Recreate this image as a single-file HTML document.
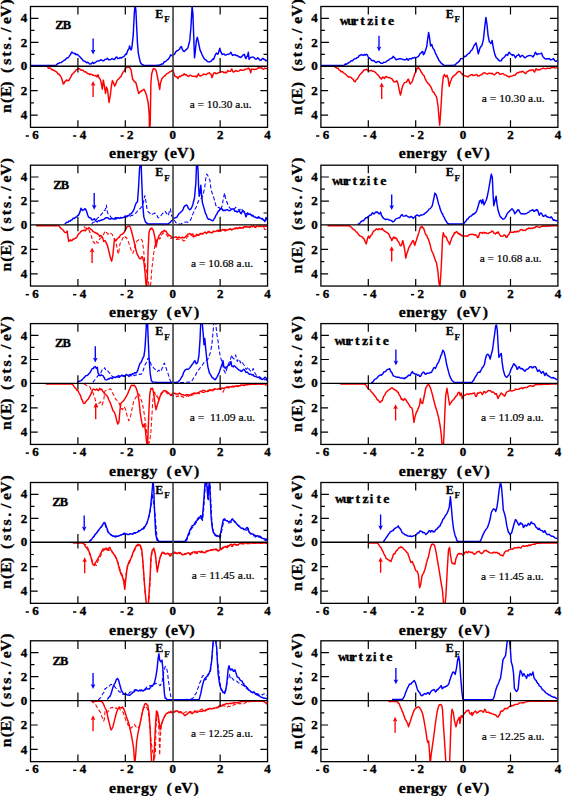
<!DOCTYPE html>
<html><head><meta charset="utf-8"><style>html,body{margin:0;padding:0;background:#fff;}svg{display:block;}</style></head>
<body><svg width="562" height="796" viewBox="0 0 562 796">
<rect width="562" height="796" fill="#fff"/>
<clipPath id="cL0"><rect x="30.5" y="6.5" width="237.05" height="120.85"/></clipPath>
<path d="M30.5,65.4 L56.1,65.4 L57.5,63.7 L58.8,63.3 L60.1,62.6 L61.2,62.5 L62.2,61.7 L63.3,61.0 L64.5,60.1 L65.6,59.5 L66.8,57.9 L68.0,57.9 L69.2,56.4 L70.4,54.7 L71.2,53.1 L72.0,52.0 L72.8,52.9 L73.6,53.1 L74.4,53.7 L75.2,53.4 L75.9,54.7 L76.7,54.4 L77.5,54.4 L78.3,55.5 L79.5,56.3 L80.7,57.9 L81.9,58.9 L83.1,60.7 L84.3,61.0 L85.5,61.8 L86.5,62.7 L87.6,62.3 L88.6,62.9 L89.4,63.9 L90.2,63.9 L91.4,63.7 L92.6,62.3 L93.8,63.4 L95.0,62.6 L96.0,62.0 L97.1,61.1 L98.1,61.0 L99.2,60.9 L100.2,60.2 L101.3,59.8 L102.5,60.8 L103.7,60.7 L104.9,59.4 L106.1,59.3 L107.4,58.2 L108.6,59.7 L109.8,59.8 L110.9,59.3 L112.1,58.6 L113.3,59.2 L114.5,59.5 L115.3,58.2 L116.1,57.1 L116.9,57.0 L117.7,58.6 L118.9,58.6 L120.0,57.5 L121.2,58.1 L122.4,57.1 L123.6,56.8 L124.8,55.5 L125.6,54.1 L126.4,54.4 L127.2,52.1 L128.0,49.9 L128.8,49.1 L129.6,46.0 L130.3,48.4 L131.1,49.9 L131.9,47.6 L133.2,35.7 L134.3,13.5 L135.1,4.8 L135.9,10.3 L136.7,27.8 L137.5,43.6 L138.3,53.1 L139.8,60.2 L140.6,62.8 L141.4,63.9 L142.6,64.8 L143.8,65.2 L149.4,65.4 L155.7,65.4 L159.7,65.0 L160.8,64.5 L162.0,63.9 L163.1,63.9 L164.1,61.7 L165.2,61.8 L166.4,60.7 L167.6,59.5 L168.4,59.2 L169.2,57.9 L169.9,56.6 L170.7,54.7 L171.5,55.5 L172.3,56.0 L173.5,54.9 L174.7,53.9 L175.9,51.6 L177.1,50.7 L177.9,50.6 L178.7,49.6 L179.5,49.4 L180.2,47.6 L181.4,46.5 L182.6,49.9 L183.4,51.1 L184.2,51.5 L185.4,50.2 L186.6,49.1 L187.4,48.7 L188.2,46.7 L189.8,40.4 L191.0,26.2 L192.1,6.4 L192.9,13.5 L193.7,35.7 L194.5,57.8 L195.3,51.5 L196.4,40.4 L197.3,37.2 L198.4,42.0 L200.0,49.9 L201.2,52.4 L202.4,55.4 L203.6,57.8 L204.8,59.4 L206.0,60.0 L207.2,61.3 L208.3,61.9 L209.5,61.8 L210.7,61.5 L211.9,60.2 L212.7,59.1 L213.5,59.4 L214.3,57.6 L215.1,55.4 L215.9,53.8 L216.7,53.1 L217.4,54.2 L218.2,53.9 L219.8,48.3 L220.6,51.5 L221.4,52.7 L222.2,54.6 L223.0,54.1 L223.8,53.9 L225.0,55.0 L226.2,55.0 L227.3,54.3 L228.5,54.3 L229.7,53.9 L230.9,52.3 L231.7,53.9 L232.5,55.4 L233.7,55.0 L234.9,54.6 L236.0,55.5 L237.2,55.4 L238.4,56.5 L239.6,57.0 L240.8,57.5 L242.0,56.2 L243.2,54.9 L244.4,54.3 L245.2,57.3 L245.9,58.6 L246.7,56.7 L247.5,56.2 L248.3,52.3 L249.1,59.4 L249.9,58.1 L250.7,57.5 L251.9,57.1 L253.1,57.0 L254.2,57.8 L255.4,59.1 L256.6,59.1 L257.8,57.8 L259.0,59.1 L260.2,60.2 L261.0,60.4 L261.8,59.1 L263.0,58.4 L264.1,59.4 L264.9,59.4 L265.7,60.7 L266.7,60.5 L267.6,61.3" fill="none" stroke="#0000ff" stroke-width="1.45" stroke-linejoin="round" clip-path="url(#cL0)"/>
<path d="M47.4,67.0 L48.5,68.2 L49.5,67.9 L50.6,68.2 L51.6,69.7 L52.7,69.6 L53.8,70.5 L54.8,70.9 L55.9,71.5 L56.9,72.4 L58.1,74.0 L59.3,74.5 L60.5,76.0 L61.7,78.5 L63.3,84.0 L64.1,83.4 L64.8,81.6 L65.6,81.3 L66.4,80.0 L67.2,80.3 L68.0,80.8 L68.8,80.5 L69.6,79.2 L70.4,77.7 L71.2,76.1 L72.0,74.4 L72.8,73.7 L74.0,72.4 L75.2,71.3 L76.3,69.6 L77.5,69.3 L78.7,68.5 L79.9,69.0 L81.1,70.3 L82.3,70.2 L83.3,70.3 L84.4,71.9 L85.5,71.8 L86.5,72.6 L87.6,73.6 L88.6,73.7 L90.0,74.7 L91.0,74.1 L92.1,74.7 L93.4,75.2 L94.8,75.8 L95.8,75.5 L96.9,76.9 L98.0,74.7 L99.1,78.0 L100.1,79.0 L101.2,82.8 L102.3,89.2 L103.3,80.1 L104.4,86.0 L105.5,93.4 L106.5,87.0 L107.6,90.2 L109.0,102.5 L110.3,95.6 L111.4,86.0 L112.4,80.6 L113.5,82.8 L114.6,86.0 L115.4,85.0 L116.2,82.8 L117.0,80.6 L117.8,79.6 L118.8,78.7 L119.9,77.4 L121.0,76.7 L122.0,74.2 L123.1,72.1 L124.2,71.0 L125.0,69.3 L125.8,68.3 L126.6,66.9 L127.4,67.3 L129.5,67.3 L130.3,68.5 L131.1,69.9 L132.7,79.6 L133.5,80.1 L134.3,81.7 L135.1,82.0 L135.9,82.8 L137.0,87.0 L138.6,93.4 L139.4,93.0 L140.2,91.3 L141.2,91.5 L142.3,90.2 L143.1,89.9 L143.9,89.2 L145.0,91.3 L145.8,93.3 L146.6,95.6 L148.2,103.0 L149.2,114.8 L149.4,130.7 L150.2,124.4 L150.9,83.2 L151.7,73.7 L153.3,68.6 L154.1,69.1 L154.9,69.0 L155.7,69.7 L156.5,72.1 L158.1,80.0 L159.7,89.5 L160.4,83.2 L162.0,78.5 L163.2,77.3 L164.4,76.1 L165.6,75.1 L166.8,73.7 L168.0,73.2 L169.2,72.4 L170.3,71.5 L171.5,71.3 L172.3,70.1 L173.1,70.5 L174.7,76.1 L175.5,76.2 L176.3,76.9 L177.1,76.9 L177.9,78.5 L178.7,77.4 L179.5,76.1 L180.6,76.6 L181.8,75.3 L183.0,75.4 L184.2,73.7 L185.3,74.9 L186.3,74.6 L187.4,76.0 L188.6,76.4 L189.8,75.2 L190.9,75.4 L192.1,76.0 L193.3,76.3 L194.5,76.5 L195.7,76.2 L196.9,77.1 L197.7,75.1 L198.4,73.7 L199.2,75.5 L200.0,76.0 L201.2,75.8 L202.4,75.2 L203.6,74.0 L204.8,74.4 L206.0,74.8 L207.2,73.7 L208.3,73.1 L209.5,72.8 L210.3,74.1 L211.1,74.4 L211.9,77.6 L212.7,76.0 L213.5,73.3 L214.7,72.6 L215.9,73.7 L217.1,73.5 L218.2,72.8 L219.4,72.5 L220.6,72.1 L221.8,71.8 L223.0,71.8 L224.0,72.8 L225.1,72.1 L226.2,72.8 L226.9,72.3 L227.7,70.5 L228.9,71.4 L230.1,71.3 L230.9,70.7 L231.7,68.9 L232.5,70.8 L233.3,72.1 L234.5,71.5 L235.7,70.5 L236.8,71.1 L238.0,71.3 L239.2,70.8 L240.4,69.7 L241.6,70.3 L242.8,70.2 L244.0,70.1 L245.2,69.2 L246.3,69.1 L247.5,68.9 L248.3,68.0 L249.1,68.6 L249.9,70.0 L250.7,72.8 L251.5,68.9 L252.5,69.4 L253.6,69.2 L254.7,69.7 L255.8,69.2 L257.0,68.9 L258.2,67.7 L259.4,68.1 L260.4,67.6 L261.5,67.8 L262.6,68.9 L263.7,69.3 L264.9,68.1 L266.3,68.6 L267.6,68.6" fill="none" stroke="#ff0000" stroke-width="1.45" stroke-linejoin="round" clip-path="url(#cL0)"/>
<line x1="93.10" y1="38.40" x2="93.10" y2="50.70" stroke="#0000ff" stroke-width="1.35"/><path d="M90.80,49.70 L93.10,50.50 L95.40,49.70 L93.10,54.50Z" fill="#0000ff"/>
<line x1="93.10" y1="96.90" x2="93.10" y2="84.70" stroke="#ff0000" stroke-width="1.35"/><path d="M90.80,85.70 L93.10,84.90 L95.40,85.70 L93.10,80.90Z" fill="#ff0000"/>
<line x1="30.5" y1="66.25" x2="267.55" y2="66.25" stroke="#000" stroke-width="1.3"/>
<line x1="173.03" y1="6.5" x2="173.03" y2="127.35" stroke="#404040" stroke-width="1.6"/>
<path d="M77.91,127.35v-7.1M77.91,6.5v8.1M77.91,58.10v14.5M125.32,127.35v-7.1M125.32,6.5v8.1M125.32,58.10v14.5M220.14,127.35v-7.1M220.14,6.5v8.1M220.14,58.10v14.5M30.5,115.10h7.2M267.55,115.10h-7.2M30.5,102.90h3.4M267.55,102.90h-3.4M30.5,90.70h7.2M267.55,90.70h-7.2M30.5,78.50h3.4M267.55,78.50h-3.4M30.5,54.30h4M267.55,54.30h-4M30.5,42.40h8M267.55,42.40h-8M30.5,30.35h4M267.55,30.35h-4M30.5,18.30h8M267.55,18.30h-8" stroke="#000" stroke-width="1.2" fill="none"/>
<rect x="30.5" y="6.5" width="237.05" height="120.85" fill="none" stroke="#000" stroke-width="1.3"/>
<text transform="translate(24.00,22.40) scale(1.08,1.0)" text-anchor="middle" font-family="Liberation Serif" font-weight="bold" font-size="12.0" stroke="#000" stroke-width="0.35">4</text>
<text transform="translate(24.00,46.50) scale(1.08,1.0)" text-anchor="middle" font-family="Liberation Serif" font-weight="bold" font-size="12.0" stroke="#000" stroke-width="0.35">2</text>
<text transform="translate(24.00,70.30) scale(1.08,1.0)" text-anchor="middle" font-family="Liberation Serif" font-weight="bold" font-size="12.0" stroke="#000" stroke-width="0.35">0</text>
<text transform="translate(24.00,94.80) scale(1.08,1.0)" text-anchor="middle" font-family="Liberation Serif" font-weight="bold" font-size="12.0" stroke="#000" stroke-width="0.35">2</text>
<text transform="translate(24.00,119.20) scale(1.08,1.0)" text-anchor="middle" font-family="Liberation Serif" font-weight="bold" font-size="12.0" stroke="#000" stroke-width="0.35">4</text>
<text transform="translate(35.50,139.15) scale(1.08,1.0)" text-anchor="middle" font-family="Liberation Serif" font-weight="bold" font-size="12.0" stroke="#000" stroke-width="0.35">6</text>
<rect x="25.70" y="135.25" width="3.2" height="1.5" fill="#000"/>
<text transform="translate(82.91,139.15) scale(1.08,1.0)" text-anchor="middle" font-family="Liberation Serif" font-weight="bold" font-size="12.0" stroke="#000" stroke-width="0.35">4</text>
<rect x="73.11" y="135.25" width="3.2" height="1.5" fill="#000"/>
<text transform="translate(130.32,139.15) scale(1.08,1.0)" text-anchor="middle" font-family="Liberation Serif" font-weight="bold" font-size="12.0" stroke="#000" stroke-width="0.35">2</text>
<rect x="120.52" y="135.25" width="3.2" height="1.5" fill="#000"/>
<text transform="translate(172.73,139.15) scale(1.08,1.0)" text-anchor="middle" font-family="Liberation Serif" font-weight="bold" font-size="12.0" stroke="#000" stroke-width="0.35">0</text>
<text transform="translate(220.14,139.15) scale(1.08,1.0)" text-anchor="middle" font-family="Liberation Serif" font-weight="bold" font-size="12.0" stroke="#000" stroke-width="0.35">2</text>
<text transform="translate(267.55,139.15) scale(1.08,1.0)" text-anchor="middle" font-family="Liberation Serif" font-weight="bold" font-size="12.0" stroke="#000" stroke-width="0.35">4</text>
<text transform="translate(112.60,157.75) scale(1.13,1.0)" text-anchor="middle" font-family="Liberation Serif" font-weight="bold" font-size="14.0" stroke="#000" stroke-width="0.3">e</text>
<text transform="translate(121.00,157.75) scale(1.13,1.0)" text-anchor="middle" font-family="Liberation Serif" font-weight="bold" font-size="14.0" stroke="#000" stroke-width="0.3">n</text>
<text transform="translate(129.20,157.75) scale(1.13,1.0)" text-anchor="middle" font-family="Liberation Serif" font-weight="bold" font-size="14.0" stroke="#000" stroke-width="0.3">e</text>
<text transform="translate(136.80,157.75) scale(1.13,1.0)" text-anchor="middle" font-family="Liberation Serif" font-weight="bold" font-size="14.0" stroke="#000" stroke-width="0.3">r</text>
<text transform="translate(145.00,157.75) scale(1.13,1.0)" text-anchor="middle" font-family="Liberation Serif" font-weight="bold" font-size="14.0" stroke="#000" stroke-width="0.3">g</text>
<text transform="translate(153.40,157.75) scale(1.13,1.0)" text-anchor="middle" font-family="Liberation Serif" font-weight="bold" font-size="14.0" stroke="#000" stroke-width="0.3">y</text>
<text transform="translate(167.00,157.75) scale(1.13,1.0)" text-anchor="middle" font-family="Liberation Serif" font-weight="bold" font-size="14.0" stroke="#000" stroke-width="0.3">(</text>
<text transform="translate(173.50,157.75) scale(1.13,1.0)" text-anchor="middle" font-family="Liberation Serif" font-weight="bold" font-size="14.0" stroke="#000" stroke-width="0.3">e</text>
<text transform="translate(182.70,157.75) scale(1.13,1.0)" text-anchor="middle" font-family="Liberation Serif" font-weight="bold" font-size="14.0" stroke="#000" stroke-width="0.3">V</text>
<text transform="translate(192.20,157.75) scale(1.13,1.0)" text-anchor="middle" font-family="Liberation Serif" font-weight="bold" font-size="14.0" stroke="#000" stroke-width="0.3">)</text>
<text transform="translate(10.60,108.50) rotate(-90) scale(1.13,1.06)" text-anchor="middle" font-family="Liberation Serif" font-weight="bold" font-size="14.0" stroke="#000" stroke-width="0.3">n</text>
<text transform="translate(10.60,100.40) rotate(-90) scale(1.13,1.06)" text-anchor="middle" font-family="Liberation Serif" font-weight="bold" font-size="14.0" stroke="#000" stroke-width="0.3">(</text>
<text transform="translate(10.60,91.60) rotate(-90) scale(1.13,1.06)" text-anchor="middle" font-family="Liberation Serif" font-weight="bold" font-size="14.0" stroke="#000" stroke-width="0.3">E</text>
<text transform="translate(10.60,84.00) rotate(-90) scale(1.13,1.06)" text-anchor="middle" font-family="Liberation Serif" font-weight="bold" font-size="14.0" stroke="#000" stroke-width="0.3">)</text>
<text transform="translate(10.60,70.30) rotate(-90) scale(1.13,1.06)" text-anchor="middle" font-family="Liberation Serif" font-weight="bold" font-size="14.0" stroke="#000" stroke-width="0.3">(</text>
<text transform="translate(10.60,61.65) rotate(-90) scale(1.13,1.06)" text-anchor="middle" font-family="Liberation Serif" font-weight="bold" font-size="14.0" stroke="#000" stroke-width="0.3">s</text>
<text transform="translate(10.60,54.00) rotate(-90) scale(1.13,1.06)" text-anchor="middle" font-family="Liberation Serif" font-weight="bold" font-size="14.0" stroke="#000" stroke-width="0.3">t</text>
<text transform="translate(10.60,46.30) rotate(-90) scale(1.13,1.06)" text-anchor="middle" font-family="Liberation Serif" font-weight="bold" font-size="14.0" stroke="#000" stroke-width="0.3">s</text>
<text transform="translate(10.60,38.80) rotate(-90) scale(1.13,1.06)" text-anchor="middle" font-family="Liberation Serif" font-weight="bold" font-size="14.0" stroke="#000" stroke-width="0.3">.</text>
<text transform="translate(10.60,29.80) rotate(-90) scale(1.13,1.06)" text-anchor="middle" font-family="Liberation Serif" font-weight="bold" font-size="14.0" stroke="#000" stroke-width="0.3">/</text>
<text transform="translate(10.60,20.40) rotate(-90) scale(1.13,1.06)" text-anchor="middle" font-family="Liberation Serif" font-weight="bold" font-size="14.0" stroke="#000" stroke-width="0.3">e</text>
<text transform="translate(10.60,11.20) rotate(-90) scale(1.13,1.06)" text-anchor="middle" font-family="Liberation Serif" font-weight="bold" font-size="14.0" stroke="#000" stroke-width="0.3">V</text>
<text transform="translate(10.60,1.80) rotate(-90) scale(1.13,1.06)" text-anchor="middle" font-family="Liberation Serif" font-weight="bold" font-size="14.0" stroke="#000" stroke-width="0.3">)</text>
<text transform="translate(159.33,17.70)" text-anchor="middle" font-family="Liberation Serif" font-weight="bold" font-size="12" stroke="#000" stroke-width="0.3">E</text>
<text transform="translate(166.93,22.40)" text-anchor="middle" font-family="Liberation Serif" font-weight="bold" font-size="9" stroke="#000" stroke-width="0.25">F</text>
<text x="189.70" y="107.70" textLength="61.90" lengthAdjust="spacingAndGlyphs" font-family="Liberation Serif" font-size="11" stroke="#000" stroke-width="0.2">a = 10.30 a.u.</text>
<text transform="translate(59.50,28.60)" text-anchor="middle" font-family="Liberation Serif" font-weight="bold" font-size="12.5" stroke="#000" stroke-width="0.35">Z</text>
<text transform="translate(67.00,28.60)" text-anchor="middle" font-family="Liberation Serif" font-weight="bold" font-size="12.5" stroke="#000" stroke-width="0.35">B</text>
<clipPath id="cR0"><rect x="320.9" y="6.5" width="237.00" height="120.85"/></clipPath>
<path d="M320.9,65.4 L344.1,65.4 L345.3,64.0 L346.5,64.2 L347.7,63.4 L348.9,62.6 L350.1,61.8 L351.3,60.7 L352.5,60.7 L353.6,59.5 L354.8,58.7 L356.0,58.6 L357.2,57.7 L358.4,57.1 L359.2,55.4 L360.0,55.5 L361.2,54.5 L362.4,55.0 L363.5,55.3 L364.7,54.4 L365.5,55.1 L366.3,54.4 L367.1,54.5 L367.9,56.3 L369.1,58.0 L370.3,58.6 L371.5,60.3 L372.6,60.7 L373.8,60.5 L375.0,61.8 L376.2,62.5 L377.4,61.8 L378.6,61.4 L379.8,62.3 L380.6,63.0 L381.4,63.4 L382.6,63.3 L383.7,62.3 L384.9,62.4 L386.1,61.8 L387.3,60.8 L388.5,60.2 L389.7,58.9 L390.9,58.6 L392.1,58.0 L393.2,56.3 L394.0,57.4 L394.8,57.9 L395.0,58.6 L396.2,59.8 L397.4,59.1 L398.6,59.2 L399.8,58.6 L400.9,58.7 L402.1,59.1 L403.3,59.5 L404.5,59.8 L405.7,59.8 L406.9,58.6 L407.7,59.8 L408.5,60.2 L409.3,58.6 L410.1,58.6 L411.2,59.0 L412.4,57.9 L413.6,58.0 L414.8,57.5 L416.0,57.6 L417.2,57.1 L418.4,56.4 L419.6,54.7 L420.3,53.2 L421.1,53.1 L421.9,51.6 L422.7,51.5 L423.5,54.7 L424.3,53.5 L425.1,51.5 L426.7,46.8 L427.5,40.4 L428.6,32.5 L429.5,37.3 L430.6,46.0 L431.8,44.4 L433.0,48.4 L434.2,49.8 L435.4,53.1 L436.6,55.5 L437.8,57.9 L439.0,60.4 L440.1,61.8 L441.3,63.3 L442.5,64.2 L443.7,65.1 L444.9,65.4 L452.0,65.4 L455.2,65.0 L456.4,63.4 L457.6,62.6 L458.8,61.7 L459.9,60.2 L460.7,58.6 L461.5,58.6 L462.3,58.6 L463.1,58.6 L463.9,57.2 L464.7,56.3 L465.9,56.2 L467.1,54.7 L468.3,53.7 L469.5,53.1 L470.2,51.9 L471.0,50.7 L472.3,49.4 L473.6,46.7 L474.4,44.8 L475.2,44.4 L476.0,42.8 L477.1,47.5 L478.3,53.9 L479.9,48.3 L480.9,46.4 L481.8,45.9 L483.4,39.6 L484.7,27.7 L485.9,17.4 L487.0,24.6 L488.1,35.6 L489.4,42.0 L490.2,42.5 L491.0,43.6 L492.1,40.4 L493.4,48.3 L494.9,54.6 L496.1,57.4 L497.3,58.6 L498.5,59.9 L499.7,61.0 L500.5,60.9 L501.3,60.7 L502.5,58.4 L503.6,57.8 L504.8,56.7 L506.0,54.6 L506.8,54.9 L507.6,55.4 L508.4,53.2 L509.2,52.3 L510.4,53.9 L511.6,54.6 L512.4,55.4 L513.1,54.6 L514.3,55.5 L515.5,57.8 L516.3,56.4 L517.1,55.4 L517.9,55.2 L518.7,54.3 L519.5,55.9 L520.3,57.0 L521.5,55.7 L522.6,55.4 L523.8,56.9 L525.0,57.8 L526.2,57.0 L527.4,56.2 L528.6,55.7 L529.8,55.4 L530.8,55.6 L531.9,55.9 L532.9,57.0 L534.1,55.4 L535.3,52.3 L536.1,53.2 L536.9,54.6 L538.1,53.8 L539.3,53.9 L540.5,53.6 L541.6,53.1 L542.4,55.6 L543.2,57.0 L544.0,57.7 L544.8,58.6 L546.0,59.2 L547.2,58.6 L548.4,58.7 L549.5,58.6 L550.3,59.8 L551.1,59.7 L552.3,59.4 L553.5,58.6 L554.3,60.1 L555.1,61.0 L556.3,61.3 L557.5,60.2" fill="none" stroke="#0000ff" stroke-width="1.45" stroke-linejoin="round" clip-path="url(#cR0)"/>
<path d="M334.6,67.0 L335.8,67.4 L337.0,68.2 L338.1,68.2 L339.1,69.8 L340.2,70.5 L341.2,71.9 L342.3,71.4 L343.4,72.9 L344.4,73.3 L345.5,74.2 L346.5,75.3 L347.6,76.2 L348.6,77.2 L349.7,76.9 L350.9,77.2 L352.1,78.5 L353.2,79.4 L354.4,81.6 L355.2,81.7 L356.0,80.0 L357.2,79.2 L358.4,77.2 L359.6,75.0 L360.8,73.7 L362.0,72.6 L363.1,71.3 L364.3,69.7 L365.5,69.7 L366.7,69.3 L367.9,70.5 L369.1,70.7 L370.3,70.8 L371.5,70.4 L372.6,71.3 L373.8,71.3 L375.0,72.1 L376.2,73.3 L377.4,74.5 L378.6,75.7 L379.8,77.7 L380.6,77.8 L381.4,79.2 L382.2,77.9 L382.9,76.9 L383.7,77.9 L384.5,78.5 L385.3,76.9 L386.1,76.5 L387.3,77.2 L388.5,77.7 L389.7,77.5 L390.9,78.5 L392.1,78.9 L393.2,80.8 L394.0,81.9 L394.8,81.6 L395.0,81.6 L395.8,81.7 L396.6,80.8 L397.4,81.9 L398.2,84.8 L399.8,92.7 L400.5,95.1 L402.1,88.0 L402.9,85.4 L403.7,84.0 L404.5,82.6 L405.3,82.4 L406.1,82.1 L406.9,81.6 L407.7,79.7 L408.5,79.2 L410.1,84.0 L410.8,83.2 L411.6,82.4 L412.4,81.0 L413.2,78.5 L414.8,73.7 L415.6,72.2 L416.4,69.0 L417.2,68.8 L418.0,67.4 L418.8,68.0 L419.6,69.3 L420.3,69.9 L421.1,72.1 L421.9,72.7 L422.7,74.5 L423.5,75.2 L424.3,76.1 L425.1,78.9 L425.9,80.0 L426.7,82.1 L427.5,82.4 L428.3,84.0 L429.1,84.0 L429.9,85.8 L430.6,86.4 L431.4,88.1 L432.2,90.3 L433.0,92.0 L433.8,91.9 L434.6,94.0 L435.4,95.1 L436.2,96.3 L437.0,99.0 L438.1,107.0 L439.0,118.1 L439.7,125.2 L440.5,114.9 L441.3,102.2 L442.2,86.4 L443.3,76.9 L444.4,74.5 L445.7,76.9 L447.0,75.3 L448.1,78.5 L449.2,86.4 L450.4,81.6 L451.2,80.0 L452.0,77.7 L453.2,76.5 L454.4,75.3 L455.6,74.6 L456.8,72.9 L458.0,71.9 L459.2,71.3 L460.3,71.8 L461.5,73.7 L462.3,73.8 L463.1,75.3 L464.3,75.5 L465.5,76.1 L466.7,76.3 L467.9,76.9 L469.1,75.8 L470.2,75.3 L471.1,74.7 L472.0,74.4 L473.2,75.7 L474.4,75.2 L475.6,74.9 L476.8,74.4 L477.9,76.0 L479.1,76.0 L480.3,75.0 L481.5,74.9 L482.7,73.6 L483.9,72.8 L485.1,72.9 L486.2,73.6 L487.4,74.0 L488.6,73.3 L489.8,73.3 L491.0,73.6 L492.2,73.2 L493.4,74.4 L494.6,74.9 L495.7,73.6 L496.5,72.9 L497.3,72.4 L498.5,72.6 L499.7,74.4 L500.9,74.0 L502.1,73.6 L503.3,73.6 L504.4,74.9 L505.6,75.0 L506.8,76.0 L508.0,76.3 L509.2,77.1 L510.4,76.1 L511.6,76.0 L512.8,75.7 L513.9,75.2 L515.1,75.2 L516.3,73.6 L517.5,72.6 L518.7,72.8 L519.9,71.8 L521.1,72.1 L522.2,71.3 L523.4,71.7 L524.6,72.9 L525.8,73.6 L527.0,71.6 L528.2,71.3 L529.4,70.2 L530.6,70.5 L531.8,69.9 L532.9,69.7 L533.7,71.1 L534.5,72.1 L535.3,70.3 L536.1,68.6 L537.3,70.0 L538.5,69.7 L539.7,69.9 L540.9,69.2 L542.0,68.7 L543.2,68.1 L544.4,68.6 L545.6,68.9 L546.8,68.3 L548.0,68.1 L549.2,68.4 L550.4,68.6 L551.5,67.3 L552.7,67.6 L553.9,67.3 L555.1,68.1 L556.3,67.9 L557.5,67.6" fill="none" stroke="#ff0000" stroke-width="1.45" stroke-linejoin="round" clip-path="url(#cR0)"/>
<line x1="379.00" y1="35.70" x2="379.00" y2="47.60" stroke="#0000ff" stroke-width="1.35"/><path d="M376.70,46.60 L379.00,47.40 L381.30,46.60 L379.00,51.40Z" fill="#0000ff"/>
<line x1="381.70" y1="99.00" x2="381.70" y2="86.30" stroke="#ff0000" stroke-width="1.35"/><path d="M379.40,87.30 L381.70,86.50 L384.00,87.30 L381.70,82.50Z" fill="#ff0000"/>
<line x1="320.9" y1="66.25" x2="557.9" y2="66.25" stroke="#000" stroke-width="1.3"/>
<line x1="463.40" y1="6.5" x2="463.40" y2="127.35" stroke="#000" stroke-width="1.2"/>
<path d="M368.30,127.35v-7.1M368.30,6.5v8.1M368.30,58.10v14.5M415.70,127.35v-7.1M415.70,6.5v8.1M415.70,58.10v14.5M510.50,127.35v-7.1M510.50,6.5v8.1M510.50,58.10v14.5M320.9,115.10h7.2M557.9,115.10h-7.2M320.9,102.90h3.4M557.9,102.90h-3.4M320.9,90.70h7.2M557.9,90.70h-7.2M320.9,78.50h3.4M557.9,78.50h-3.4M320.9,54.30h4M557.9,54.30h-4M320.9,42.40h8M557.9,42.40h-8M320.9,30.35h4M557.9,30.35h-4M320.9,18.30h8M557.9,18.30h-8" stroke="#000" stroke-width="1.2" fill="none"/>
<rect x="320.9" y="6.5" width="237.00" height="120.85" fill="none" stroke="#000" stroke-width="1.3"/>
<text transform="translate(314.40,22.40) scale(1.08,1.0)" text-anchor="middle" font-family="Liberation Serif" font-weight="bold" font-size="12.0" stroke="#000" stroke-width="0.35">4</text>
<text transform="translate(314.40,46.50) scale(1.08,1.0)" text-anchor="middle" font-family="Liberation Serif" font-weight="bold" font-size="12.0" stroke="#000" stroke-width="0.35">2</text>
<text transform="translate(314.40,70.30) scale(1.08,1.0)" text-anchor="middle" font-family="Liberation Serif" font-weight="bold" font-size="12.0" stroke="#000" stroke-width="0.35">0</text>
<text transform="translate(314.40,94.80) scale(1.08,1.0)" text-anchor="middle" font-family="Liberation Serif" font-weight="bold" font-size="12.0" stroke="#000" stroke-width="0.35">2</text>
<text transform="translate(314.40,119.20) scale(1.08,1.0)" text-anchor="middle" font-family="Liberation Serif" font-weight="bold" font-size="12.0" stroke="#000" stroke-width="0.35">4</text>
<text transform="translate(325.90,139.15) scale(1.08,1.0)" text-anchor="middle" font-family="Liberation Serif" font-weight="bold" font-size="12.0" stroke="#000" stroke-width="0.35">6</text>
<rect x="316.10" y="135.25" width="3.2" height="1.5" fill="#000"/>
<text transform="translate(373.30,139.15) scale(1.08,1.0)" text-anchor="middle" font-family="Liberation Serif" font-weight="bold" font-size="12.0" stroke="#000" stroke-width="0.35">4</text>
<rect x="363.50" y="135.25" width="3.2" height="1.5" fill="#000"/>
<text transform="translate(420.70,139.15) scale(1.08,1.0)" text-anchor="middle" font-family="Liberation Serif" font-weight="bold" font-size="12.0" stroke="#000" stroke-width="0.35">2</text>
<rect x="410.90" y="135.25" width="3.2" height="1.5" fill="#000"/>
<text transform="translate(463.10,139.15) scale(1.08,1.0)" text-anchor="middle" font-family="Liberation Serif" font-weight="bold" font-size="12.0" stroke="#000" stroke-width="0.35">0</text>
<text transform="translate(510.50,139.15) scale(1.08,1.0)" text-anchor="middle" font-family="Liberation Serif" font-weight="bold" font-size="12.0" stroke="#000" stroke-width="0.35">2</text>
<text transform="translate(557.90,139.15) scale(1.08,1.0)" text-anchor="middle" font-family="Liberation Serif" font-weight="bold" font-size="12.0" stroke="#000" stroke-width="0.35">4</text>
<text transform="translate(402.20,157.75) scale(1.13,1.0)" text-anchor="middle" font-family="Liberation Serif" font-weight="bold" font-size="14.0" stroke="#000" stroke-width="0.3">e</text>
<text transform="translate(410.60,157.75) scale(1.13,1.0)" text-anchor="middle" font-family="Liberation Serif" font-weight="bold" font-size="14.0" stroke="#000" stroke-width="0.3">n</text>
<text transform="translate(418.80,157.75) scale(1.13,1.0)" text-anchor="middle" font-family="Liberation Serif" font-weight="bold" font-size="14.0" stroke="#000" stroke-width="0.3">e</text>
<text transform="translate(426.40,157.75) scale(1.13,1.0)" text-anchor="middle" font-family="Liberation Serif" font-weight="bold" font-size="14.0" stroke="#000" stroke-width="0.3">r</text>
<text transform="translate(434.60,157.75) scale(1.13,1.0)" text-anchor="middle" font-family="Liberation Serif" font-weight="bold" font-size="14.0" stroke="#000" stroke-width="0.3">g</text>
<text transform="translate(443.00,157.75) scale(1.13,1.0)" text-anchor="middle" font-family="Liberation Serif" font-weight="bold" font-size="14.0" stroke="#000" stroke-width="0.3">y</text>
<text transform="translate(459.30,157.75) scale(1.13,1.0)" text-anchor="middle" font-family="Liberation Serif" font-weight="bold" font-size="14.0" stroke="#000" stroke-width="0.3">(</text>
<text transform="translate(467.90,157.75) scale(1.13,1.0)" text-anchor="middle" font-family="Liberation Serif" font-weight="bold" font-size="14.0" stroke="#000" stroke-width="0.3">e</text>
<text transform="translate(477.20,157.75) scale(1.13,1.0)" text-anchor="middle" font-family="Liberation Serif" font-weight="bold" font-size="14.0" stroke="#000" stroke-width="0.3">V</text>
<text transform="translate(487.10,157.75) scale(1.13,1.0)" text-anchor="middle" font-family="Liberation Serif" font-weight="bold" font-size="14.0" stroke="#000" stroke-width="0.3">)</text>
<text transform="translate(301.70,110.50) rotate(-90) scale(1.13,1.06)" text-anchor="middle" font-family="Liberation Serif" font-weight="bold" font-size="14.0" stroke="#000" stroke-width="0.3">n</text>
<text transform="translate(301.70,101.90) rotate(-90) scale(1.13,1.06)" text-anchor="middle" font-family="Liberation Serif" font-weight="bold" font-size="14.0" stroke="#000" stroke-width="0.3">(</text>
<text transform="translate(301.70,93.30) rotate(-90) scale(1.13,1.06)" text-anchor="middle" font-family="Liberation Serif" font-weight="bold" font-size="14.0" stroke="#000" stroke-width="0.3">E</text>
<text transform="translate(301.70,84.60) rotate(-90) scale(1.13,1.06)" text-anchor="middle" font-family="Liberation Serif" font-weight="bold" font-size="14.0" stroke="#000" stroke-width="0.3">)</text>
<text transform="translate(301.70,68.90) rotate(-90) scale(1.13,1.06)" text-anchor="middle" font-family="Liberation Serif" font-weight="bold" font-size="14.0" stroke="#000" stroke-width="0.3">(</text>
<text transform="translate(301.70,62.20) rotate(-90) scale(1.13,1.06)" text-anchor="middle" font-family="Liberation Serif" font-weight="bold" font-size="14.0" stroke="#000" stroke-width="0.3">s</text>
<text transform="translate(301.70,54.50) rotate(-90) scale(1.13,1.06)" text-anchor="middle" font-family="Liberation Serif" font-weight="bold" font-size="14.0" stroke="#000" stroke-width="0.3">t</text>
<text transform="translate(301.70,46.20) rotate(-90) scale(1.13,1.06)" text-anchor="middle" font-family="Liberation Serif" font-weight="bold" font-size="14.0" stroke="#000" stroke-width="0.3">s</text>
<text transform="translate(301.70,38.90) rotate(-90) scale(1.13,1.06)" text-anchor="middle" font-family="Liberation Serif" font-weight="bold" font-size="14.0" stroke="#000" stroke-width="0.3">.</text>
<text transform="translate(301.70,30.80) rotate(-90) scale(1.13,1.06)" text-anchor="middle" font-family="Liberation Serif" font-weight="bold" font-size="14.0" stroke="#000" stroke-width="0.3">/</text>
<text transform="translate(301.70,20.30) rotate(-90) scale(1.13,1.06)" text-anchor="middle" font-family="Liberation Serif" font-weight="bold" font-size="14.0" stroke="#000" stroke-width="0.3">e</text>
<text transform="translate(301.70,10.80) rotate(-90) scale(1.13,1.06)" text-anchor="middle" font-family="Liberation Serif" font-weight="bold" font-size="14.0" stroke="#000" stroke-width="0.3">V</text>
<text transform="translate(301.70,1.50) rotate(-90) scale(1.13,1.06)" text-anchor="middle" font-family="Liberation Serif" font-weight="bold" font-size="14.0" stroke="#000" stroke-width="0.3">)</text>
<text transform="translate(449.70,17.70)" text-anchor="middle" font-family="Liberation Serif" font-weight="bold" font-size="12" stroke="#000" stroke-width="0.3">E</text>
<text transform="translate(457.30,22.40)" text-anchor="middle" font-family="Liberation Serif" font-weight="bold" font-size="9" stroke="#000" stroke-width="0.25">F</text>
<text x="481.80" y="102.20" textLength="62.90" lengthAdjust="spacingAndGlyphs" font-family="Liberation Serif" font-size="11" stroke="#000" stroke-width="0.2">a = 10.30 a.u.</text>
<text transform="translate(344.20,24.70)" text-anchor="middle" font-family="Liberation Serif" font-weight="bold" font-size="12.5" stroke="#000" stroke-width="0.35">w</text>
<text transform="translate(350.80,24.70)" text-anchor="middle" font-family="Liberation Serif" font-weight="bold" font-size="12.5" stroke="#000" stroke-width="0.35">u</text>
<text transform="translate(355.60,24.70)" text-anchor="middle" font-family="Liberation Serif" font-weight="bold" font-size="12.5" stroke="#000" stroke-width="0.35">r</text>
<text transform="translate(362.50,24.70) scale(1.1,1.0)" text-anchor="middle" font-family="Liberation Serif" font-weight="bold" font-size="12.5" stroke="#000" stroke-width="0.35">t</text>
<text transform="translate(370.30,24.70) scale(1.1,1.0)" text-anchor="middle" font-family="Liberation Serif" font-weight="bold" font-size="12.5" stroke="#000" stroke-width="0.35">z</text>
<text transform="translate(376.30,24.70)" text-anchor="middle" font-family="Liberation Serif" font-weight="bold" font-size="12.5" stroke="#000" stroke-width="0.35">i</text>
<text transform="translate(383.40,24.70) scale(1.1,1.0)" text-anchor="middle" font-family="Liberation Serif" font-weight="bold" font-size="12.5" stroke="#000" stroke-width="0.35">t</text>
<text transform="translate(391.00,24.70) scale(1.1,1.0)" text-anchor="middle" font-family="Liberation Serif" font-weight="bold" font-size="12.5" stroke="#000" stroke-width="0.35">e</text>
<clipPath id="cL1"><rect x="30.5" y="165.2" width="237.05" height="120.85"/></clipPath>
<path d="M91.8,224.0 L92.6,222.8 L93.4,222.4 L94.2,222.1 L95.0,220.8 L96.1,219.9 L97.3,218.4 L98.5,217.3 L99.7,216.9 L100.9,214.8 L102.1,213.7 L102.9,212.2 L103.7,210.5 L105.0,210.5 L106.3,205.0 L107.4,212.1 L108.2,214.0 L109.0,215.3 L110.2,216.0 L111.3,217.7 L112.4,218.8 L113.4,217.9 L114.5,218.4 L115.6,217.4 L116.6,217.6 L117.7,217.7 L118.7,218.3 L119.8,217.6 L120.8,217.2 L121.9,217.8 L123.0,217.8 L124.0,216.9 L125.1,217.6 L126.1,217.0 L127.2,216.9 L128.2,216.1 L129.3,217.2 L130.3,216.1 L131.5,215.6 L132.7,215.3 L133.9,214.0 L135.1,213.7 L135.9,212.9 L136.7,212.1 L137.5,210.8 L138.3,210.5 L139.1,209.9 L139.8,208.9 L141.1,207.4 L142.2,205.8 L143.8,201.0 L144.9,195.5 L145.9,201.0 L147.0,208.9 L147.8,211.4 L148.6,212.1 L149.8,213.2 L150.9,214.5 L152.1,214.6 L153.3,213.7 L154.1,213.6 L154.9,212.9 L155.7,214.3 L156.5,215.3 L157.3,216.0 L158.1,217.7 L158.9,217.8 L159.7,216.9 L160.4,216.5 L161.2,215.3 L162.4,213.7 L163.6,212.9 L164.4,211.7 L165.2,211.3 L166.0,212.7 L166.8,213.7 L167.6,215.4 L168.4,215.3 L169.6,210.5 L170.4,208.9 L171.5,215.3 L172.3,217.0 L173.1,218.4 L173.9,219.1 L174.7,220.8 L175.9,222.8 L177.1,223.2 L178.3,223.7 L179.5,224.0 L180.7,224.2 L181.9,223.3 L183.2,223.0 L184.4,222.3 L185.7,222.0 L186.9,222.1 L188.2,222.4 L189.2,221.6 L190.3,220.3 L191.3,218.4 L192.5,214.9 L193.7,212.1 L194.9,209.2 L196.1,207.3 L197.3,204.5 L198.4,201.0 L199.2,200.3 L200.0,199.4 L200.8,198.9 L201.6,197.8 L202.4,196.7 L203.2,194.7 L204.8,186.7 L206.1,175.7 L206.8,174.1 L207.9,175.7 L209.1,178.8 L210.0,180.4 L211.1,189.9 L212.7,194.7 L214.3,199.4 L215.9,205.7 L216.7,205.5 L217.4,206.5 L218.2,207.6 L219.0,207.3 L219.8,208.3 L220.6,210.5 L221.4,207.5 L222.2,205.7 L223.5,197.8 L224.6,193.1 L225.4,197.8 L226.5,201.0 L227.7,204.2 L228.5,205.9 L229.3,207.3 L230.1,208.3 L230.9,208.9 L231.7,209.1 L232.5,208.1 L233.3,208.3 L234.1,208.9 L234.9,208.3 L235.7,207.3 L236.4,208.6 L237.2,208.9 L238.4,209.6 L239.6,210.5 L240.4,208.4 L241.2,208.1 L242.4,210.2 L243.6,212.1 L244.8,212.1 L245.9,213.7 L247.1,213.2 L248.3,214.4 L249.5,214.8 L250.7,215.2 L251.9,216.1 L253.1,216.0 L254.1,216.3 L255.2,217.9 L256.2,217.6 L257.3,218.2 L258.3,217.8 L259.4,218.4 L260.4,218.7 L261.5,219.3 L262.6,219.2 L263.7,220.1 L264.9,221.6 L266.1,220.1 L267.3,217.6" fill="none" stroke="#0000ff" stroke-width="1.05" stroke-dasharray="4,2.2" stroke-linejoin="round" clip-path="url(#cL1)"/>
<path d="M83.9,226.4 L85.0,228.0 L86.2,227.9 L87.4,229.4 L88.6,229.5 L89.4,231.1 L90.2,232.7 L91.8,237.5 L92.6,240.5 L93.4,242.2 L94.2,242.2 L95.0,243.8 L95.7,242.8 L96.5,241.4 L97.3,242.9 L98.1,243.0 L98.9,241.0 L99.7,239.0 L100.5,238.3 L101.3,237.5 L102.5,235.9 L103.7,234.3 L105.0,231.1 L105.8,231.2 L106.6,232.7 L107.4,233.6 L108.2,234.3 L109.0,233.0 L109.8,232.7 L110.9,233.4 L112.1,234.3 L112.9,236.1 L113.7,237.5 L114.9,240.0 L116.1,243.0 L117.7,251.7 L118.5,254.1 L120.0,243.8 L120.8,242.3 L121.6,240.6 L122.4,239.1 L123.2,237.5 L124.0,237.4 L124.8,235.9 L125.6,237.4 L126.4,237.5 L127.2,239.4 L128.0,240.6 L129.6,245.4 L130.3,247.7 L131.1,250.1 L131.9,250.9 L132.7,253.3 L133.5,251.8 L134.3,248.5 L135.9,243.8 L136.7,241.5 L137.5,240.6 L138.3,240.3 L139.1,239.0 L139.8,239.2 L140.6,239.0 L141.4,239.5 L142.2,240.6 L143.0,245.4 L143.8,251.7 L144.6,261.2 L145.4,266.0 L147.0,273.9 L148.6,283.4 L150.2,289.7 L150.9,281.8 L151.7,270.7 L153.3,256.5 L154.9,245.4 L155.7,243.1 L156.5,240.6 L157.3,239.1 L158.1,237.5 L158.9,237.4 L159.7,239.0 L160.4,238.3 L161.2,235.9 L162.0,234.4 L162.8,233.5 L163.6,233.0 L164.4,232.7 L165.2,233.8 L166.0,234.3 L166.8,235.2 L167.6,235.9 L168.4,237.5 L169.2,237.5 L170.3,238.3 L171.5,238.2 L172.9,238.4 L174.2,239.3 L175.6,239.4 L176.9,239.4 L178.3,239.1 L179.6,239.3 L181.0,239.0 L182.3,239.8 L183.7,241.1 L185.0,240.6 L186.2,238.8 L187.4,236.6 L188.6,236.0 L189.8,235.0 L190.9,234.8 L192.1,235.8 L193.3,237.0 L194.5,237.4 L195.6,235.8 L196.6,235.9 L197.7,235.0 L198.7,234.2 L199.8,235.0 L200.8,234.2 L201.9,234.0 L202.9,234.1 L204.0,233.4 L205.0,232.5 L206.1,233.1 L207.2,232.7 L208.2,232.2 L209.3,231.8 L210.3,231.8 L211.4,232.6 L212.4,232.0 L213.5,231.8 L214.5,231.4 L215.6,231.7 L216.7,231.1 L217.7,231.2 L218.8,231.7 L219.8,230.8 L220.9,230.1 L221.9,229.6 L223.0,229.8 L224.0,229.3 L225.1,229.7 L226.2,229.2 L227.2,228.9 L228.3,230.0 L229.3,229.5 L230.4,228.5 L231.4,229.4 L232.5,228.7 L233.5,228.6 L234.6,227.9 L235.7,228.2 L236.7,227.3 L237.8,228.5 L238.8,227.9 L239.9,227.0 L240.9,228.0 L242.0,227.1 L243.0,227.3 L244.1,226.5 L245.2,226.6 L246.2,227.0 L247.3,227.1 L248.3,227.1 L249.4,227.7 L250.4,227.0 L251.5,226.3 L252.5,225.9 L253.6,227.2 L254.7,227.1 L255.7,227.6 L256.8,226.0 L257.8,226.6 L258.9,227.3 L259.9,226.0 L261.0,226.3 L262.0,227.7 L263.1,227.1 L264.1,227.9 L264.9,229.4 L265.7,229.5 L266.5,229.2 L267.3,227.9" fill="none" stroke="#ff0000" stroke-width="1.05" stroke-dasharray="4,2.2" stroke-linejoin="round" clip-path="url(#cL1)"/>
<path d="M64.8,224.0 L65.9,223.0 L67.0,222.2 L68.0,222.4 L69.1,220.9 L70.1,221.3 L71.2,220.0 L72.2,219.7 L73.3,218.1 L74.4,218.4 L75.5,217.3 L76.7,216.9 L77.5,215.6 L78.3,215.3 L79.1,214.0 L79.9,212.1 L81.0,208.2 L82.3,210.5 L83.1,210.0 L83.9,209.7 L84.7,208.7 L85.5,208.9 L86.5,211.3 L87.8,215.3 L88.6,217.1 L89.4,217.7 L90.2,217.7 L91.0,218.4 L91.8,219.9 L92.6,220.0 L93.4,219.4 L94.2,218.8 L94.9,219.4 L95.7,220.8 L96.5,221.5 L97.3,221.9 L98.1,220.9 L98.9,220.8 L99.7,220.9 L100.5,220.3 L101.3,220.2 L102.1,219.7 L103.3,219.6 L104.5,218.8 L105.0,218.4 L106.2,217.6 L107.4,217.7 L108.6,218.6 L109.8,219.2 L110.9,218.8 L112.1,218.4 L113.3,219.0 L114.5,218.8 L115.7,219.1 L116.9,218.1 L118.1,217.7 L119.3,218.4 L120.4,218.2 L121.6,217.7 L122.8,217.6 L124.0,217.2 L125.2,216.0 L126.4,216.5 L127.6,215.6 L128.8,215.6 L129.9,213.9 L131.1,213.7 L132.3,212.2 L133.5,210.5 L134.3,208.4 L135.1,205.8 L136.4,202.6 L137.5,201.8 L138.6,186.8 L139.5,169.3 L140.2,163.0 L141.1,163.0 L141.8,182.0 L142.7,204.2 L143.8,216.9 L145.4,221.9 L146.6,222.9 L147.8,224.0 L152.5,224.0 L166.8,224.0 L168.0,224.1 L169.2,223.2 L170.3,222.2 L171.5,220.8 L172.3,220.5 L173.1,219.2 L174.3,218.0 L175.5,217.7 L176.7,217.3 L177.9,215.3 L179.1,213.4 L180.2,212.9 L181.4,211.5 L182.6,210.5 L183.8,207.3 L185.0,205.7 L185.8,205.4 L186.6,204.9 L187.4,206.0 L188.2,208.1 L189.0,209.0 L189.8,209.7 L190.5,209.4 L191.3,208.1 L192.1,206.5 L192.9,204.2 L194.5,197.8 L195.8,183.6 L196.6,163.0 L197.3,163.0 L198.0,169.3 L198.6,186.7 L199.2,196.2 L200.0,193.1 L200.8,185.2 L201.6,194.7 L202.4,202.6 L204.0,208.1 L205.6,213.7 L206.4,214.9 L207.2,217.6 L208.3,219.2 L209.5,219.2 L210.7,219.8 L211.9,220.3 L212.7,220.8 L213.5,220.0 L214.3,218.5 L215.1,217.6 L215.9,215.2 L216.7,214.4 L217.4,212.9 L218.2,211.3 L219.0,210.7 L219.8,209.7 L220.6,209.2 L221.4,208.1 L222.2,209.2 L223.0,210.5 L224.2,210.2 L225.4,210.5 L226.6,209.7 L227.7,209.7 L228.9,210.7 L230.1,210.5 L231.3,209.5 L232.5,208.9 L233.7,209.3 L234.9,211.3 L236.0,211.0 L237.2,212.1 L238.4,211.1 L239.6,211.3 L240.4,212.9 L241.2,213.7 L242.0,211.8 L242.8,210.5 L243.6,211.3 L244.4,212.1 L245.9,216.8 L246.7,215.3 L247.5,212.9 L248.3,213.6 L249.1,214.4 L250.3,214.0 L251.5,215.2 L252.7,215.2 L253.8,216.8 L255.0,217.0 L256.2,217.6 L257.4,217.7 L258.6,216.8 L259.8,218.0 L261.0,218.4 L262.2,218.4 L263.4,220.0 L264.1,220.2 L264.9,221.6 L266.0,217.6 L267.3,218.4" fill="none" stroke="#0000ff" stroke-width="1.45" stroke-linejoin="round" clip-path="url(#cL1)"/>
<path d="M36.0,225.7 L57.7,225.7 L58.9,225.8 L60.1,227.2 L61.2,228.7 L62.2,229.3 L63.3,230.3 L64.5,232.2 L65.6,232.7 L66.4,232.4 L67.2,231.1 L68.0,237.5 L68.8,241.4 L69.6,240.9 L70.4,239.8 L71.2,240.7 L72.0,240.6 L73.2,239.0 L74.4,239.0 L75.5,238.2 L76.7,237.5 L77.5,235.7 L78.3,234.3 L79.1,233.5 L79.9,232.7 L80.7,231.7 L81.5,231.1 L82.3,230.7 L83.1,230.3 L83.9,230.5 L84.7,230.3 L85.4,230.8 L86.2,229.5 L87.0,228.6 L87.8,228.7 L88.6,227.7 L89.4,227.9 L90.2,228.7 L91.0,229.5 L91.8,229.7 L92.6,231.1 L93.8,231.8 L95.0,232.7 L95.7,232.7 L96.5,233.5 L97.3,233.2 L98.1,234.3 L98.9,234.8 L99.7,236.7 L100.5,235.5 L101.3,235.9 L102.5,237.5 L103.7,241.4 L105.0,240.6 L106.2,242.7 L107.4,245.4 L109.0,251.7 L110.5,258.1 L111.7,261.2 L112.9,254.9 L114.5,239.0 L115.3,240.1 L116.1,240.6 L117.3,238.7 L118.5,237.5 L119.3,237.4 L120.0,235.9 L121.2,234.4 L122.4,234.3 L123.2,233.2 L124.0,232.7 L124.8,230.9 L125.6,229.5 L126.4,228.3 L127.2,226.4 L129.6,226.1 L130.3,227.4 L131.1,229.5 L132.7,235.9 L134.3,242.2 L135.9,250.1 L136.7,252.5 L137.5,254.9 L138.3,256.0 L139.1,258.1 L139.8,258.5 L140.6,258.8 L141.4,257.6 L142.2,256.5 L143.8,261.2 L144.9,270.7 L145.9,283.4 L146.5,289.7 L147.5,273.9 L148.1,250.1 L149.0,232.7 L150.2,228.7 L150.9,229.2 L151.7,227.9 L152.5,229.2 L153.3,230.3 L154.9,237.5 L156.0,247.0 L157.3,240.6 L158.9,235.9 L160.1,234.4 L161.2,232.7 L162.0,231.7 L162.8,231.9 L163.6,230.9 L164.4,230.3 L165.2,231.4 L166.0,231.1 L166.8,232.7 L167.6,233.5 L168.4,235.2 L169.2,235.1 L169.9,235.7 L170.7,235.9 L171.5,237.4 L172.3,237.5 L173.6,237.3 L174.9,237.3 L176.1,236.9 L177.4,238.1 L178.7,237.0 L179.9,237.6 L181.2,238.1 L182.5,237.2 L183.7,238.0 L185.0,237.4 L185.8,236.3 L186.6,235.8 L187.4,234.8 L188.2,234.2 L189.0,233.8 L189.8,233.4 L190.5,234.4 L191.3,235.0 L192.1,233.9 L192.9,234.2 L193.7,236.3 L194.5,236.6 L195.7,235.5 L196.9,234.2 L198.1,235.2 L199.2,235.0 L200.4,233.4 L201.6,233.4 L202.8,233.7 L204.0,232.7 L205.2,232.1 L206.4,233.4 L207.6,232.2 L208.7,231.4 L209.9,232.3 L211.1,232.7 L212.3,232.7 L213.5,231.1 L214.7,231.5 L215.9,231.4 L217.1,230.5 L218.2,230.3 L219.4,230.5 L220.6,231.1 L221.8,230.2 L223.0,229.5 L224.0,230.2 L225.1,230.9 L226.2,230.3 L227.2,229.8 L228.3,229.4 L229.3,229.2 L230.4,228.8 L231.4,230.1 L232.5,229.5 L233.5,228.7 L234.6,228.9 L235.7,228.7 L236.7,227.9 L237.8,228.7 L238.8,227.9 L239.9,227.9 L240.9,228.2 L242.0,227.6 L243.0,228.2 L244.1,227.0 L245.2,227.1 L246.2,226.4 L247.3,227.2 L248.3,226.8 L249.4,227.5 L250.4,226.5 L251.5,226.3 L252.5,226.8 L253.6,225.7 L254.7,226.6 L255.7,226.8 L256.8,226.0 L257.8,226.0 L261.0,226.3 L264.1,226.0 L267.3,226.3" fill="none" stroke="#ff0000" stroke-width="1.45" stroke-linejoin="round" clip-path="url(#cL1)"/>
<line x1="94.20" y1="193.10" x2="94.20" y2="205.90" stroke="#0000ff" stroke-width="1.35"/><path d="M91.90,204.90 L94.20,205.70 L96.50,204.90 L94.20,209.70Z" fill="#0000ff"/>
<line x1="92.10" y1="263.10" x2="92.10" y2="251.20" stroke="#ff0000" stroke-width="1.35"/><path d="M89.80,252.20 L92.10,251.40 L94.40,252.20 L92.10,247.40Z" fill="#ff0000"/>
<line x1="30.5" y1="224.95" x2="267.55" y2="224.95" stroke="#000" stroke-width="1.3"/>
<line x1="173.03" y1="165.2" x2="173.03" y2="286.04999999999995" stroke="#404040" stroke-width="1.6"/>
<path d="M77.91,286.04999999999995v-7.1M77.91,165.2v8.1M77.91,216.80v14.5M125.32,286.04999999999995v-7.1M125.32,165.2v8.1M125.32,216.80v14.5M220.14,286.04999999999995v-7.1M220.14,165.2v8.1M220.14,216.80v14.5M30.5,273.80h7.2M267.55,273.80h-7.2M30.5,261.60h3.4M267.55,261.60h-3.4M30.5,249.40h7.2M267.55,249.40h-7.2M30.5,237.20h3.4M267.55,237.20h-3.4M30.5,213.00h4M267.55,213.00h-4M30.5,201.10h8M267.55,201.10h-8M30.5,189.05h4M267.55,189.05h-4M30.5,177.00h8M267.55,177.00h-8" stroke="#000" stroke-width="1.2" fill="none"/>
<rect x="30.5" y="165.2" width="237.05" height="120.85" fill="none" stroke="#000" stroke-width="1.3"/>
<text transform="translate(24.00,181.10) scale(1.08,1.0)" text-anchor="middle" font-family="Liberation Serif" font-weight="bold" font-size="12.0" stroke="#000" stroke-width="0.35">4</text>
<text transform="translate(24.00,205.20) scale(1.08,1.0)" text-anchor="middle" font-family="Liberation Serif" font-weight="bold" font-size="12.0" stroke="#000" stroke-width="0.35">2</text>
<text transform="translate(24.00,229.00) scale(1.08,1.0)" text-anchor="middle" font-family="Liberation Serif" font-weight="bold" font-size="12.0" stroke="#000" stroke-width="0.35">0</text>
<text transform="translate(24.00,253.50) scale(1.08,1.0)" text-anchor="middle" font-family="Liberation Serif" font-weight="bold" font-size="12.0" stroke="#000" stroke-width="0.35">2</text>
<text transform="translate(24.00,277.90) scale(1.08,1.0)" text-anchor="middle" font-family="Liberation Serif" font-weight="bold" font-size="12.0" stroke="#000" stroke-width="0.35">4</text>
<text transform="translate(35.50,297.85) scale(1.08,1.0)" text-anchor="middle" font-family="Liberation Serif" font-weight="bold" font-size="12.0" stroke="#000" stroke-width="0.35">6</text>
<rect x="25.70" y="293.95" width="3.2" height="1.5" fill="#000"/>
<text transform="translate(82.91,297.85) scale(1.08,1.0)" text-anchor="middle" font-family="Liberation Serif" font-weight="bold" font-size="12.0" stroke="#000" stroke-width="0.35">4</text>
<rect x="73.11" y="293.95" width="3.2" height="1.5" fill="#000"/>
<text transform="translate(130.32,297.85) scale(1.08,1.0)" text-anchor="middle" font-family="Liberation Serif" font-weight="bold" font-size="12.0" stroke="#000" stroke-width="0.35">2</text>
<rect x="120.52" y="293.95" width="3.2" height="1.5" fill="#000"/>
<text transform="translate(172.73,297.85) scale(1.08,1.0)" text-anchor="middle" font-family="Liberation Serif" font-weight="bold" font-size="12.0" stroke="#000" stroke-width="0.35">0</text>
<text transform="translate(220.14,297.85) scale(1.08,1.0)" text-anchor="middle" font-family="Liberation Serif" font-weight="bold" font-size="12.0" stroke="#000" stroke-width="0.35">2</text>
<text transform="translate(267.55,297.85) scale(1.08,1.0)" text-anchor="middle" font-family="Liberation Serif" font-weight="bold" font-size="12.0" stroke="#000" stroke-width="0.35">4</text>
<text transform="translate(112.60,316.95) scale(1.13,1.0)" text-anchor="middle" font-family="Liberation Serif" font-weight="bold" font-size="14.0" stroke="#000" stroke-width="0.3">e</text>
<text transform="translate(121.00,316.95) scale(1.13,1.0)" text-anchor="middle" font-family="Liberation Serif" font-weight="bold" font-size="14.0" stroke="#000" stroke-width="0.3">n</text>
<text transform="translate(129.20,316.95) scale(1.13,1.0)" text-anchor="middle" font-family="Liberation Serif" font-weight="bold" font-size="14.0" stroke="#000" stroke-width="0.3">e</text>
<text transform="translate(136.80,316.95) scale(1.13,1.0)" text-anchor="middle" font-family="Liberation Serif" font-weight="bold" font-size="14.0" stroke="#000" stroke-width="0.3">r</text>
<text transform="translate(145.00,316.95) scale(1.13,1.0)" text-anchor="middle" font-family="Liberation Serif" font-weight="bold" font-size="14.0" stroke="#000" stroke-width="0.3">g</text>
<text transform="translate(153.40,316.95) scale(1.13,1.0)" text-anchor="middle" font-family="Liberation Serif" font-weight="bold" font-size="14.0" stroke="#000" stroke-width="0.3">y</text>
<text transform="translate(169.10,316.95) scale(1.13,1.0)" text-anchor="middle" font-family="Liberation Serif" font-weight="bold" font-size="14.0" stroke="#000" stroke-width="0.3">(</text>
<text transform="translate(177.60,316.95) scale(1.13,1.0)" text-anchor="middle" font-family="Liberation Serif" font-weight="bold" font-size="14.0" stroke="#000" stroke-width="0.3">e</text>
<text transform="translate(186.70,316.95) scale(1.13,1.0)" text-anchor="middle" font-family="Liberation Serif" font-weight="bold" font-size="14.0" stroke="#000" stroke-width="0.3">V</text>
<text transform="translate(196.70,316.95) scale(1.13,1.0)" text-anchor="middle" font-family="Liberation Serif" font-weight="bold" font-size="14.0" stroke="#000" stroke-width="0.3">)</text>
<text transform="translate(10.60,267.20) rotate(-90) scale(1.13,1.06)" text-anchor="middle" font-family="Liberation Serif" font-weight="bold" font-size="14.0" stroke="#000" stroke-width="0.3">n</text>
<text transform="translate(10.60,259.10) rotate(-90) scale(1.13,1.06)" text-anchor="middle" font-family="Liberation Serif" font-weight="bold" font-size="14.0" stroke="#000" stroke-width="0.3">(</text>
<text transform="translate(10.60,250.30) rotate(-90) scale(1.13,1.06)" text-anchor="middle" font-family="Liberation Serif" font-weight="bold" font-size="14.0" stroke="#000" stroke-width="0.3">E</text>
<text transform="translate(10.60,242.70) rotate(-90) scale(1.13,1.06)" text-anchor="middle" font-family="Liberation Serif" font-weight="bold" font-size="14.0" stroke="#000" stroke-width="0.3">)</text>
<text transform="translate(10.60,229.00) rotate(-90) scale(1.13,1.06)" text-anchor="middle" font-family="Liberation Serif" font-weight="bold" font-size="14.0" stroke="#000" stroke-width="0.3">(</text>
<text transform="translate(10.60,220.35) rotate(-90) scale(1.13,1.06)" text-anchor="middle" font-family="Liberation Serif" font-weight="bold" font-size="14.0" stroke="#000" stroke-width="0.3">s</text>
<text transform="translate(10.60,212.70) rotate(-90) scale(1.13,1.06)" text-anchor="middle" font-family="Liberation Serif" font-weight="bold" font-size="14.0" stroke="#000" stroke-width="0.3">t</text>
<text transform="translate(10.60,205.00) rotate(-90) scale(1.13,1.06)" text-anchor="middle" font-family="Liberation Serif" font-weight="bold" font-size="14.0" stroke="#000" stroke-width="0.3">s</text>
<text transform="translate(10.60,197.50) rotate(-90) scale(1.13,1.06)" text-anchor="middle" font-family="Liberation Serif" font-weight="bold" font-size="14.0" stroke="#000" stroke-width="0.3">.</text>
<text transform="translate(10.60,188.50) rotate(-90) scale(1.13,1.06)" text-anchor="middle" font-family="Liberation Serif" font-weight="bold" font-size="14.0" stroke="#000" stroke-width="0.3">/</text>
<text transform="translate(10.60,179.10) rotate(-90) scale(1.13,1.06)" text-anchor="middle" font-family="Liberation Serif" font-weight="bold" font-size="14.0" stroke="#000" stroke-width="0.3">e</text>
<text transform="translate(10.60,169.90) rotate(-90) scale(1.13,1.06)" text-anchor="middle" font-family="Liberation Serif" font-weight="bold" font-size="14.0" stroke="#000" stroke-width="0.3">V</text>
<text transform="translate(10.60,160.50) rotate(-90) scale(1.13,1.06)" text-anchor="middle" font-family="Liberation Serif" font-weight="bold" font-size="14.0" stroke="#000" stroke-width="0.3">)</text>
<text transform="translate(159.33,176.40)" text-anchor="middle" font-family="Liberation Serif" font-weight="bold" font-size="12" stroke="#000" stroke-width="0.3">E</text>
<text transform="translate(166.93,181.10)" text-anchor="middle" font-family="Liberation Serif" font-weight="bold" font-size="9" stroke="#000" stroke-width="0.25">F</text>
<text x="191.10" y="266.70" textLength="61.90" lengthAdjust="spacingAndGlyphs" font-family="Liberation Serif" font-size="11" stroke="#000" stroke-width="0.2">a = 10.68 a.u.</text>
<text transform="translate(57.30,188.90)" text-anchor="middle" font-family="Liberation Serif" font-weight="bold" font-size="12.5" stroke="#000" stroke-width="0.35">Z</text>
<text transform="translate(64.80,188.90)" text-anchor="middle" font-family="Liberation Serif" font-weight="bold" font-size="12.5" stroke="#000" stroke-width="0.35">B</text>
<clipPath id="cR1"><rect x="320.9" y="165.2" width="237.00" height="120.85"/></clipPath>
<path d="M357.6,224.0 L358.8,224.2 L360.0,222.9 L361.2,221.5 L362.4,220.8 L363.5,220.8 L364.7,219.2 L365.9,217.7 L367.1,217.7 L367.9,216.6 L368.7,216.5 L369.5,215.3 L370.3,215.3 L371.1,215.1 L371.9,213.4 L372.7,212.8 L373.4,213.7 L374.2,213.9 L375.0,212.9 L375.8,211.9 L376.6,212.4 L377.4,212.0 L378.2,212.9 L379.0,213.8 L379.8,213.7 L380.6,212.1 L381.4,215.3 L382.2,216.4 L382.9,217.7 L383.7,218.3 L384.5,218.8 L385.7,219.6 L386.9,219.2 L388.1,219.4 L389.3,220.0 L390.5,220.4 L391.7,220.8 L392.9,222.0 L394.0,221.3 L395.0,220.0 L396.2,218.6 L397.4,218.4 L398.6,217.8 L399.8,217.7 L400.9,215.5 L402.1,214.5 L402.9,216.0 L403.7,216.1 L404.9,216.1 L406.1,215.3 L407.3,216.3 L408.5,216.9 L409.7,217.5 L410.8,216.5 L412.0,217.0 L413.2,218.4 L414.0,217.5 L414.8,216.9 L416.0,215.6 L417.2,215.0 L418.4,215.7 L419.6,216.1 L420.7,214.9 L421.9,215.0 L423.1,214.6 L424.3,214.0 L425.5,212.8 L426.7,212.1 L427.5,211.0 L428.3,210.5 L429.1,209.1 L429.9,208.9 L431.0,207.6 L432.2,205.8 L433.8,198.6 L434.9,193.1 L436.2,194.7 L437.5,199.4 L438.6,204.2 L439.4,205.9 L440.1,208.9 L440.9,210.8 L441.7,212.9 L442.5,213.8 L443.3,216.1 L444.1,217.1 L444.9,219.2 L445.7,220.4 L446.5,221.9 L447.7,223.5 L448.9,224.0 L452.0,224.0 L461.5,224.0 L463.9,224.0 L464.7,222.2 L465.5,221.6 L466.3,220.7 L467.1,219.2 L467.9,219.1 L468.7,217.7 L469.9,216.4 L471.0,216.1 L472.0,215.2 L472.8,214.1 L473.6,214.4 L474.4,213.6 L475.2,212.9 L476.0,212.2 L476.8,210.5 L478.3,205.7 L479.6,201.0 L480.7,200.2 L481.8,203.4 L482.8,199.4 L483.9,204.9 L484.7,203.5 L485.4,201.8 L486.2,200.2 L487.0,197.8 L488.6,189.9 L490.2,180.4 L491.3,174.1 L492.3,177.2 L493.1,194.7 L493.8,205.7 L494.9,201.0 L496.1,196.2 L497.0,204.2 L498.1,210.5 L499.7,215.2 L500.5,216.9 L501.3,217.6 L502.1,218.4 L502.9,219.2 L504.1,218.9 L505.2,217.6 L506.0,216.5 L506.8,214.4 L507.6,213.1 L508.4,212.1 L509.2,211.7 L510.0,210.5 L510.8,210.0 L511.6,208.9 L512.4,208.9 L513.1,210.2 L513.9,211.1 L514.7,213.7 L515.5,212.7 L516.3,212.1 L517.5,210.2 L518.7,209.7 L519.5,211.8 L520.3,212.9 L521.1,213.9 L521.9,213.7 L523.0,213.6 L524.2,214.0 L525.4,213.8 L526.6,213.3 L527.8,212.7 L529.0,212.1 L530.2,210.6 L531.4,210.5 L532.1,210.1 L532.9,209.7 L533.7,211.3 L534.5,211.3 L535.3,210.2 L536.1,210.5 L536.9,209.5 L537.7,210.2 L539.3,215.2 L540.1,213.7 L540.9,212.9 L541.6,213.5 L542.4,215.2 L543.2,216.4 L544.0,216.0 L544.8,215.6 L545.6,214.9 L546.4,216.6 L547.2,216.8 L548.4,217.2 L549.5,217.6 L550.3,217.8 L551.1,216.8 L551.9,217.6 L552.7,219.2 L553.5,220.3 L554.3,220.0 L555.1,220.2 L555.9,220.8 L556.7,220.8 L557.5,220.3" fill="none" stroke="#0000ff" stroke-width="1.45" stroke-linejoin="round" clip-path="url(#cR1)"/>
<path d="M327.5,225.7 L348.9,225.7 L350.1,226.6 L351.3,227.2 L352.5,228.5 L353.6,229.5 L354.8,230.1 L356.0,231.9 L357.2,232.3 L358.4,234.3 L359.6,235.9 L360.8,236.2 L362.0,236.8 L363.1,238.2 L363.9,238.7 L364.7,240.6 L365.5,242.6 L366.3,243.8 L367.4,239.0 L368.4,235.9 L369.5,238.2 L370.3,236.6 L371.1,235.1 L371.9,234.7 L372.6,232.7 L373.8,231.0 L375.0,230.3 L376.2,229.0 L377.4,229.2 L378.2,229.7 L379.0,228.7 L379.8,228.9 L380.6,229.5 L381.4,229.4 L382.2,228.3 L383.0,229.8 L383.7,230.3 L384.5,231.2 L385.3,231.4 L386.1,232.1 L386.9,232.4 L387.7,233.2 L388.5,233.5 L389.3,235.1 L390.1,237.5 L390.9,238.3 L391.7,240.6 L392.5,239.6 L393.2,237.5 L394.0,237.1 L394.8,238.2 L395.0,237.5 L395.8,238.6 L396.6,238.2 L397.4,240.6 L398.2,241.4 L399.0,242.6 L399.8,244.6 L400.5,245.8 L401.3,245.4 L402.9,240.6 L404.5,248.5 L405.8,258.1 L406.9,253.3 L407.7,251.4 L408.5,248.5 L409.3,246.9 L410.1,245.4 L410.8,244.3 L411.6,243.0 L412.4,240.9 L413.2,240.6 L414.8,245.4 L415.6,242.2 L416.4,240.2 L417.2,237.5 L418.8,232.7 L420.4,227.2 L421.1,227.5 L421.9,226.4 L422.7,227.8 L423.5,227.9 L424.3,230.3 L425.1,232.7 L425.9,234.8 L426.7,235.1 L427.5,237.8 L428.3,239.0 L429.9,243.8 L431.4,250.1 L432.2,251.8 L433.0,253.3 L434.6,258.1 L435.6,260.9 L436.5,262.8 L437.8,270.7 L439.0,283.4 L440.0,285.8 L440.9,273.9 L441.7,258.1 L442.5,239.0 L443.3,232.7 L444.1,235.5 L444.9,236.7 L445.7,236.5 L446.5,237.5 L447.3,240.2 L448.1,241.4 L448.9,242.4 L449.6,244.6 L450.4,241.9 L451.2,239.8 L452.0,237.6 L452.8,235.9 L453.6,235.0 L454.4,232.7 L455.2,233.0 L456.0,231.9 L456.8,231.6 L457.6,232.7 L458.4,233.8 L459.2,233.5 L460.0,234.8 L460.7,234.3 L461.5,235.7 L462.3,235.6 L463.1,236.1 L463.9,236.2 L465.1,235.9 L466.3,235.9 L467.5,236.2 L468.7,235.1 L469.9,234.4 L471.0,234.6 L472.0,234.2 L473.2,234.5 L474.4,235.0 L475.6,234.8 L476.8,235.8 L477.5,237.4 L478.3,237.4 L479.9,232.6 L481.1,232.5 L482.3,233.4 L483.5,232.3 L484.7,233.0 L485.9,232.6 L487.0,233.4 L488.2,233.6 L489.4,232.6 L490.6,232.4 L491.8,231.1 L493.0,231.5 L494.2,233.4 L495.3,233.9 L496.5,232.6 L497.3,233.1 L498.1,231.8 L499.3,234.1 L500.5,235.8 L501.7,236.4 L502.9,236.1 L504.1,235.0 L505.2,235.5 L506.0,237.2 L506.8,237.4 L507.6,235.6 L508.4,235.0 L509.2,234.0 L510.0,231.8 L511.2,232.2 L512.4,232.3 L513.5,232.4 L514.7,231.4 L515.9,232.1 L517.1,231.1 L518.3,231.8 L519.5,230.7 L520.7,229.6 L521.9,229.5 L523.0,230.6 L524.2,230.3 L525.4,230.4 L526.6,229.2 L527.8,228.8 L529.0,227.9 L530.2,228.7 L531.4,228.2 L532.5,228.5 L533.7,227.6 L534.9,227.7 L536.1,226.3 L537.3,226.5 L538.5,227.1 L539.7,227.5 L540.9,226.6 L542.0,226.2 L543.2,226.0 L545.6,226.3 L548.0,225.7 L550.4,226.0 L552.7,225.7 L555.1,225.7 L557.5,225.7" fill="none" stroke="#ff0000" stroke-width="1.45" stroke-linejoin="round" clip-path="url(#cR1)"/>
<line x1="391.70" y1="194.40" x2="391.70" y2="206.30" stroke="#0000ff" stroke-width="1.35"/><path d="M389.40,205.30 L391.70,206.10 L394.00,205.30 L391.70,210.10Z" fill="#0000ff"/>
<line x1="391.70" y1="261.50" x2="391.70" y2="250.00" stroke="#ff0000" stroke-width="1.35"/><path d="M389.40,251.00 L391.70,250.20 L394.00,251.00 L391.70,246.20Z" fill="#ff0000"/>
<line x1="320.9" y1="224.95" x2="557.9" y2="224.95" stroke="#000" stroke-width="1.3"/>
<line x1="463.40" y1="165.2" x2="463.40" y2="286.04999999999995" stroke="#000" stroke-width="1.2"/>
<path d="M368.30,286.04999999999995v-7.1M368.30,165.2v8.1M368.30,216.80v14.5M415.70,286.04999999999995v-7.1M415.70,165.2v8.1M415.70,216.80v14.5M510.50,286.04999999999995v-7.1M510.50,165.2v8.1M510.50,216.80v14.5M320.9,273.80h7.2M557.9,273.80h-7.2M320.9,261.60h3.4M557.9,261.60h-3.4M320.9,249.40h7.2M557.9,249.40h-7.2M320.9,237.20h3.4M557.9,237.20h-3.4M320.9,213.00h4M557.9,213.00h-4M320.9,201.10h8M557.9,201.10h-8M320.9,189.05h4M557.9,189.05h-4M320.9,177.00h8M557.9,177.00h-8" stroke="#000" stroke-width="1.2" fill="none"/>
<rect x="320.9" y="165.2" width="237.00" height="120.85" fill="none" stroke="#000" stroke-width="1.3"/>
<text transform="translate(314.40,181.10) scale(1.08,1.0)" text-anchor="middle" font-family="Liberation Serif" font-weight="bold" font-size="12.0" stroke="#000" stroke-width="0.35">4</text>
<text transform="translate(314.40,205.20) scale(1.08,1.0)" text-anchor="middle" font-family="Liberation Serif" font-weight="bold" font-size="12.0" stroke="#000" stroke-width="0.35">2</text>
<text transform="translate(314.40,229.00) scale(1.08,1.0)" text-anchor="middle" font-family="Liberation Serif" font-weight="bold" font-size="12.0" stroke="#000" stroke-width="0.35">0</text>
<text transform="translate(314.40,253.50) scale(1.08,1.0)" text-anchor="middle" font-family="Liberation Serif" font-weight="bold" font-size="12.0" stroke="#000" stroke-width="0.35">2</text>
<text transform="translate(314.40,277.90) scale(1.08,1.0)" text-anchor="middle" font-family="Liberation Serif" font-weight="bold" font-size="12.0" stroke="#000" stroke-width="0.35">4</text>
<text transform="translate(325.90,297.85) scale(1.08,1.0)" text-anchor="middle" font-family="Liberation Serif" font-weight="bold" font-size="12.0" stroke="#000" stroke-width="0.35">6</text>
<rect x="316.10" y="293.95" width="3.2" height="1.5" fill="#000"/>
<text transform="translate(373.30,297.85) scale(1.08,1.0)" text-anchor="middle" font-family="Liberation Serif" font-weight="bold" font-size="12.0" stroke="#000" stroke-width="0.35">4</text>
<rect x="363.50" y="293.95" width="3.2" height="1.5" fill="#000"/>
<text transform="translate(420.70,297.85) scale(1.08,1.0)" text-anchor="middle" font-family="Liberation Serif" font-weight="bold" font-size="12.0" stroke="#000" stroke-width="0.35">2</text>
<rect x="410.90" y="293.95" width="3.2" height="1.5" fill="#000"/>
<text transform="translate(463.10,297.85) scale(1.08,1.0)" text-anchor="middle" font-family="Liberation Serif" font-weight="bold" font-size="12.0" stroke="#000" stroke-width="0.35">0</text>
<text transform="translate(510.50,297.85) scale(1.08,1.0)" text-anchor="middle" font-family="Liberation Serif" font-weight="bold" font-size="12.0" stroke="#000" stroke-width="0.35">2</text>
<text transform="translate(557.90,297.85) scale(1.08,1.0)" text-anchor="middle" font-family="Liberation Serif" font-weight="bold" font-size="12.0" stroke="#000" stroke-width="0.35">4</text>
<text transform="translate(402.20,316.95) scale(1.13,1.0)" text-anchor="middle" font-family="Liberation Serif" font-weight="bold" font-size="14.0" stroke="#000" stroke-width="0.3">e</text>
<text transform="translate(410.60,316.95) scale(1.13,1.0)" text-anchor="middle" font-family="Liberation Serif" font-weight="bold" font-size="14.0" stroke="#000" stroke-width="0.3">n</text>
<text transform="translate(418.80,316.95) scale(1.13,1.0)" text-anchor="middle" font-family="Liberation Serif" font-weight="bold" font-size="14.0" stroke="#000" stroke-width="0.3">e</text>
<text transform="translate(426.40,316.95) scale(1.13,1.0)" text-anchor="middle" font-family="Liberation Serif" font-weight="bold" font-size="14.0" stroke="#000" stroke-width="0.3">r</text>
<text transform="translate(434.60,316.95) scale(1.13,1.0)" text-anchor="middle" font-family="Liberation Serif" font-weight="bold" font-size="14.0" stroke="#000" stroke-width="0.3">g</text>
<text transform="translate(443.00,316.95) scale(1.13,1.0)" text-anchor="middle" font-family="Liberation Serif" font-weight="bold" font-size="14.0" stroke="#000" stroke-width="0.3">y</text>
<text transform="translate(459.40,316.95) scale(1.13,1.0)" text-anchor="middle" font-family="Liberation Serif" font-weight="bold" font-size="14.0" stroke="#000" stroke-width="0.3">(</text>
<text transform="translate(466.20,316.95) scale(1.13,1.0)" text-anchor="middle" font-family="Liberation Serif" font-weight="bold" font-size="14.0" stroke="#000" stroke-width="0.3">e</text>
<text transform="translate(475.30,316.95) scale(1.13,1.0)" text-anchor="middle" font-family="Liberation Serif" font-weight="bold" font-size="14.0" stroke="#000" stroke-width="0.3">V</text>
<text transform="translate(485.30,316.95) scale(1.13,1.0)" text-anchor="middle" font-family="Liberation Serif" font-weight="bold" font-size="14.0" stroke="#000" stroke-width="0.3">)</text>
<text transform="translate(301.70,269.20) rotate(-90) scale(1.13,1.06)" text-anchor="middle" font-family="Liberation Serif" font-weight="bold" font-size="14.0" stroke="#000" stroke-width="0.3">n</text>
<text transform="translate(301.70,260.60) rotate(-90) scale(1.13,1.06)" text-anchor="middle" font-family="Liberation Serif" font-weight="bold" font-size="14.0" stroke="#000" stroke-width="0.3">(</text>
<text transform="translate(301.70,252.00) rotate(-90) scale(1.13,1.06)" text-anchor="middle" font-family="Liberation Serif" font-weight="bold" font-size="14.0" stroke="#000" stroke-width="0.3">E</text>
<text transform="translate(301.70,243.30) rotate(-90) scale(1.13,1.06)" text-anchor="middle" font-family="Liberation Serif" font-weight="bold" font-size="14.0" stroke="#000" stroke-width="0.3">)</text>
<text transform="translate(301.70,227.60) rotate(-90) scale(1.13,1.06)" text-anchor="middle" font-family="Liberation Serif" font-weight="bold" font-size="14.0" stroke="#000" stroke-width="0.3">(</text>
<text transform="translate(301.70,220.90) rotate(-90) scale(1.13,1.06)" text-anchor="middle" font-family="Liberation Serif" font-weight="bold" font-size="14.0" stroke="#000" stroke-width="0.3">s</text>
<text transform="translate(301.70,213.20) rotate(-90) scale(1.13,1.06)" text-anchor="middle" font-family="Liberation Serif" font-weight="bold" font-size="14.0" stroke="#000" stroke-width="0.3">t</text>
<text transform="translate(301.70,204.90) rotate(-90) scale(1.13,1.06)" text-anchor="middle" font-family="Liberation Serif" font-weight="bold" font-size="14.0" stroke="#000" stroke-width="0.3">s</text>
<text transform="translate(301.70,197.60) rotate(-90) scale(1.13,1.06)" text-anchor="middle" font-family="Liberation Serif" font-weight="bold" font-size="14.0" stroke="#000" stroke-width="0.3">.</text>
<text transform="translate(301.70,189.50) rotate(-90) scale(1.13,1.06)" text-anchor="middle" font-family="Liberation Serif" font-weight="bold" font-size="14.0" stroke="#000" stroke-width="0.3">/</text>
<text transform="translate(301.70,179.00) rotate(-90) scale(1.13,1.06)" text-anchor="middle" font-family="Liberation Serif" font-weight="bold" font-size="14.0" stroke="#000" stroke-width="0.3">e</text>
<text transform="translate(301.70,169.50) rotate(-90) scale(1.13,1.06)" text-anchor="middle" font-family="Liberation Serif" font-weight="bold" font-size="14.0" stroke="#000" stroke-width="0.3">V</text>
<text transform="translate(301.70,160.20) rotate(-90) scale(1.13,1.06)" text-anchor="middle" font-family="Liberation Serif" font-weight="bold" font-size="14.0" stroke="#000" stroke-width="0.3">)</text>
<text transform="translate(449.70,176.40)" text-anchor="middle" font-family="Liberation Serif" font-weight="bold" font-size="12" stroke="#000" stroke-width="0.3">E</text>
<text transform="translate(457.30,181.10)" text-anchor="middle" font-family="Liberation Serif" font-weight="bold" font-size="9" stroke="#000" stroke-width="0.25">F</text>
<text x="479.70" y="262.40" textLength="61.90" lengthAdjust="spacingAndGlyphs" font-family="Liberation Serif" font-size="11" stroke="#000" stroke-width="0.2">a = 10.68 a.u.</text>
<text transform="translate(336.40,184.70)" text-anchor="middle" font-family="Liberation Serif" font-weight="bold" font-size="12.5" stroke="#000" stroke-width="0.35">w</text>
<text transform="translate(343.00,184.70)" text-anchor="middle" font-family="Liberation Serif" font-weight="bold" font-size="12.5" stroke="#000" stroke-width="0.35">u</text>
<text transform="translate(347.80,184.70)" text-anchor="middle" font-family="Liberation Serif" font-weight="bold" font-size="12.5" stroke="#000" stroke-width="0.35">r</text>
<text transform="translate(354.70,184.70) scale(1.1,1.0)" text-anchor="middle" font-family="Liberation Serif" font-weight="bold" font-size="12.5" stroke="#000" stroke-width="0.35">t</text>
<text transform="translate(362.50,184.70) scale(1.1,1.0)" text-anchor="middle" font-family="Liberation Serif" font-weight="bold" font-size="12.5" stroke="#000" stroke-width="0.35">z</text>
<text transform="translate(368.50,184.70)" text-anchor="middle" font-family="Liberation Serif" font-weight="bold" font-size="12.5" stroke="#000" stroke-width="0.35">i</text>
<text transform="translate(375.60,184.70) scale(1.1,1.0)" text-anchor="middle" font-family="Liberation Serif" font-weight="bold" font-size="12.5" stroke="#000" stroke-width="0.35">t</text>
<text transform="translate(383.20,184.70) scale(1.1,1.0)" text-anchor="middle" font-family="Liberation Serif" font-weight="bold" font-size="12.5" stroke="#000" stroke-width="0.35">e</text>
<clipPath id="cL2"><rect x="30.5" y="323.6" width="237.05" height="120.85"/></clipPath>
<path d="M92.6,382.0 L93.4,381.9 L94.2,380.4 L95.3,379.6 L96.5,378.0 L97.3,376.6 L98.1,375.6 L98.9,375.4 L99.7,374.9 L100.5,373.5 L101.3,371.7 L102.1,370.0 L102.9,369.3 L103.7,369.4 L104.5,367.7 L105.0,368.5 L105.8,369.8 L106.6,369.3 L107.4,370.0 L108.2,371.7 L109.0,372.4 L109.8,373.3 L110.5,373.8 L111.3,375.6 L112.4,376.4 L113.4,377.3 L114.5,377.2 L115.6,376.6 L116.6,376.5 L117.7,377.2 L118.7,377.1 L119.8,377.5 L120.8,376.8 L121.9,375.9 L123.0,376.3 L124.0,376.4 L125.1,376.0 L126.1,376.0 L127.2,376.1 L128.2,376.7 L129.3,376.4 L130.3,375.6 L131.4,376.0 L132.5,375.4 L133.5,375.2 L134.6,375.8 L135.6,374.9 L136.7,374.9 L137.7,374.0 L138.8,374.5 L139.8,374.1 L141.0,374.5 L142.2,373.3 L143.8,368.5 L144.6,366.1 L145.4,363.8 L146.2,363.0 L147.0,360.6 L148.1,358.2 L149.4,359.0 L150.9,363.8 L151.7,366.1 L152.5,366.9 L153.3,367.5 L154.1,368.5 L154.9,369.1 L155.7,370.1 L156.5,371.1 L157.3,371.7 L158.1,370.8 L158.9,370.1 L159.7,371.0 L160.4,371.7 L161.2,370.6 L162.0,368.5 L162.8,367.2 L163.6,364.6 L164.4,363.0 L165.2,366.1 L166.0,367.7 L166.8,370.1 L167.6,371.8 L168.4,374.9 L169.9,379.6 L170.7,381.3 L171.5,382.0 L173.1,382.4 L185.0,382.4 L191.3,381.9 L192.5,379.8 L193.7,378.0 L194.9,376.6 L196.1,374.0 L197.3,371.3 L198.4,370.1 L199.6,368.6 L200.8,366.9 L202.0,365.6 L203.2,363.7 L204.4,361.9 L205.6,361.4 L206.8,360.0 L207.9,359.0 L209.1,356.0 L210.3,352.7 L211.9,344.7 L213.2,330.5 L214.0,321.0 L214.8,320.3 L215.6,321.0 L216.7,333.7 L217.9,340.0 L219.0,349.5 L220.6,357.4 L222.2,362.9 L223.8,370.1 L224.6,371.3 L225.4,373.2 L226.2,371.2 L226.9,368.5 L228.5,363.7 L229.3,361.9 L230.1,360.6 L231.7,355.0 L232.5,357.4 L233.3,358.5 L234.1,359.0 L234.9,357.5 L235.7,355.0 L237.2,361.4 L238.0,359.9 L238.8,359.0 L239.6,360.1 L240.4,362.9 L241.2,361.9 L242.0,361.4 L242.8,363.2 L243.6,364.5 L244.4,365.5 L245.2,367.7 L245.9,368.8 L246.7,369.3 L247.5,367.7 L248.3,366.9 L249.1,369.3 L249.9,370.1 L250.7,371.6 L251.5,371.6 L252.3,370.7 L253.1,368.5 L253.9,370.4 L254.7,372.4 L255.4,373.8 L256.2,374.8 L257.4,375.8 L258.6,376.4 L259.8,376.8 L261.0,378.0 L262.2,378.6 L263.4,378.8 L264.5,380.0 L265.7,379.6 L266.5,380.1 L267.3,379.9" fill="none" stroke="#0000ff" stroke-width="1.05" stroke-dasharray="4,2.2" stroke-linejoin="round" clip-path="url(#cL2)"/>
<path d="M83.9,384.1 L85.0,384.4 L86.2,385.2 L87.4,386.1 L88.6,385.9 L89.4,386.3 L90.2,387.5 L91.0,389.7 L91.8,390.7 L92.6,391.8 L93.4,393.9 L95.0,398.6 L95.7,401.8 L96.5,404.4 L97.3,406.5 L98.1,404.7 L98.9,403.4 L99.7,402.7 L100.5,401.8 L101.3,403.9 L102.1,405.0 L103.7,400.2 L105.0,390.7 L106.2,390.5 L107.4,389.9 L108.6,389.4 L109.8,389.1 L110.5,388.7 L111.3,389.9 L112.1,391.9 L112.9,393.9 L113.7,394.6 L114.5,397.0 L115.7,399.2 L116.9,400.2 L118.1,402.6 L119.3,403.4 L120.8,408.1 L121.6,408.9 L122.4,409.7 L123.2,408.1 L124.0,406.5 L124.8,407.6 L125.6,409.7 L127.2,416.1 L128.8,420.8 L129.6,419.5 L130.3,417.6 L131.9,409.7 L133.5,401.8 L134.3,401.1 L135.1,398.6 L135.9,397.6 L136.7,395.5 L137.5,394.6 L138.3,393.9 L139.1,394.4 L139.8,395.5 L140.6,398.7 L141.4,400.2 L143.0,406.5 L144.6,416.1 L145.9,425.6 L147.0,435.1 L148.1,443.0 L148.9,442.9 L149.7,441.4 L150.9,431.9 L151.9,416.1 L152.5,405.0 L153.3,395.5 L154.4,390.7 L155.7,397.0 L157.0,395.5 L158.1,400.2 L158.9,397.5 L159.7,396.2 L160.4,394.3 L161.2,393.1 L162.0,392.6 L162.8,392.3 L163.6,392.4 L164.4,391.5 L165.6,391.7 L166.8,393.1 L168.0,394.0 L169.2,394.7 L170.3,395.2 L171.5,395.5 L172.9,394.9 L174.2,395.7 L175.6,395.6 L176.9,396.8 L178.3,395.8 L179.6,397.1 L181.0,396.1 L182.3,396.5 L183.7,397.5 L185.0,397.0 L186.2,396.6 L187.4,395.4 L188.6,396.4 L189.8,396.7 L190.9,396.2 L192.1,395.1 L193.3,394.9 L194.5,394.1 L195.7,393.7 L196.9,393.0 L198.1,392.7 L199.2,393.8 L200.4,393.4 L201.6,391.9 L202.8,392.4 L204.0,392.6 L205.2,391.7 L206.4,391.0 L207.6,390.5 L208.7,391.4 L209.9,390.4 L211.1,390.6 L212.3,391.3 L213.5,390.3 L214.7,389.4 L215.9,389.4 L217.1,389.1 L218.2,388.8 L219.4,388.5 L220.6,389.1 L221.8,391.3 L223.0,392.2 L223.8,390.4 L224.6,388.8 L225.8,387.8 L226.9,387.5 L228.1,386.5 L229.3,387.2 L230.4,387.9 L231.4,387.2 L232.5,386.7 L233.5,387.1 L234.6,386.7 L235.7,386.2 L236.7,385.4 L237.8,386.8 L238.8,385.9 L239.9,384.8 L240.9,385.1 L242.0,385.1 L243.0,385.6 L244.1,385.7 L245.2,385.1 L246.2,384.1 L247.3,384.6 L248.3,384.6 L251.5,384.3 L254.7,384.6 L257.8,384.3 L261.0,384.1 L264.1,384.3 L265.2,385.4 L266.3,384.8 L267.3,385.1" fill="none" stroke="#ff0000" stroke-width="1.05" stroke-dasharray="4,2.2" stroke-linejoin="round" clip-path="url(#cL2)"/>
<path d="M77.5,382.4 L78.7,381.2 L79.9,381.2 L81.1,380.6 L82.3,379.6 L83.5,378.1 L84.7,377.2 L85.8,375.6 L87.0,375.6 L88.2,374.6 L89.4,373.3 L90.2,372.2 L91.0,370.9 L91.8,369.0 L92.6,368.5 L93.4,368.6 L94.2,366.9 L95.3,366.6 L96.5,368.5 L97.3,367.3 L98.1,373.3 L98.9,374.3 L99.7,375.6 L100.5,375.6 L101.3,374.9 L102.1,375.4 L102.9,375.6 L103.7,376.8 L104.5,378.0 L105.0,379.6 L106.1,379.9 L107.1,379.7 L108.2,378.8 L109.2,379.1 L110.3,378.0 L111.3,378.0 L112.4,378.6 L113.4,377.2 L114.5,377.2 L115.6,377.5 L116.6,376.4 L117.7,376.4 L118.7,375.6 L119.8,376.3 L120.8,376.1 L121.9,375.1 L123.0,375.4 L124.0,375.6 L125.1,376.2 L126.1,374.4 L127.2,375.2 L128.2,375.2 L129.3,375.0 L130.3,374.5 L131.4,375.1 L132.5,373.6 L133.5,374.1 L134.6,372.6 L135.6,373.0 L136.7,372.5 L137.5,370.9 L138.3,368.5 L139.8,363.8 L141.0,362.6 L142.2,359.8 L143.0,357.7 L143.8,356.6 L144.9,349.5 L145.9,333.7 L146.5,321.0 L147.5,321.0 L148.1,336.8 L149.0,357.4 L150.2,373.3 L151.3,380.4 L152.5,382.0 L157.3,382.4 L175.5,382.4 L177.9,382.0 L179.1,380.9 L180.2,379.6 L181.4,377.5 L182.6,375.6 L183.8,372.1 L185.0,370.1 L186.2,369.3 L187.4,369.3 L188.6,369.1 L189.8,367.7 L190.9,366.3 L192.1,364.5 L192.9,363.8 L193.7,362.1 L194.8,360.6 L196.1,363.7 L196.9,363.4 L197.7,362.1 L198.9,355.8 L200.0,340.0 L200.8,321.0 L202.1,321.0 L203.2,333.7 L204.0,344.7 L204.8,338.4 L205.6,347.9 L206.8,359.0 L207.9,366.9 L209.5,373.2 L210.7,374.9 L211.9,377.2 L213.1,378.1 L214.3,379.2 L215.1,379.7 L215.9,378.8 L216.7,377.4 L217.4,376.4 L218.2,374.5 L219.0,373.2 L219.8,370.6 L220.6,368.5 L221.4,365.9 L222.2,363.7 L223.0,360.6 L223.8,366.9 L224.6,367.2 L225.4,368.5 L226.2,366.9 L226.9,366.9 L227.7,366.0 L228.5,365.3 L229.3,365.2 L230.1,363.7 L230.9,361.4 L231.7,366.1 L232.5,366.1 L233.3,366.9 L234.1,365.8 L234.9,366.1 L235.7,367.1 L236.4,367.7 L237.6,368.7 L238.8,370.1 L240.0,370.3 L241.2,371.6 L242.4,370.6 L243.6,369.3 L244.8,370.3 L245.9,372.4 L247.1,372.1 L248.3,373.2 L249.5,374.4 L250.7,374.0 L251.9,375.0 L253.1,374.8 L254.2,376.2 L255.4,376.4 L256.6,377.0 L257.8,377.2 L259.0,377.7 L260.2,378.8 L261.4,379.0 L262.6,379.6 L263.7,378.5 L264.9,377.2 L266.1,378.1 L267.3,380.4" fill="none" stroke="#0000ff" stroke-width="1.45" stroke-linejoin="round" clip-path="url(#cL2)"/>
<path d="M45.8,384.1 L71.2,384.1 L72.4,384.1 L73.6,385.9 L74.8,387.6 L75.9,388.3 L76.7,390.3 L77.5,390.7 L78.3,391.2 L79.1,393.1 L79.9,394.4 L80.7,396.2 L81.5,399.1 L82.3,400.2 L83.1,402.5 L83.9,403.4 L84.7,403.3 L85.5,401.8 L86.2,401.4 L87.0,400.2 L87.8,399.4 L88.6,398.6 L89.4,396.8 L90.2,395.5 L91.0,393.9 L91.8,391.5 L92.6,389.6 L93.4,389.1 L94.2,389.4 L95.0,389.9 L95.7,390.0 L96.5,389.1 L97.3,389.3 L98.1,390.7 L98.9,390.2 L99.7,388.3 L100.5,389.6 L101.3,389.1 L102.1,390.0 L102.9,391.5 L103.7,392.1 L104.5,393.9 L105.0,393.9 L106.2,395.1 L107.4,396.2 L108.6,399.2 L109.8,401.8 L110.9,404.5 L112.1,408.1 L112.9,410.6 L113.7,411.3 L114.5,412.7 L115.3,414.5 L116.4,419.2 L117.7,424.0 L118.9,422.4 L120.0,409.7 L120.8,403.4 L121.6,402.5 L122.4,401.8 L123.2,401.0 L124.0,400.2 L124.8,398.8 L125.6,397.8 L126.4,396.1 L127.2,394.7 L128.0,393.2 L128.8,390.7 L129.6,389.5 L130.3,387.5 L131.1,385.6 L131.9,385.2 L133.1,385.7 L134.3,385.2 L135.1,386.3 L135.9,387.5 L136.7,389.8 L137.5,392.3 L139.1,401.8 L140.2,412.9 L141.8,422.4 L143.0,427.1 L144.3,424.0 L145.4,430.3 L146.5,441.4 L147.5,447.7 L148.1,431.9 L149.0,409.7 L149.8,393.9 L150.9,388.3 L151.7,388.9 L152.5,388.3 L153.8,393.9 L154.9,403.4 L156.0,409.7 L157.3,405.0 L158.9,400.2 L159.7,397.8 L160.4,395.5 L161.6,394.0 L162.8,391.5 L164.0,390.6 L165.2,390.7 L166.4,391.3 L167.6,392.3 L168.4,392.6 L169.2,393.9 L169.9,394.2 L170.7,395.5 L171.5,394.5 L172.3,393.9 L173.5,393.2 L174.7,393.1 L175.9,394.2 L177.1,393.9 L178.3,393.9 L179.5,393.1 L180.6,393.8 L181.8,394.7 L182.9,394.7 L183.9,395.2 L185.0,395.4 L186.2,394.7 L187.4,394.6 L188.6,394.8 L189.8,395.4 L190.9,394.5 L192.1,393.8 L193.3,393.4 L194.5,393.0 L195.7,393.5 L196.9,393.5 L198.1,392.6 L199.2,392.2 L200.4,391.2 L201.6,391.4 L202.8,390.2 L204.0,390.6 L205.2,391.0 L206.4,391.4 L207.6,391.5 L208.7,390.3 L209.9,389.6 L211.1,390.6 L212.3,389.7 L213.5,389.4 L214.7,388.6 L215.9,389.1 L217.1,389.4 L218.2,388.8 L219.4,388.9 L220.6,389.1 L221.8,388.0 L223.0,388.3 L224.2,388.3 L225.4,387.5 L226.6,387.2 L227.7,387.2 L228.9,387.8 L230.1,386.7 L231.3,386.6 L232.5,386.2 L233.5,386.2 L234.6,386.5 L235.7,385.9 L236.7,386.2 L237.8,386.3 L238.8,385.6 L239.9,385.9 L240.9,384.9 L242.0,385.1 L243.0,385.4 L244.1,384.9 L245.2,384.9 L246.2,384.6 L247.3,384.8 L248.3,384.6 L251.5,384.3 L254.7,384.3 L257.8,384.1 L261.0,384.1 L264.1,384.1 L267.3,384.1" fill="none" stroke="#ff0000" stroke-width="1.45" stroke-linejoin="round" clip-path="url(#cL2)"/>
<line x1="95.30" y1="346.30" x2="95.30" y2="358.80" stroke="#0000ff" stroke-width="1.35"/><path d="M93.00,357.80 L95.30,358.60 L97.60,357.80 L95.30,362.60Z" fill="#0000ff"/>
<line x1="95.70" y1="419.20" x2="95.70" y2="406.80" stroke="#ff0000" stroke-width="1.35"/><path d="M93.40,407.80 L95.70,407.00 L98.00,407.80 L95.70,403.00Z" fill="#ff0000"/>
<line x1="30.5" y1="383.35" x2="267.55" y2="383.35" stroke="#000" stroke-width="1.3"/>
<line x1="173.03" y1="323.6" x2="173.03" y2="444.45000000000005" stroke="#404040" stroke-width="1.6"/>
<path d="M77.91,444.45000000000005v-7.1M77.91,323.6v8.1M77.91,375.20v14.5M125.32,444.45000000000005v-7.1M125.32,323.6v8.1M125.32,375.20v14.5M220.14,444.45000000000005v-7.1M220.14,323.6v8.1M220.14,375.20v14.5M30.5,432.20h7.2M267.55,432.20h-7.2M30.5,420.00h3.4M267.55,420.00h-3.4M30.5,407.80h7.2M267.55,407.80h-7.2M30.5,395.60h3.4M267.55,395.60h-3.4M30.5,371.40h4M267.55,371.40h-4M30.5,359.50h8M267.55,359.50h-8M30.5,347.45h4M267.55,347.45h-4M30.5,335.40h8M267.55,335.40h-8" stroke="#000" stroke-width="1.2" fill="none"/>
<rect x="30.5" y="323.6" width="237.05" height="120.85" fill="none" stroke="#000" stroke-width="1.3"/>
<text transform="translate(24.00,339.50) scale(1.08,1.0)" text-anchor="middle" font-family="Liberation Serif" font-weight="bold" font-size="12.0" stroke="#000" stroke-width="0.35">4</text>
<text transform="translate(24.00,363.60) scale(1.08,1.0)" text-anchor="middle" font-family="Liberation Serif" font-weight="bold" font-size="12.0" stroke="#000" stroke-width="0.35">2</text>
<text transform="translate(24.00,387.40) scale(1.08,1.0)" text-anchor="middle" font-family="Liberation Serif" font-weight="bold" font-size="12.0" stroke="#000" stroke-width="0.35">0</text>
<text transform="translate(24.00,411.90) scale(1.08,1.0)" text-anchor="middle" font-family="Liberation Serif" font-weight="bold" font-size="12.0" stroke="#000" stroke-width="0.35">2</text>
<text transform="translate(24.00,436.30) scale(1.08,1.0)" text-anchor="middle" font-family="Liberation Serif" font-weight="bold" font-size="12.0" stroke="#000" stroke-width="0.35">4</text>
<text transform="translate(35.50,456.25) scale(1.08,1.0)" text-anchor="middle" font-family="Liberation Serif" font-weight="bold" font-size="12.0" stroke="#000" stroke-width="0.35">6</text>
<rect x="25.70" y="452.35" width="3.2" height="1.5" fill="#000"/>
<text transform="translate(82.91,456.25) scale(1.08,1.0)" text-anchor="middle" font-family="Liberation Serif" font-weight="bold" font-size="12.0" stroke="#000" stroke-width="0.35">4</text>
<rect x="73.11" y="452.35" width="3.2" height="1.5" fill="#000"/>
<text transform="translate(130.32,456.25) scale(1.08,1.0)" text-anchor="middle" font-family="Liberation Serif" font-weight="bold" font-size="12.0" stroke="#000" stroke-width="0.35">2</text>
<rect x="120.52" y="452.35" width="3.2" height="1.5" fill="#000"/>
<text transform="translate(172.73,456.25) scale(1.08,1.0)" text-anchor="middle" font-family="Liberation Serif" font-weight="bold" font-size="12.0" stroke="#000" stroke-width="0.35">0</text>
<text transform="translate(220.14,456.25) scale(1.08,1.0)" text-anchor="middle" font-family="Liberation Serif" font-weight="bold" font-size="12.0" stroke="#000" stroke-width="0.35">2</text>
<text transform="translate(267.55,456.25) scale(1.08,1.0)" text-anchor="middle" font-family="Liberation Serif" font-weight="bold" font-size="12.0" stroke="#000" stroke-width="0.35">4</text>
<text transform="translate(112.60,476.45) scale(1.13,1.0)" text-anchor="middle" font-family="Liberation Serif" font-weight="bold" font-size="14.0" stroke="#000" stroke-width="0.3">e</text>
<text transform="translate(121.00,476.45) scale(1.13,1.0)" text-anchor="middle" font-family="Liberation Serif" font-weight="bold" font-size="14.0" stroke="#000" stroke-width="0.3">n</text>
<text transform="translate(129.20,476.45) scale(1.13,1.0)" text-anchor="middle" font-family="Liberation Serif" font-weight="bold" font-size="14.0" stroke="#000" stroke-width="0.3">e</text>
<text transform="translate(136.80,476.45) scale(1.13,1.0)" text-anchor="middle" font-family="Liberation Serif" font-weight="bold" font-size="14.0" stroke="#000" stroke-width="0.3">r</text>
<text transform="translate(145.00,476.45) scale(1.13,1.0)" text-anchor="middle" font-family="Liberation Serif" font-weight="bold" font-size="14.0" stroke="#000" stroke-width="0.3">g</text>
<text transform="translate(153.40,476.45) scale(1.13,1.0)" text-anchor="middle" font-family="Liberation Serif" font-weight="bold" font-size="14.0" stroke="#000" stroke-width="0.3">y</text>
<text transform="translate(169.10,476.45) scale(1.13,1.0)" text-anchor="middle" font-family="Liberation Serif" font-weight="bold" font-size="14.0" stroke="#000" stroke-width="0.3">(</text>
<text transform="translate(177.80,476.45) scale(1.13,1.0)" text-anchor="middle" font-family="Liberation Serif" font-weight="bold" font-size="14.0" stroke="#000" stroke-width="0.3">e</text>
<text transform="translate(186.90,476.45) scale(1.13,1.0)" text-anchor="middle" font-family="Liberation Serif" font-weight="bold" font-size="14.0" stroke="#000" stroke-width="0.3">V</text>
<text transform="translate(196.70,476.45) scale(1.13,1.0)" text-anchor="middle" font-family="Liberation Serif" font-weight="bold" font-size="14.0" stroke="#000" stroke-width="0.3">)</text>
<text transform="translate(10.60,425.60) rotate(-90) scale(1.13,1.06)" text-anchor="middle" font-family="Liberation Serif" font-weight="bold" font-size="14.0" stroke="#000" stroke-width="0.3">n</text>
<text transform="translate(10.60,417.50) rotate(-90) scale(1.13,1.06)" text-anchor="middle" font-family="Liberation Serif" font-weight="bold" font-size="14.0" stroke="#000" stroke-width="0.3">(</text>
<text transform="translate(10.60,408.70) rotate(-90) scale(1.13,1.06)" text-anchor="middle" font-family="Liberation Serif" font-weight="bold" font-size="14.0" stroke="#000" stroke-width="0.3">E</text>
<text transform="translate(10.60,401.10) rotate(-90) scale(1.13,1.06)" text-anchor="middle" font-family="Liberation Serif" font-weight="bold" font-size="14.0" stroke="#000" stroke-width="0.3">)</text>
<text transform="translate(10.60,387.40) rotate(-90) scale(1.13,1.06)" text-anchor="middle" font-family="Liberation Serif" font-weight="bold" font-size="14.0" stroke="#000" stroke-width="0.3">(</text>
<text transform="translate(10.60,378.75) rotate(-90) scale(1.13,1.06)" text-anchor="middle" font-family="Liberation Serif" font-weight="bold" font-size="14.0" stroke="#000" stroke-width="0.3">s</text>
<text transform="translate(10.60,371.10) rotate(-90) scale(1.13,1.06)" text-anchor="middle" font-family="Liberation Serif" font-weight="bold" font-size="14.0" stroke="#000" stroke-width="0.3">t</text>
<text transform="translate(10.60,363.40) rotate(-90) scale(1.13,1.06)" text-anchor="middle" font-family="Liberation Serif" font-weight="bold" font-size="14.0" stroke="#000" stroke-width="0.3">s</text>
<text transform="translate(10.60,355.90) rotate(-90) scale(1.13,1.06)" text-anchor="middle" font-family="Liberation Serif" font-weight="bold" font-size="14.0" stroke="#000" stroke-width="0.3">.</text>
<text transform="translate(10.60,346.90) rotate(-90) scale(1.13,1.06)" text-anchor="middle" font-family="Liberation Serif" font-weight="bold" font-size="14.0" stroke="#000" stroke-width="0.3">/</text>
<text transform="translate(10.60,337.50) rotate(-90) scale(1.13,1.06)" text-anchor="middle" font-family="Liberation Serif" font-weight="bold" font-size="14.0" stroke="#000" stroke-width="0.3">e</text>
<text transform="translate(10.60,328.30) rotate(-90) scale(1.13,1.06)" text-anchor="middle" font-family="Liberation Serif" font-weight="bold" font-size="14.0" stroke="#000" stroke-width="0.3">V</text>
<text transform="translate(10.60,318.90) rotate(-90) scale(1.13,1.06)" text-anchor="middle" font-family="Liberation Serif" font-weight="bold" font-size="14.0" stroke="#000" stroke-width="0.3">)</text>
<text transform="translate(159.33,334.80)" text-anchor="middle" font-family="Liberation Serif" font-weight="bold" font-size="12" stroke="#000" stroke-width="0.3">E</text>
<text transform="translate(166.93,339.50)" text-anchor="middle" font-family="Liberation Serif" font-weight="bold" font-size="9" stroke="#000" stroke-width="0.25">F</text>
<text x="189.70" y="421.40" textLength="65.50" lengthAdjust="spacingAndGlyphs" font-family="Liberation Serif" font-size="11" stroke="#000" stroke-width="0.2">a =&#160; 11.09 a.u.</text>
<text transform="translate(59.10,346.70)" text-anchor="middle" font-family="Liberation Serif" font-weight="bold" font-size="12.5" stroke="#000" stroke-width="0.35">Z</text>
<text transform="translate(66.60,346.70)" text-anchor="middle" font-family="Liberation Serif" font-weight="bold" font-size="12.5" stroke="#000" stroke-width="0.35">B</text>
<clipPath id="cR2"><rect x="320.9" y="323.6" width="237.00" height="120.85"/></clipPath>
<path d="M371.1,382.4 L372.3,382.6 L373.4,381.2 L374.6,379.3 L375.8,378.8 L377.0,378.1 L378.2,376.4 L379.4,375.5 L380.6,374.9 L381.4,375.2 L382.2,374.1 L383.0,373.8 L383.7,372.0 L384.9,371.9 L386.1,370.9 L387.3,369.4 L388.5,369.3 L389.6,368.5 L390.9,371.7 L391.7,372.3 L392.5,374.1 L393.2,375.8 L394.0,376.1 L395.0,376.4 L396.2,377.1 L397.4,377.2 L398.6,377.2 L399.8,377.7 L400.9,378.0 L402.1,378.0 L403.3,378.1 L404.5,378.8 L405.3,377.4 L406.1,377.7 L406.9,377.0 L407.7,376.1 L408.9,375.1 L410.1,375.6 L411.2,373.3 L412.4,371.7 L413.2,373.1 L414.0,373.3 L415.2,374.2 L416.4,374.1 L417.6,375.2 L418.8,374.9 L419.6,376.5 L420.4,376.4 L421.1,375.5 L421.9,373.3 L422.7,372.8 L423.5,372.0 L424.3,372.7 L425.1,374.1 L425.9,374.3 L426.7,373.3 L427.9,373.3 L429.1,373.3 L430.2,372.4 L431.4,372.5 L432.6,370.1 L433.8,367.7 L434.6,367.6 L435.4,368.5 L436.2,366.8 L437.0,364.6 L437.8,363.4 L438.6,362.2 L439.4,359.7 L440.1,358.2 L440.9,355.4 L441.7,354.3 L442.8,350.3 L444.1,351.9 L445.4,357.4 L446.5,363.8 L448.1,370.1 L449.6,375.6 L450.8,378.1 L452.0,380.4 L453.2,381.6 L454.4,382.4 L461.5,382.4 L472.0,382.4 L472.8,381.0 L473.6,380.4 L474.4,378.5 L475.2,377.2 L476.0,376.0 L476.8,374.8 L477.5,373.0 L478.3,372.4 L479.1,372.1 L479.9,372.4 L480.7,370.6 L481.5,369.3 L482.3,367.6 L483.1,366.9 L484.4,364.5 L485.4,359.0 L486.6,355.0 L487.8,354.2 L489.1,355.8 L490.2,359.0 L491.3,354.2 L492.6,349.5 L493.8,340.0 L494.9,332.1 L495.7,325.8 L496.5,325.0 L497.3,330.5 L498.1,344.7 L498.9,357.4 L500.2,355.0 L501.3,353.4 L502.1,362.1 L503.3,370.1 L504.9,375.6 L505.7,376.4 L506.5,377.2 L507.3,376.9 L508.1,375.6 L508.9,375.0 L509.7,373.2 L510.8,370.1 L511.6,368.0 L512.4,366.9 L513.2,364.8 L513.9,363.7 L514.7,365.0 L515.5,365.3 L516.3,366.7 L517.1,369.3 L517.9,368.7 L518.7,366.9 L519.5,366.8 L520.3,368.5 L521.1,368.7 L521.9,368.5 L522.7,368.8 L523.4,370.1 L524.2,370.2 L525.0,371.3 L525.8,370.0 L526.6,369.3 L527.8,369.1 L529.0,367.7 L530.2,366.6 L531.4,366.6 L532.1,367.9 L532.9,367.7 L533.7,366.8 L534.5,366.9 L535.3,366.7 L536.1,367.7 L536.9,369.5 L537.7,371.6 L538.5,370.5 L539.3,370.1 L540.5,372.0 L541.6,373.2 L542.4,372.0 L543.2,371.6 L544.0,373.4 L544.8,375.6 L545.6,373.7 L546.4,373.2 L547.2,375.3 L548.0,375.6 L549.2,376.4 L550.4,377.2 L551.1,377.6 L551.9,378.0 L553.1,377.4 L554.3,378.3 L555.4,378.6 L556.4,379.5 L557.5,379.6" fill="none" stroke="#0000ff" stroke-width="1.45" stroke-linejoin="round" clip-path="url(#cR2)"/>
<path d="M340.2,384.1 L363.9,384.1 L365.1,384.3 L366.3,385.9 L367.5,387.7 L368.7,389.1 L369.9,389.5 L371.1,391.5 L372.3,392.7 L373.4,393.9 L374.6,395.9 L375.8,397.0 L377.0,399.5 L378.2,400.2 L379.1,401.4 L380.1,402.6 L381.4,401.0 L382.2,400.7 L382.9,398.6 L383.7,396.2 L384.5,395.5 L385.3,393.9 L386.1,392.3 L387.3,391.2 L388.5,389.9 L389.7,389.6 L390.9,388.3 L392.1,387.7 L393.2,388.8 L394.0,389.6 L394.8,389.4 L395.0,389.9 L395.8,390.6 L396.6,390.7 L397.4,392.1 L398.2,392.3 L399.0,394.5 L399.8,395.5 L400.5,396.9 L401.3,399.4 L402.1,398.9 L402.9,400.2 L403.7,400.3 L404.5,398.6 L405.3,399.1 L406.1,400.2 L406.9,401.7 L407.7,402.6 L408.5,403.9 L409.3,405.0 L410.0,406.7 L410.8,407.3 L411.6,407.7 L412.4,409.7 L413.2,416.1 L414.0,422.4 L414.8,417.6 L416.4,412.1 L417.2,411.2 L418.0,408.9 L418.8,407.1 L419.6,405.0 L420.4,398.6 L421.1,401.8 L421.9,403.2 L422.7,403.4 L424.3,395.5 L425.9,387.5 L426.7,386.5 L427.5,385.2 L428.3,384.7 L429.1,385.2 L429.9,386.6 L430.6,388.3 L432.2,393.9 L433.8,400.2 L435.4,406.5 L437.0,411.3 L438.6,417.6 L440.1,425.6 L441.3,435.1 L442.2,447.7 L443.3,447.7 L444.1,431.9 L444.9,411.3 L445.7,395.5 L447.0,388.3 L448.1,395.5 L449.6,405.0 L450.4,403.2 L451.2,402.6 L452.0,401.0 L452.8,400.2 L453.6,399.5 L454.4,398.6 L455.2,397.2 L456.0,396.2 L456.8,395.7 L457.6,393.9 L458.4,392.4 L459.2,392.3 L460.3,395.5 L461.2,393.1 L462.3,398.6 L463.1,396.3 L463.9,395.5 L465.1,395.2 L466.3,394.2 L467.3,393.8 L468.4,394.5 L469.5,393.9 L470.7,393.6 L472.0,393.8 L473.2,393.2 L474.4,393.0 L475.2,395.1 L476.0,396.6 L476.8,395.3 L477.5,393.0 L478.7,393.2 L479.9,392.2 L481.1,392.7 L482.3,394.6 L483.1,393.3 L483.9,391.4 L484.7,391.6 L485.4,393.0 L486.2,392.4 L487.0,391.9 L488.2,390.5 L489.4,390.6 L490.6,390.8 L491.8,392.2 L493.0,391.9 L494.2,393.0 L495.3,394.2 L496.5,393.8 L497.3,396.6 L498.1,398.6 L498.9,396.5 L499.7,395.4 L500.5,394.0 L501.3,393.0 L502.1,393.8 L502.9,394.6 L503.7,395.2 L504.4,396.2 L505.2,395.3 L506.0,393.0 L507.2,391.6 L508.4,391.4 L509.6,390.3 L510.8,390.6 L512.0,391.1 L513.1,390.6 L514.3,390.4 L515.5,389.1 L516.7,389.3 L517.9,389.4 L519.1,389.0 L520.3,388.3 L521.5,387.8 L522.6,388.7 L523.8,387.6 L525.0,387.5 L526.2,387.6 L527.4,387.2 L528.6,386.3 L529.8,385.9 L531.0,385.5 L532.1,386.2 L533.3,386.2 L534.5,385.1 L535.7,384.7 L536.9,384.6 L539.3,384.3 L541.6,384.6 L544.8,384.1 L548.0,384.3 L551.1,384.1 L554.3,384.1 L557.5,384.1" fill="none" stroke="#ff0000" stroke-width="1.45" stroke-linejoin="round" clip-path="url(#cR2)"/>
<line x1="395.90" y1="349.50" x2="395.90" y2="361.60" stroke="#0000ff" stroke-width="1.35"/><path d="M393.60,360.60 L395.90,361.40 L398.20,360.60 L395.90,365.40Z" fill="#0000ff"/>
<line x1="395.60" y1="420.50" x2="395.60" y2="408.00" stroke="#ff0000" stroke-width="1.35"/><path d="M393.30,409.00 L395.60,408.20 L397.90,409.00 L395.60,404.20Z" fill="#ff0000"/>
<line x1="320.9" y1="383.35" x2="557.9" y2="383.35" stroke="#000" stroke-width="1.3"/>
<line x1="463.40" y1="323.6" x2="463.40" y2="444.45000000000005" stroke="#000" stroke-width="1.2"/>
<path d="M368.30,444.45000000000005v-7.1M368.30,323.6v8.1M368.30,375.20v14.5M415.70,444.45000000000005v-7.1M415.70,323.6v8.1M415.70,375.20v14.5M510.50,444.45000000000005v-7.1M510.50,323.6v8.1M510.50,375.20v14.5M320.9,432.20h7.2M557.9,432.20h-7.2M320.9,420.00h3.4M557.9,420.00h-3.4M320.9,407.80h7.2M557.9,407.80h-7.2M320.9,395.60h3.4M557.9,395.60h-3.4M320.9,371.40h4M557.9,371.40h-4M320.9,359.50h8M557.9,359.50h-8M320.9,347.45h4M557.9,347.45h-4M320.9,335.40h8M557.9,335.40h-8" stroke="#000" stroke-width="1.2" fill="none"/>
<rect x="320.9" y="323.6" width="237.00" height="120.85" fill="none" stroke="#000" stroke-width="1.3"/>
<text transform="translate(314.40,339.50) scale(1.08,1.0)" text-anchor="middle" font-family="Liberation Serif" font-weight="bold" font-size="12.0" stroke="#000" stroke-width="0.35">4</text>
<text transform="translate(314.40,363.60) scale(1.08,1.0)" text-anchor="middle" font-family="Liberation Serif" font-weight="bold" font-size="12.0" stroke="#000" stroke-width="0.35">2</text>
<text transform="translate(314.40,387.40) scale(1.08,1.0)" text-anchor="middle" font-family="Liberation Serif" font-weight="bold" font-size="12.0" stroke="#000" stroke-width="0.35">0</text>
<text transform="translate(314.40,411.90) scale(1.08,1.0)" text-anchor="middle" font-family="Liberation Serif" font-weight="bold" font-size="12.0" stroke="#000" stroke-width="0.35">2</text>
<text transform="translate(314.40,436.30) scale(1.08,1.0)" text-anchor="middle" font-family="Liberation Serif" font-weight="bold" font-size="12.0" stroke="#000" stroke-width="0.35">4</text>
<text transform="translate(325.90,456.25) scale(1.08,1.0)" text-anchor="middle" font-family="Liberation Serif" font-weight="bold" font-size="12.0" stroke="#000" stroke-width="0.35">6</text>
<rect x="316.10" y="452.35" width="3.2" height="1.5" fill="#000"/>
<text transform="translate(373.30,456.25) scale(1.08,1.0)" text-anchor="middle" font-family="Liberation Serif" font-weight="bold" font-size="12.0" stroke="#000" stroke-width="0.35">4</text>
<rect x="363.50" y="452.35" width="3.2" height="1.5" fill="#000"/>
<text transform="translate(420.70,456.25) scale(1.08,1.0)" text-anchor="middle" font-family="Liberation Serif" font-weight="bold" font-size="12.0" stroke="#000" stroke-width="0.35">2</text>
<rect x="410.90" y="452.35" width="3.2" height="1.5" fill="#000"/>
<text transform="translate(463.10,456.25) scale(1.08,1.0)" text-anchor="middle" font-family="Liberation Serif" font-weight="bold" font-size="12.0" stroke="#000" stroke-width="0.35">0</text>
<text transform="translate(510.50,456.25) scale(1.08,1.0)" text-anchor="middle" font-family="Liberation Serif" font-weight="bold" font-size="12.0" stroke="#000" stroke-width="0.35">2</text>
<text transform="translate(557.90,456.25) scale(1.08,1.0)" text-anchor="middle" font-family="Liberation Serif" font-weight="bold" font-size="12.0" stroke="#000" stroke-width="0.35">4</text>
<text transform="translate(402.20,476.05) scale(1.13,1.0)" text-anchor="middle" font-family="Liberation Serif" font-weight="bold" font-size="14.0" stroke="#000" stroke-width="0.3">e</text>
<text transform="translate(410.60,476.05) scale(1.13,1.0)" text-anchor="middle" font-family="Liberation Serif" font-weight="bold" font-size="14.0" stroke="#000" stroke-width="0.3">n</text>
<text transform="translate(418.80,476.05) scale(1.13,1.0)" text-anchor="middle" font-family="Liberation Serif" font-weight="bold" font-size="14.0" stroke="#000" stroke-width="0.3">e</text>
<text transform="translate(426.40,476.05) scale(1.13,1.0)" text-anchor="middle" font-family="Liberation Serif" font-weight="bold" font-size="14.0" stroke="#000" stroke-width="0.3">r</text>
<text transform="translate(434.60,476.05) scale(1.13,1.0)" text-anchor="middle" font-family="Liberation Serif" font-weight="bold" font-size="14.0" stroke="#000" stroke-width="0.3">g</text>
<text transform="translate(443.00,476.05) scale(1.13,1.0)" text-anchor="middle" font-family="Liberation Serif" font-weight="bold" font-size="14.0" stroke="#000" stroke-width="0.3">y</text>
<text transform="translate(459.30,476.05) scale(1.13,1.0)" text-anchor="middle" font-family="Liberation Serif" font-weight="bold" font-size="14.0" stroke="#000" stroke-width="0.3">(</text>
<text transform="translate(468.00,476.05) scale(1.13,1.0)" text-anchor="middle" font-family="Liberation Serif" font-weight="bold" font-size="14.0" stroke="#000" stroke-width="0.3">e</text>
<text transform="translate(477.40,476.05) scale(1.13,1.0)" text-anchor="middle" font-family="Liberation Serif" font-weight="bold" font-size="14.0" stroke="#000" stroke-width="0.3">V</text>
<text transform="translate(487.20,476.05) scale(1.13,1.0)" text-anchor="middle" font-family="Liberation Serif" font-weight="bold" font-size="14.0" stroke="#000" stroke-width="0.3">)</text>
<text transform="translate(301.70,427.60) rotate(-90) scale(1.13,1.06)" text-anchor="middle" font-family="Liberation Serif" font-weight="bold" font-size="14.0" stroke="#000" stroke-width="0.3">n</text>
<text transform="translate(301.70,419.00) rotate(-90) scale(1.13,1.06)" text-anchor="middle" font-family="Liberation Serif" font-weight="bold" font-size="14.0" stroke="#000" stroke-width="0.3">(</text>
<text transform="translate(301.70,410.40) rotate(-90) scale(1.13,1.06)" text-anchor="middle" font-family="Liberation Serif" font-weight="bold" font-size="14.0" stroke="#000" stroke-width="0.3">E</text>
<text transform="translate(301.70,401.70) rotate(-90) scale(1.13,1.06)" text-anchor="middle" font-family="Liberation Serif" font-weight="bold" font-size="14.0" stroke="#000" stroke-width="0.3">)</text>
<text transform="translate(301.70,386.00) rotate(-90) scale(1.13,1.06)" text-anchor="middle" font-family="Liberation Serif" font-weight="bold" font-size="14.0" stroke="#000" stroke-width="0.3">(</text>
<text transform="translate(301.70,379.30) rotate(-90) scale(1.13,1.06)" text-anchor="middle" font-family="Liberation Serif" font-weight="bold" font-size="14.0" stroke="#000" stroke-width="0.3">s</text>
<text transform="translate(301.70,371.60) rotate(-90) scale(1.13,1.06)" text-anchor="middle" font-family="Liberation Serif" font-weight="bold" font-size="14.0" stroke="#000" stroke-width="0.3">t</text>
<text transform="translate(301.70,363.30) rotate(-90) scale(1.13,1.06)" text-anchor="middle" font-family="Liberation Serif" font-weight="bold" font-size="14.0" stroke="#000" stroke-width="0.3">s</text>
<text transform="translate(301.70,356.00) rotate(-90) scale(1.13,1.06)" text-anchor="middle" font-family="Liberation Serif" font-weight="bold" font-size="14.0" stroke="#000" stroke-width="0.3">.</text>
<text transform="translate(301.70,347.90) rotate(-90) scale(1.13,1.06)" text-anchor="middle" font-family="Liberation Serif" font-weight="bold" font-size="14.0" stroke="#000" stroke-width="0.3">/</text>
<text transform="translate(301.70,337.40) rotate(-90) scale(1.13,1.06)" text-anchor="middle" font-family="Liberation Serif" font-weight="bold" font-size="14.0" stroke="#000" stroke-width="0.3">e</text>
<text transform="translate(301.70,327.90) rotate(-90) scale(1.13,1.06)" text-anchor="middle" font-family="Liberation Serif" font-weight="bold" font-size="14.0" stroke="#000" stroke-width="0.3">V</text>
<text transform="translate(301.70,318.60) rotate(-90) scale(1.13,1.06)" text-anchor="middle" font-family="Liberation Serif" font-weight="bold" font-size="14.0" stroke="#000" stroke-width="0.3">)</text>
<text transform="translate(449.70,334.80)" text-anchor="middle" font-family="Liberation Serif" font-weight="bold" font-size="12" stroke="#000" stroke-width="0.3">E</text>
<text transform="translate(457.30,339.50)" text-anchor="middle" font-family="Liberation Serif" font-weight="bold" font-size="9" stroke="#000" stroke-width="0.25">F</text>
<text x="481.10" y="421.40" textLength="62.60" lengthAdjust="spacingAndGlyphs" font-family="Liberation Serif" font-size="11" stroke="#000" stroke-width="0.2">a = 11.09 a.u.</text>
<text transform="translate(338.90,344.80)" text-anchor="middle" font-family="Liberation Serif" font-weight="bold" font-size="12.5" stroke="#000" stroke-width="0.35">w</text>
<text transform="translate(345.50,344.80)" text-anchor="middle" font-family="Liberation Serif" font-weight="bold" font-size="12.5" stroke="#000" stroke-width="0.35">u</text>
<text transform="translate(350.30,344.80)" text-anchor="middle" font-family="Liberation Serif" font-weight="bold" font-size="12.5" stroke="#000" stroke-width="0.35">r</text>
<text transform="translate(357.20,344.80) scale(1.1,1.0)" text-anchor="middle" font-family="Liberation Serif" font-weight="bold" font-size="12.5" stroke="#000" stroke-width="0.35">t</text>
<text transform="translate(365.00,344.80) scale(1.1,1.0)" text-anchor="middle" font-family="Liberation Serif" font-weight="bold" font-size="12.5" stroke="#000" stroke-width="0.35">z</text>
<text transform="translate(371.00,344.80)" text-anchor="middle" font-family="Liberation Serif" font-weight="bold" font-size="12.5" stroke="#000" stroke-width="0.35">i</text>
<text transform="translate(378.10,344.80) scale(1.1,1.0)" text-anchor="middle" font-family="Liberation Serif" font-weight="bold" font-size="12.5" stroke="#000" stroke-width="0.35">t</text>
<text transform="translate(385.70,344.80) scale(1.1,1.0)" text-anchor="middle" font-family="Liberation Serif" font-weight="bold" font-size="12.5" stroke="#000" stroke-width="0.35">e</text>
<clipPath id="cL3"><rect x="30.5" y="482.5" width="237.05" height="120.85"/></clipPath>
<path d="M88.6,541.4 L89.8,541.2 L91.0,540.2 L92.2,539.5 L93.4,537.0 L94.6,535.3 L95.7,533.9 L96.9,532.8 L98.1,530.7 L99.3,529.4 L100.5,527.5 L101.7,526.5 L102.9,525.1 L103.7,524.9 L104.5,523.6 L105.0,524.4 L106.2,528.0 L107.4,530.7 L108.6,533.0 L109.8,533.9 L110.9,534.3 L112.1,535.5 L113.3,536.7 L114.5,536.2 L115.6,535.5 L116.6,536.2 L117.7,536.2 L118.7,535.9 L119.8,535.3 L120.8,535.5 L121.9,534.5 L123.0,534.3 L124.0,534.6 L125.1,534.3 L126.1,534.4 L127.2,534.2 L128.2,534.5 L129.3,534.1 L130.3,533.5 L131.4,534.2 L132.5,533.4 L133.5,533.1 L134.6,533.1 L135.6,533.2 L136.7,532.0 L137.7,532.1 L138.8,530.3 L139.8,530.7 L140.9,530.2 L142.0,529.4 L143.0,529.1 L144.2,528.4 L145.4,525.9 L146.2,524.8 L147.0,522.8 L148.6,518.0 L150.2,511.7 L151.3,503.8 L152.5,494.3 L153.5,503.8 L154.4,508.5 L155.4,518.0 L156.5,532.3 L157.6,539.4 L158.6,540.6 L159.7,541.4 L185.5,541.4 L186.3,541.1 L187.1,539.5 L187.8,537.0 L188.6,535.6 L189.4,534.1 L190.2,531.6 L191.0,529.4 L191.8,528.4 L192.6,527.5 L193.4,526.9 L194.2,526.0 L195.0,524.5 L195.8,523.1 L196.6,522.1 L197.3,521.6 L198.1,519.7 L198.9,518.6 L199.7,518.1 L200.5,518.2 L201.3,516.6 L202.6,520.5 L203.7,509.4 L204.8,493.6 L205.7,480.9 L206.8,480.9 L207.6,490.4 L208.4,499.9 L209.2,488.9 L210.0,480.9 L210.8,499.9 L211.6,517.4 L212.7,528.4 L214.0,534.0 L214.8,535.3 L215.6,535.6 L216.3,536.3 L217.1,536.4 L217.9,537.1 L218.7,537.1 L219.5,538.0 L220.3,537.9 L221.6,531.6 L222.7,526.1 L223.8,520.5 L225.1,519.7 L225.8,520.3 L226.6,521.3 L227.8,522.5 L229.0,522.9 L230.2,522.7 L231.4,522.1 L232.2,521.6 L233.0,519.7 L233.8,520.8 L234.5,522.1 L235.3,522.1 L236.1,523.7 L237.3,524.4 L238.5,526.1 L239.7,527.3 L240.9,528.4 L242.1,528.2 L243.2,529.2 L244.4,530.5 L245.6,530.8 L246.8,530.4 L248.0,528.4 L248.8,530.3 L249.6,533.2 L250.8,534.2 L252.0,534.8 L253.1,535.8 L254.3,535.6 L255.5,537.1 L256.7,537.1 L257.9,537.6 L259.1,537.1 L260.3,537.6 L261.4,537.9 L262.6,538.4 L263.8,539.5 L265.0,540.4 L266.2,540.3 L267.0,540.1 L267.8,541.1" fill="none" stroke="#0000ff" stroke-width="1.05" stroke-dasharray="4,2.2" stroke-linejoin="round" clip-path="url(#cL3)"/>
<path d="M82.3,543.0 L83.5,543.6 L84.7,544.2 L85.8,544.6 L87.0,546.5 L87.8,547.7 L88.6,550.5 L89.4,551.6 L90.2,554.5 L91.8,559.2 L92.6,562.1 L93.4,563.2 L94.2,563.5 L95.0,564.0 L95.7,565.2 L96.5,565.5 L97.3,563.1 L98.1,560.8 L98.9,559.0 L99.7,557.6 L100.5,556.3 L101.3,554.5 L102.1,552.5 L102.9,551.3 L103.7,550.4 L104.5,549.7 L105.0,548.1 L106.1,549.5 L107.1,550.0 L108.2,550.5 L109.2,550.3 L110.3,550.8 L111.3,549.7 L112.5,552.2 L113.7,553.7 L114.9,555.5 L116.1,558.4 L117.3,560.3 L118.5,564.0 L120.8,571.9 L122.0,574.2 L123.2,578.2 L124.8,583.0 L126.4,571.9 L128.0,565.5 L129.2,563.4 L130.3,560.8 L131.5,557.6 L132.7,554.5 L133.9,551.3 L135.1,549.7 L136.3,547.3 L137.5,545.0 L138.7,545.9 L139.8,545.3 L141.8,551.3 L143.0,565.5 L144.6,587.7 L145.9,600.4 L147.5,606.7 L149.0,600.4 L150.2,581.4 L150.9,562.4 L151.9,552.9 L152.6,551.2 L153.3,549.7 L154.1,551.0 L154.9,552.1 L156.0,560.8 L157.3,568.7 L158.9,562.4 L160.4,556.8 L161.2,555.3 L162.0,552.9 L163.1,553.6 L164.1,553.0 L165.2,553.7 L166.3,554.2 L167.3,554.7 L168.4,554.5 L169.4,553.9 L170.5,553.9 L171.5,553.7 L172.6,552.8 L173.6,553.7 L174.7,552.9 L175.8,553.2 L176.8,553.2 L177.9,554.1 L178.9,553.5 L180.0,553.2 L181.0,553.7 L182.2,554.5 L183.3,553.1 L184.5,553.4 L185.6,554.4 L186.8,553.8 L188.0,553.9 L189.2,554.6 L190.4,554.9 L191.6,553.6 L192.8,553.6 L193.9,554.1 L195.1,552.8 L196.3,553.4 L197.5,553.6 L198.7,552.5 L199.9,552.3 L201.1,552.6 L202.2,552.0 L203.4,552.8 L204.6,553.6 L205.8,552.1 L207.0,551.7 L208.2,551.1 L209.4,551.2 L210.6,550.1 L211.8,550.4 L212.9,549.6 L214.1,550.1 L215.3,550.6 L216.5,549.6 L217.7,551.1 L218.9,551.2 L219.7,550.8 L220.5,550.4 L221.2,549.7 L222.0,549.2 L222.8,548.3 L223.6,548.1 L224.8,546.9 L226.0,547.3 L227.2,547.8 L228.4,546.5 L229.6,545.3 L230.7,545.7 L231.9,546.7 L233.1,546.0 L234.3,544.6 L235.5,544.9 L236.7,544.8 L237.9,545.4 L239.1,544.0 L240.2,544.4 L241.4,543.6 L242.6,544.1 L243.7,544.2 L244.7,543.4 L245.8,543.8 L248.9,543.8 L252.1,543.5 L255.3,543.3 L258.4,543.3 L261.6,543.3 L264.8,543.3 L267.9,543.3" fill="none" stroke="#ff0000" stroke-width="1.05" stroke-dasharray="4,2.2" stroke-linejoin="round" clip-path="url(#cL3)"/>
<path d="M89.4,541.0 L90.6,540.2 L91.8,538.9 L93.0,537.5 L94.2,536.2 L95.3,534.2 L96.5,533.1 L97.7,531.4 L98.9,529.9 L100.1,528.2 L101.3,526.7 L102.1,525.6 L102.9,524.4 L103.7,522.9 L104.5,522.5 L105.0,522.8 L106.6,527.5 L107.4,529.6 L108.2,532.3 L109.4,533.3 L110.5,534.6 L111.7,535.5 L112.9,535.8 L114.1,536.2 L115.3,537.0 L116.5,536.4 L117.7,536.2 L118.9,535.7 L120.0,535.5 L121.2,534.7 L122.4,534.6 L123.6,533.4 L124.8,533.1 L125.6,534.4 L126.4,533.9 L127.6,534.6 L128.8,534.6 L129.9,533.7 L131.1,533.9 L132.3,534.3 L133.5,533.5 L134.7,533.0 L135.9,532.6 L137.1,532.4 L138.3,531.5 L139.5,530.9 L140.6,530.4 L141.8,528.9 L143.0,529.1 L143.8,527.3 L144.6,526.7 L145.4,525.9 L146.2,524.4 L147.0,523.0 L147.8,520.4 L149.4,514.1 L150.6,506.9 L151.7,495.8 L152.5,486.3 L153.0,480.0 L153.8,489.5 L154.4,506.9 L155.1,522.8 L155.7,533.9 L157.0,540.2 L157.9,540.7 L158.9,541.4 L168.4,541.4 L185.0,541.4 L185.8,539.9 L186.6,538.6 L187.4,537.0 L188.2,534.6 L189.0,532.7 L189.8,530.6 L190.5,529.1 L191.3,527.5 L192.1,525.8 L192.9,525.9 L193.7,524.9 L194.5,523.5 L195.3,522.3 L196.1,521.1 L196.9,520.8 L197.7,518.8 L198.5,517.8 L199.2,517.2 L200.0,517.0 L200.8,515.6 L202.1,519.6 L203.2,508.5 L204.3,492.7 L205.3,480.0 L206.4,480.0 L207.2,489.5 L207.9,499.0 L208.7,487.9 L209.5,480.0 L210.3,499.0 L211.1,516.4 L212.2,527.5 L213.5,533.0 L214.3,533.3 L215.1,534.6 L215.9,535.4 L216.7,535.4 L217.4,535.7 L218.2,536.2 L219.0,536.3 L219.8,537.0 L221.1,530.6 L222.2,525.1 L223.3,519.6 L224.6,518.8 L225.4,520.1 L226.2,520.4 L227.3,520.7 L228.5,522.0 L229.7,521.4 L230.9,521.1 L231.7,519.5 L232.5,518.8 L233.3,520.3 L234.1,521.1 L234.9,521.5 L235.7,522.7 L236.8,523.9 L238.0,525.1 L239.2,526.0 L240.4,527.5 L241.6,528.4 L242.8,528.3 L244.0,529.2 L245.2,529.9 L246.3,528.0 L247.5,527.5 L248.3,529.1 L249.1,532.2 L250.3,533.0 L251.5,533.8 L252.7,534.0 L253.8,534.6 L255.0,535.4 L256.2,536.2 L257.4,535.8 L258.6,536.2 L259.8,536.2 L261.0,537.0 L262.2,538.2 L263.4,538.6 L264.5,538.8 L265.7,539.4 L266.5,539.0 L267.3,540.1" fill="none" stroke="#0000ff" stroke-width="1.45" stroke-linejoin="round" clip-path="url(#cL3)"/>
<path d="M72.8,543.0 L82.3,543.0 L83.5,543.4 L84.7,545.0 L85.4,546.8 L86.2,547.3 L87.0,548.3 L87.8,549.7 L88.6,550.4 L89.4,552.9 L91.0,557.6 L92.6,564.0 L93.4,564.8 L94.2,565.5 L94.9,563.5 L95.7,562.4 L96.5,561.1 L97.3,560.0 L98.1,558.2 L98.9,556.8 L99.7,555.9 L100.5,553.7 L101.3,552.4 L102.1,550.5 L102.9,549.2 L103.7,548.9 L105.0,549.7 L105.8,548.2 L106.6,548.1 L107.4,549.6 L108.2,549.7 L109.0,547.9 L109.8,547.3 L110.5,549.1 L111.3,550.5 L112.1,552.1 L112.9,552.9 L113.7,554.2 L114.5,555.2 L115.3,556.7 L116.1,557.6 L117.7,562.4 L119.3,568.7 L120.8,573.5 L121.6,575.3 L122.4,576.6 L123.7,581.4 L124.8,589.3 L125.9,578.2 L127.2,567.1 L128.8,562.4 L129.6,560.7 L130.3,560.0 L131.1,557.9 L131.9,556.0 L133.5,551.3 L134.3,549.6 L135.1,548.1 L135.9,546.7 L136.7,545.3 L137.5,544.8 L138.3,544.2 L139.2,545.3 L140.2,545.0 L141.8,549.7 L143.0,562.4 L144.3,581.4 L145.4,594.1 L146.5,606.7 L147.3,606.7 L148.1,606.7 L149.0,594.1 L150.2,575.0 L150.9,557.6 L152.2,550.5 L153.0,549.4 L153.8,548.1 L155.4,554.5 L156.5,565.5 L157.3,571.9 L158.1,567.1 L159.7,559.2 L160.4,556.5 L161.2,554.5 L162.0,552.8 L162.8,552.1 L163.6,553.3 L164.4,552.9 L165.2,554.1 L166.0,554.1 L166.8,553.8 L167.6,553.2 L168.4,553.6 L169.2,554.5 L169.9,556.0 L170.7,556.0 L171.5,554.1 L172.3,553.2 L173.5,553.3 L174.7,552.1 L175.9,552.8 L177.1,553.7 L178.3,552.7 L179.5,552.5 L180.6,552.9 L181.8,554.5 L182.9,554.9 L183.9,554.6 L185.0,553.6 L186.2,553.5 L187.4,553.1 L188.6,552.8 L189.8,554.1 L190.9,553.2 L192.1,552.8 L193.3,551.9 L194.5,552.0 L195.7,551.7 L196.9,552.8 L198.1,551.6 L199.2,551.5 L200.4,552.0 L201.6,551.2 L202.8,551.8 L204.0,552.8 L205.2,552.4 L206.4,550.9 L207.6,551.0 L208.7,550.4 L209.9,550.6 L211.1,549.6 L212.3,549.9 L213.5,549.3 L214.7,549.6 L215.9,548.9 L217.1,550.0 L218.2,550.4 L219.0,550.7 L219.8,549.6 L220.6,548.7 L221.4,548.4 L222.2,548.3 L223.0,547.3 L224.2,547.2 L225.4,546.5 L226.6,546.8 L227.7,545.7 L228.9,546.0 L230.1,544.9 L231.3,544.2 L232.5,545.2 L233.7,544.2 L234.9,544.1 L236.0,545.1 L237.2,544.6 L238.4,544.5 L239.6,543.6 L242.0,543.3 L245.2,543.0 L248.3,543.0 L251.5,543.0 L254.7,543.0 L257.8,543.0 L261.0,543.0 L264.1,543.0 L267.3,543.0" fill="none" stroke="#ff0000" stroke-width="1.45" stroke-linejoin="round" clip-path="url(#cL3)"/>
<line x1="84.20" y1="515.60" x2="84.20" y2="527.60" stroke="#0000ff" stroke-width="1.35"/><path d="M81.90,526.60 L84.20,527.40 L86.50,526.60 L84.20,531.40Z" fill="#0000ff"/>
<line x1="84.70" y1="573.20" x2="84.70" y2="561.00" stroke="#ff0000" stroke-width="1.35"/><path d="M82.40,562.00 L84.70,561.20 L87.00,562.00 L84.70,557.20Z" fill="#ff0000"/>
<line x1="30.5" y1="542.25" x2="267.55" y2="542.25" stroke="#000" stroke-width="1.3"/>
<line x1="173.03" y1="482.5" x2="173.03" y2="603.35" stroke="#404040" stroke-width="1.6"/>
<path d="M77.91,603.35v-7.1M77.91,482.5v8.1M77.91,534.10v14.5M125.32,603.35v-7.1M125.32,482.5v8.1M125.32,534.10v14.5M220.14,603.35v-7.1M220.14,482.5v8.1M220.14,534.10v14.5M30.5,591.10h7.2M267.55,591.10h-7.2M30.5,578.90h3.4M267.55,578.90h-3.4M30.5,566.70h7.2M267.55,566.70h-7.2M30.5,554.50h3.4M267.55,554.50h-3.4M30.5,530.30h4M267.55,530.30h-4M30.5,518.40h8M267.55,518.40h-8M30.5,506.35h4M267.55,506.35h-4M30.5,494.30h8M267.55,494.30h-8" stroke="#000" stroke-width="1.2" fill="none"/>
<rect x="30.5" y="482.5" width="237.05" height="120.85" fill="none" stroke="#000" stroke-width="1.3"/>
<text transform="translate(24.00,498.40) scale(1.08,1.0)" text-anchor="middle" font-family="Liberation Serif" font-weight="bold" font-size="12.0" stroke="#000" stroke-width="0.35">4</text>
<text transform="translate(24.00,522.50) scale(1.08,1.0)" text-anchor="middle" font-family="Liberation Serif" font-weight="bold" font-size="12.0" stroke="#000" stroke-width="0.35">2</text>
<text transform="translate(24.00,546.30) scale(1.08,1.0)" text-anchor="middle" font-family="Liberation Serif" font-weight="bold" font-size="12.0" stroke="#000" stroke-width="0.35">0</text>
<text transform="translate(24.00,570.80) scale(1.08,1.0)" text-anchor="middle" font-family="Liberation Serif" font-weight="bold" font-size="12.0" stroke="#000" stroke-width="0.35">2</text>
<text transform="translate(24.00,595.20) scale(1.08,1.0)" text-anchor="middle" font-family="Liberation Serif" font-weight="bold" font-size="12.0" stroke="#000" stroke-width="0.35">4</text>
<text transform="translate(35.50,615.15) scale(1.08,1.0)" text-anchor="middle" font-family="Liberation Serif" font-weight="bold" font-size="12.0" stroke="#000" stroke-width="0.35">6</text>
<rect x="25.70" y="611.25" width="3.2" height="1.5" fill="#000"/>
<text transform="translate(82.91,615.15) scale(1.08,1.0)" text-anchor="middle" font-family="Liberation Serif" font-weight="bold" font-size="12.0" stroke="#000" stroke-width="0.35">4</text>
<rect x="73.11" y="611.25" width="3.2" height="1.5" fill="#000"/>
<text transform="translate(130.32,615.15) scale(1.08,1.0)" text-anchor="middle" font-family="Liberation Serif" font-weight="bold" font-size="12.0" stroke="#000" stroke-width="0.35">2</text>
<rect x="120.52" y="611.25" width="3.2" height="1.5" fill="#000"/>
<text transform="translate(172.73,615.15) scale(1.08,1.0)" text-anchor="middle" font-family="Liberation Serif" font-weight="bold" font-size="12.0" stroke="#000" stroke-width="0.35">0</text>
<text transform="translate(220.14,615.15) scale(1.08,1.0)" text-anchor="middle" font-family="Liberation Serif" font-weight="bold" font-size="12.0" stroke="#000" stroke-width="0.35">2</text>
<text transform="translate(267.55,615.15) scale(1.08,1.0)" text-anchor="middle" font-family="Liberation Serif" font-weight="bold" font-size="12.0" stroke="#000" stroke-width="0.35">4</text>
<text transform="translate(112.60,635.05) scale(1.13,1.0)" text-anchor="middle" font-family="Liberation Serif" font-weight="bold" font-size="14.0" stroke="#000" stroke-width="0.3">e</text>
<text transform="translate(121.00,635.05) scale(1.13,1.0)" text-anchor="middle" font-family="Liberation Serif" font-weight="bold" font-size="14.0" stroke="#000" stroke-width="0.3">n</text>
<text transform="translate(129.20,635.05) scale(1.13,1.0)" text-anchor="middle" font-family="Liberation Serif" font-weight="bold" font-size="14.0" stroke="#000" stroke-width="0.3">e</text>
<text transform="translate(136.80,635.05) scale(1.13,1.0)" text-anchor="middle" font-family="Liberation Serif" font-weight="bold" font-size="14.0" stroke="#000" stroke-width="0.3">r</text>
<text transform="translate(145.00,635.05) scale(1.13,1.0)" text-anchor="middle" font-family="Liberation Serif" font-weight="bold" font-size="14.0" stroke="#000" stroke-width="0.3">g</text>
<text transform="translate(153.40,635.05) scale(1.13,1.0)" text-anchor="middle" font-family="Liberation Serif" font-weight="bold" font-size="14.0" stroke="#000" stroke-width="0.3">y</text>
<text transform="translate(167.90,635.05) scale(1.13,1.0)" text-anchor="middle" font-family="Liberation Serif" font-weight="bold" font-size="14.0" stroke="#000" stroke-width="0.3">(</text>
<text transform="translate(174.50,635.05) scale(1.13,1.0)" text-anchor="middle" font-family="Liberation Serif" font-weight="bold" font-size="14.0" stroke="#000" stroke-width="0.3">e</text>
<text transform="translate(183.80,635.05) scale(1.13,1.0)" text-anchor="middle" font-family="Liberation Serif" font-weight="bold" font-size="14.0" stroke="#000" stroke-width="0.3">V</text>
<text transform="translate(192.10,635.05) scale(1.13,1.0)" text-anchor="middle" font-family="Liberation Serif" font-weight="bold" font-size="14.0" stroke="#000" stroke-width="0.3">)</text>
<text transform="translate(10.60,584.50) rotate(-90) scale(1.13,1.06)" text-anchor="middle" font-family="Liberation Serif" font-weight="bold" font-size="14.0" stroke="#000" stroke-width="0.3">n</text>
<text transform="translate(10.60,576.40) rotate(-90) scale(1.13,1.06)" text-anchor="middle" font-family="Liberation Serif" font-weight="bold" font-size="14.0" stroke="#000" stroke-width="0.3">(</text>
<text transform="translate(10.60,567.60) rotate(-90) scale(1.13,1.06)" text-anchor="middle" font-family="Liberation Serif" font-weight="bold" font-size="14.0" stroke="#000" stroke-width="0.3">E</text>
<text transform="translate(10.60,560.00) rotate(-90) scale(1.13,1.06)" text-anchor="middle" font-family="Liberation Serif" font-weight="bold" font-size="14.0" stroke="#000" stroke-width="0.3">)</text>
<text transform="translate(10.60,546.30) rotate(-90) scale(1.13,1.06)" text-anchor="middle" font-family="Liberation Serif" font-weight="bold" font-size="14.0" stroke="#000" stroke-width="0.3">(</text>
<text transform="translate(10.60,537.65) rotate(-90) scale(1.13,1.06)" text-anchor="middle" font-family="Liberation Serif" font-weight="bold" font-size="14.0" stroke="#000" stroke-width="0.3">s</text>
<text transform="translate(10.60,530.00) rotate(-90) scale(1.13,1.06)" text-anchor="middle" font-family="Liberation Serif" font-weight="bold" font-size="14.0" stroke="#000" stroke-width="0.3">t</text>
<text transform="translate(10.60,522.30) rotate(-90) scale(1.13,1.06)" text-anchor="middle" font-family="Liberation Serif" font-weight="bold" font-size="14.0" stroke="#000" stroke-width="0.3">s</text>
<text transform="translate(10.60,514.80) rotate(-90) scale(1.13,1.06)" text-anchor="middle" font-family="Liberation Serif" font-weight="bold" font-size="14.0" stroke="#000" stroke-width="0.3">.</text>
<text transform="translate(10.60,505.80) rotate(-90) scale(1.13,1.06)" text-anchor="middle" font-family="Liberation Serif" font-weight="bold" font-size="14.0" stroke="#000" stroke-width="0.3">/</text>
<text transform="translate(10.60,496.40) rotate(-90) scale(1.13,1.06)" text-anchor="middle" font-family="Liberation Serif" font-weight="bold" font-size="14.0" stroke="#000" stroke-width="0.3">e</text>
<text transform="translate(10.60,487.20) rotate(-90) scale(1.13,1.06)" text-anchor="middle" font-family="Liberation Serif" font-weight="bold" font-size="14.0" stroke="#000" stroke-width="0.3">V</text>
<text transform="translate(10.60,477.80) rotate(-90) scale(1.13,1.06)" text-anchor="middle" font-family="Liberation Serif" font-weight="bold" font-size="14.0" stroke="#000" stroke-width="0.3">)</text>
<text transform="translate(159.33,493.70)" text-anchor="middle" font-family="Liberation Serif" font-weight="bold" font-size="12" stroke="#000" stroke-width="0.3">E</text>
<text transform="translate(166.93,498.40)" text-anchor="middle" font-family="Liberation Serif" font-weight="bold" font-size="9" stroke="#000" stroke-width="0.25">F</text>
<text x="191.80" y="579.10" textLength="62.70" lengthAdjust="spacingAndGlyphs" font-family="Liberation Serif" font-size="11" stroke="#000" stroke-width="0.2">a = 11.45 a.u.</text>
<text transform="translate(56.30,505.80)" text-anchor="middle" font-family="Liberation Serif" font-weight="bold" font-size="12.5" stroke="#000" stroke-width="0.35">Z</text>
<text transform="translate(63.80,505.80)" text-anchor="middle" font-family="Liberation Serif" font-weight="bold" font-size="12.5" stroke="#000" stroke-width="0.35">B</text>
<clipPath id="cR3"><rect x="320.9" y="482.5" width="237.00" height="120.85"/></clipPath>
<path d="M382.9,541.4 L383.7,541.3 L384.5,540.2 L385.3,539.1 L386.1,537.8 L386.9,536.8 L387.7,535.5 L388.5,534.3 L389.3,533.5 L390.1,532.1 L390.9,531.5 L391.7,531.2 L392.5,530.4 L393.2,530.6 L394.0,529.1 L395.0,528.3 L395.8,528.0 L396.6,527.5 L397.4,527.0 L398.2,525.9 L399.0,527.6 L399.8,528.3 L400.5,529.2 L401.3,530.7 L402.1,532.6 L402.9,533.1 L403.7,533.4 L404.5,534.6 L405.7,534.8 L406.9,535.5 L408.1,536.0 L409.3,536.2 L410.4,536.0 L411.6,536.7 L412.8,536.1 L414.0,535.8 L415.2,535.3 L416.4,534.6 L417.6,533.0 L418.8,533.1 L419.6,531.2 L420.4,531.0 L421.1,531.4 L421.9,531.5 L422.7,532.8 L423.5,532.3 L424.7,532.9 L425.9,534.6 L426.7,533.8 L427.5,533.1 L428.3,532.0 L429.1,530.7 L429.9,530.6 L430.6,532.3 L431.4,530.7 L432.2,530.7 L433.0,531.9 L433.8,531.5 L434.6,531.7 L435.4,530.4 L436.2,529.3 L437.0,529.1 L437.8,527.7 L438.6,527.5 L439.4,525.9 L440.1,525.9 L440.9,523.6 L441.7,522.8 L442.5,520.2 L443.3,518.8 L444.1,518.3 L444.9,516.4 L445.7,515.3 L446.5,514.1 L447.3,512.6 L448.1,510.9 L449.3,506.9 L450.4,496.6 L451.2,505.4 L452.4,519.6 L453.6,529.1 L455.2,536.2 L456.0,537.5 L456.8,540.2 L457.6,541.2 L458.4,541.4 L463.1,541.4 L472.0,541.4 L479.9,541.4 L480.7,540.5 L481.5,538.6 L482.3,536.4 L483.1,534.6 L483.9,532.9 L484.7,531.4 L485.5,530.1 L486.2,529.1 L487.0,528.1 L487.8,526.7 L489.1,522.7 L490.2,518.8 L491.3,512.5 L492.6,510.1 L493.4,509.0 L494.2,509.3 L495.0,509.6 L495.7,511.6 L497.0,506.9 L498.1,499.0 L499.2,489.5 L500.5,482.4 L501.4,486.3 L502.4,497.4 L503.3,510.1 L504.4,513.2 L505.6,518.0 L506.8,525.9 L508.4,532.2 L509.2,532.9 L510.0,534.6 L510.8,533.7 L511.6,533.0 L513.1,527.5 L514.4,522.7 L515.5,519.6 L516.3,520.3 L517.1,521.9 L517.9,523.3 L518.7,525.1 L519.5,524.8 L520.3,522.7 L521.1,523.9 L521.9,523.5 L522.7,524.8 L523.4,527.5 L524.2,526.8 L525.0,525.1 L525.8,525.3 L526.6,525.9 L527.4,525.2 L528.2,523.5 L529.0,524.5 L529.8,525.1 L530.6,522.7 L531.4,521.9 L532.1,523.5 L532.9,523.5 L533.7,523.6 L534.5,524.3 L535.3,525.8 L536.1,527.5 L536.9,527.5 L537.7,529.1 L538.5,529.4 L539.3,528.3 L540.5,530.3 L541.6,530.6 L542.4,530.6 L543.2,532.2 L544.0,532.1 L544.8,530.6 L545.6,532.4 L546.4,533.8 L547.2,534.6 L548.0,534.6 L549.2,534.2 L550.4,535.4 L551.5,536.3 L552.7,536.2 L553.9,536.9 L555.1,537.8 L556.3,538.3 L557.5,538.6" fill="none" stroke="#0000ff" stroke-width="1.45" stroke-linejoin="round" clip-path="url(#cR3)"/>
<path d="M368.7,543.0 L376.6,543.0 L377.8,543.4 L379.0,545.0 L380.2,547.0 L381.4,548.1 L382.2,550.5 L382.9,551.3 L383.7,553.2 L384.5,555.2 L385.3,556.1 L386.1,558.4 L387.3,559.2 L388.5,560.0 L389.7,560.6 L390.9,561.6 L391.7,559.2 L392.5,557.6 L393.2,555.0 L394.0,553.7 L395.0,553.7 L395.8,551.5 L396.6,550.5 L397.4,550.1 L398.2,548.9 L399.0,547.8 L399.8,547.8 L400.5,546.8 L401.3,547.3 L402.1,547.3 L402.9,548.1 L403.7,549.0 L404.5,549.7 L405.3,550.5 L406.1,551.3 L406.9,552.6 L407.7,552.9 L408.5,555.8 L409.3,557.6 L410.8,562.4 L411.6,562.2 L412.4,561.6 L413.2,564.2 L414.0,565.5 L415.6,570.3 L416.4,571.1 L417.2,571.1 L418.4,575.0 L419.6,587.7 L420.7,584.5 L421.9,576.6 L422.7,574.2 L423.5,573.5 L424.3,571.1 L425.1,568.7 L426.7,562.4 L427.5,559.3 L428.3,557.6 L429.9,549.7 L430.6,547.3 L431.4,545.0 L432.2,543.9 L433.0,544.2 L433.8,544.5 L434.6,545.7 L436.2,552.9 L437.8,562.4 L439.4,571.9 L440.9,581.4 L442.5,590.9 L443.8,606.7 L444.9,606.7 L446.0,594.1 L447.3,568.7 L448.5,549.7 L449.6,547.3 L450.4,554.5 L451.7,562.4 L452.5,563.6 L453.3,563.2 L454.1,564.1 L454.9,564.0 L456.0,558.4 L456.8,556.9 L457.6,554.5 L458.4,554.1 L459.2,553.2 L460.0,554.1 L460.7,553.7 L461.5,553.6 L462.3,554.5 L463.1,555.2 L463.9,554.5 L464.7,552.5 L465.5,552.1 L466.3,551.6 L467.1,552.9 L467.9,552.5 L468.7,551.3 L469.5,552.0 L470.2,552.1 L471.1,552.6 L472.0,552.0 L473.2,553.5 L474.4,554.4 L475.6,553.7 L476.8,552.0 L477.9,551.8 L479.1,551.2 L480.3,552.9 L481.5,553.6 L482.7,552.8 L483.9,551.2 L485.1,550.5 L486.2,550.4 L487.4,551.4 L488.6,552.0 L489.8,552.6 L491.0,553.1 L492.2,553.0 L493.4,552.5 L494.6,552.2 L495.7,552.8 L496.9,552.3 L498.1,553.6 L498.9,553.2 L499.7,554.4 L500.5,555.2 L501.3,555.2 L502.1,555.2 L502.9,556.0 L503.7,554.5 L504.4,552.8 L505.6,551.3 L506.8,550.9 L508.0,550.9 L509.2,549.6 L510.4,549.4 L511.6,548.9 L512.8,549.2 L513.9,548.1 L515.1,547.6 L516.3,547.7 L517.5,547.7 L518.7,547.3 L519.5,547.5 L520.3,548.1 L521.1,548.0 L521.9,546.5 L523.0,545.8 L524.2,546.2 L525.4,546.3 L526.6,545.7 L527.8,546.0 L529.0,544.9 L530.2,545.6 L531.4,544.6 L532.5,544.4 L533.7,544.1 L534.9,544.4 L536.1,543.3 L538.5,543.3 L541.6,543.0 L544.8,543.0 L548.0,543.0 L551.1,543.0 L554.3,543.0 L557.5,543.0" fill="none" stroke="#ff0000" stroke-width="1.45" stroke-linejoin="round" clip-path="url(#cR3)"/>
<line x1="380.60" y1="514.50" x2="380.60" y2="526.50" stroke="#0000ff" stroke-width="1.35"/><path d="M378.30,525.50 L380.60,526.30 L382.90,525.50 L380.60,530.30Z" fill="#0000ff"/>
<line x1="380.60" y1="572.70" x2="380.60" y2="561.00" stroke="#ff0000" stroke-width="1.35"/><path d="M378.30,562.00 L380.60,561.20 L382.90,562.00 L380.60,557.20Z" fill="#ff0000"/>
<line x1="320.9" y1="542.25" x2="557.9" y2="542.25" stroke="#000" stroke-width="1.3"/>
<line x1="463.40" y1="482.5" x2="463.40" y2="603.35" stroke="#000" stroke-width="1.2"/>
<path d="M368.30,603.35v-7.1M368.30,482.5v8.1M368.30,534.10v14.5M415.70,603.35v-7.1M415.70,482.5v8.1M415.70,534.10v14.5M510.50,603.35v-7.1M510.50,482.5v8.1M510.50,534.10v14.5M320.9,591.10h7.2M557.9,591.10h-7.2M320.9,578.90h3.4M557.9,578.90h-3.4M320.9,566.70h7.2M557.9,566.70h-7.2M320.9,554.50h3.4M557.9,554.50h-3.4M320.9,530.30h4M557.9,530.30h-4M320.9,518.40h8M557.9,518.40h-8M320.9,506.35h4M557.9,506.35h-4M320.9,494.30h8M557.9,494.30h-8" stroke="#000" stroke-width="1.2" fill="none"/>
<rect x="320.9" y="482.5" width="237.00" height="120.85" fill="none" stroke="#000" stroke-width="1.3"/>
<text transform="translate(314.40,498.40) scale(1.08,1.0)" text-anchor="middle" font-family="Liberation Serif" font-weight="bold" font-size="12.0" stroke="#000" stroke-width="0.35">4</text>
<text transform="translate(314.40,522.50) scale(1.08,1.0)" text-anchor="middle" font-family="Liberation Serif" font-weight="bold" font-size="12.0" stroke="#000" stroke-width="0.35">2</text>
<text transform="translate(314.40,546.30) scale(1.08,1.0)" text-anchor="middle" font-family="Liberation Serif" font-weight="bold" font-size="12.0" stroke="#000" stroke-width="0.35">0</text>
<text transform="translate(314.40,570.80) scale(1.08,1.0)" text-anchor="middle" font-family="Liberation Serif" font-weight="bold" font-size="12.0" stroke="#000" stroke-width="0.35">2</text>
<text transform="translate(314.40,595.20) scale(1.08,1.0)" text-anchor="middle" font-family="Liberation Serif" font-weight="bold" font-size="12.0" stroke="#000" stroke-width="0.35">4</text>
<text transform="translate(325.90,615.15) scale(1.08,1.0)" text-anchor="middle" font-family="Liberation Serif" font-weight="bold" font-size="12.0" stroke="#000" stroke-width="0.35">6</text>
<rect x="316.10" y="611.25" width="3.2" height="1.5" fill="#000"/>
<text transform="translate(373.30,615.15) scale(1.08,1.0)" text-anchor="middle" font-family="Liberation Serif" font-weight="bold" font-size="12.0" stroke="#000" stroke-width="0.35">4</text>
<rect x="363.50" y="611.25" width="3.2" height="1.5" fill="#000"/>
<text transform="translate(420.70,615.15) scale(1.08,1.0)" text-anchor="middle" font-family="Liberation Serif" font-weight="bold" font-size="12.0" stroke="#000" stroke-width="0.35">2</text>
<rect x="410.90" y="611.25" width="3.2" height="1.5" fill="#000"/>
<text transform="translate(463.10,615.15) scale(1.08,1.0)" text-anchor="middle" font-family="Liberation Serif" font-weight="bold" font-size="12.0" stroke="#000" stroke-width="0.35">0</text>
<text transform="translate(510.50,615.15) scale(1.08,1.0)" text-anchor="middle" font-family="Liberation Serif" font-weight="bold" font-size="12.0" stroke="#000" stroke-width="0.35">2</text>
<text transform="translate(557.90,615.15) scale(1.08,1.0)" text-anchor="middle" font-family="Liberation Serif" font-weight="bold" font-size="12.0" stroke="#000" stroke-width="0.35">4</text>
<text transform="translate(402.20,635.05) scale(1.13,1.0)" text-anchor="middle" font-family="Liberation Serif" font-weight="bold" font-size="14.0" stroke="#000" stroke-width="0.3">e</text>
<text transform="translate(410.60,635.05) scale(1.13,1.0)" text-anchor="middle" font-family="Liberation Serif" font-weight="bold" font-size="14.0" stroke="#000" stroke-width="0.3">n</text>
<text transform="translate(418.80,635.05) scale(1.13,1.0)" text-anchor="middle" font-family="Liberation Serif" font-weight="bold" font-size="14.0" stroke="#000" stroke-width="0.3">e</text>
<text transform="translate(426.40,635.05) scale(1.13,1.0)" text-anchor="middle" font-family="Liberation Serif" font-weight="bold" font-size="14.0" stroke="#000" stroke-width="0.3">r</text>
<text transform="translate(434.60,635.05) scale(1.13,1.0)" text-anchor="middle" font-family="Liberation Serif" font-weight="bold" font-size="14.0" stroke="#000" stroke-width="0.3">g</text>
<text transform="translate(443.00,635.05) scale(1.13,1.0)" text-anchor="middle" font-family="Liberation Serif" font-weight="bold" font-size="14.0" stroke="#000" stroke-width="0.3">y</text>
<text transform="translate(460.80,635.05) scale(1.13,1.0)" text-anchor="middle" font-family="Liberation Serif" font-weight="bold" font-size="14.0" stroke="#000" stroke-width="0.3">(</text>
<text transform="translate(467.90,635.05) scale(1.13,1.0)" text-anchor="middle" font-family="Liberation Serif" font-weight="bold" font-size="14.0" stroke="#000" stroke-width="0.3">e</text>
<text transform="translate(477.40,635.05) scale(1.13,1.0)" text-anchor="middle" font-family="Liberation Serif" font-weight="bold" font-size="14.0" stroke="#000" stroke-width="0.3">V</text>
<text transform="translate(487.20,635.05) scale(1.13,1.0)" text-anchor="middle" font-family="Liberation Serif" font-weight="bold" font-size="14.0" stroke="#000" stroke-width="0.3">)</text>
<text transform="translate(301.70,586.50) rotate(-90) scale(1.13,1.06)" text-anchor="middle" font-family="Liberation Serif" font-weight="bold" font-size="14.0" stroke="#000" stroke-width="0.3">n</text>
<text transform="translate(301.70,577.90) rotate(-90) scale(1.13,1.06)" text-anchor="middle" font-family="Liberation Serif" font-weight="bold" font-size="14.0" stroke="#000" stroke-width="0.3">(</text>
<text transform="translate(301.70,569.30) rotate(-90) scale(1.13,1.06)" text-anchor="middle" font-family="Liberation Serif" font-weight="bold" font-size="14.0" stroke="#000" stroke-width="0.3">E</text>
<text transform="translate(301.70,560.60) rotate(-90) scale(1.13,1.06)" text-anchor="middle" font-family="Liberation Serif" font-weight="bold" font-size="14.0" stroke="#000" stroke-width="0.3">)</text>
<text transform="translate(301.70,544.90) rotate(-90) scale(1.13,1.06)" text-anchor="middle" font-family="Liberation Serif" font-weight="bold" font-size="14.0" stroke="#000" stroke-width="0.3">(</text>
<text transform="translate(301.70,538.20) rotate(-90) scale(1.13,1.06)" text-anchor="middle" font-family="Liberation Serif" font-weight="bold" font-size="14.0" stroke="#000" stroke-width="0.3">s</text>
<text transform="translate(301.70,530.50) rotate(-90) scale(1.13,1.06)" text-anchor="middle" font-family="Liberation Serif" font-weight="bold" font-size="14.0" stroke="#000" stroke-width="0.3">t</text>
<text transform="translate(301.70,522.20) rotate(-90) scale(1.13,1.06)" text-anchor="middle" font-family="Liberation Serif" font-weight="bold" font-size="14.0" stroke="#000" stroke-width="0.3">s</text>
<text transform="translate(301.70,514.90) rotate(-90) scale(1.13,1.06)" text-anchor="middle" font-family="Liberation Serif" font-weight="bold" font-size="14.0" stroke="#000" stroke-width="0.3">.</text>
<text transform="translate(301.70,506.80) rotate(-90) scale(1.13,1.06)" text-anchor="middle" font-family="Liberation Serif" font-weight="bold" font-size="14.0" stroke="#000" stroke-width="0.3">/</text>
<text transform="translate(301.70,496.30) rotate(-90) scale(1.13,1.06)" text-anchor="middle" font-family="Liberation Serif" font-weight="bold" font-size="14.0" stroke="#000" stroke-width="0.3">e</text>
<text transform="translate(301.70,486.80) rotate(-90) scale(1.13,1.06)" text-anchor="middle" font-family="Liberation Serif" font-weight="bold" font-size="14.0" stroke="#000" stroke-width="0.3">V</text>
<text transform="translate(301.70,477.50) rotate(-90) scale(1.13,1.06)" text-anchor="middle" font-family="Liberation Serif" font-weight="bold" font-size="14.0" stroke="#000" stroke-width="0.3">)</text>
<text transform="translate(449.70,493.70)" text-anchor="middle" font-family="Liberation Serif" font-weight="bold" font-size="12" stroke="#000" stroke-width="0.3">E</text>
<text transform="translate(457.30,498.40)" text-anchor="middle" font-family="Liberation Serif" font-weight="bold" font-size="9" stroke="#000" stroke-width="0.25">F</text>
<text x="481.10" y="580.40" textLength="62.60" lengthAdjust="spacingAndGlyphs" font-family="Liberation Serif" font-size="11" stroke="#000" stroke-width="0.2">a = 11.45 a.u.</text>
<text transform="translate(339.50,502.60)" text-anchor="middle" font-family="Liberation Serif" font-weight="bold" font-size="12.5" stroke="#000" stroke-width="0.35">w</text>
<text transform="translate(346.10,502.60)" text-anchor="middle" font-family="Liberation Serif" font-weight="bold" font-size="12.5" stroke="#000" stroke-width="0.35">u</text>
<text transform="translate(350.90,502.60)" text-anchor="middle" font-family="Liberation Serif" font-weight="bold" font-size="12.5" stroke="#000" stroke-width="0.35">r</text>
<text transform="translate(357.80,502.60) scale(1.1,1.0)" text-anchor="middle" font-family="Liberation Serif" font-weight="bold" font-size="12.5" stroke="#000" stroke-width="0.35">t</text>
<text transform="translate(365.60,502.60) scale(1.1,1.0)" text-anchor="middle" font-family="Liberation Serif" font-weight="bold" font-size="12.5" stroke="#000" stroke-width="0.35">z</text>
<text transform="translate(371.60,502.60)" text-anchor="middle" font-family="Liberation Serif" font-weight="bold" font-size="12.5" stroke="#000" stroke-width="0.35">i</text>
<text transform="translate(378.70,502.60) scale(1.1,1.0)" text-anchor="middle" font-family="Liberation Serif" font-weight="bold" font-size="12.5" stroke="#000" stroke-width="0.35">t</text>
<text transform="translate(386.30,502.60) scale(1.1,1.0)" text-anchor="middle" font-family="Liberation Serif" font-weight="bold" font-size="12.5" stroke="#000" stroke-width="0.35">e</text>
<clipPath id="cL4"><rect x="30.5" y="640.8" width="237.05" height="120.85"/></clipPath>
<path d="M98.1,699.6 L98.9,699.4 L99.7,698.2 L100.5,697.9 L101.3,695.8 L102.1,694.7 L102.9,693.5 L103.7,692.6 L104.5,691.9 L105.0,688.7 L106.2,688.2 L107.4,687.1 L108.6,686.9 L109.8,685.5 L110.9,684.3 L112.1,684.7 L113.3,685.0 L114.5,686.3 L115.7,688.1 L116.9,688.7 L118.1,690.4 L119.3,691.9 L120.4,692.0 L121.6,693.5 L122.8,694.4 L124.0,694.2 L125.2,694.1 L126.4,694.2 L127.6,694.2 L128.8,693.5 L129.9,692.1 L131.1,691.9 L132.3,691.3 L133.5,690.3 L134.7,690.1 L135.9,689.5 L137.1,690.2 L138.3,690.3 L139.5,689.8 L140.6,691.1 L141.8,690.5 L143.0,689.5 L144.2,689.6 L145.4,688.7 L146.6,687.1 L147.8,687.1 L149.0,686.6 L150.2,685.5 L151.3,685.9 L152.5,684.7 L153.3,685.2 L154.1,683.9 L154.9,684.2 L155.7,683.1 L156.5,683.7 L157.3,683.9 L158.1,684.0 L158.9,684.7 L159.7,685.5 L160.4,685.5 L161.2,683.7 L162.0,682.4 L163.6,672.9 L165.2,666.5 L166.5,667.3 L167.6,672.9 L168.4,680.8 L169.2,685.5 L169.9,691.9 L171.2,698.2 L172.3,699.5 L185.0,699.6 L191.3,698.9 L192.5,698.4 L193.7,697.4 L194.9,694.9 L196.1,693.4 L197.3,689.7 L198.4,687.1 L199.6,683.4 L200.8,680.7 L202.4,676.0 L203.2,675.6 L204.0,676.0 L204.8,677.8 L205.6,680.0 L206.4,679.0 L207.2,677.6 L207.9,675.7 L208.7,674.4 L209.5,672.8 L210.3,672.8 L211.6,661.7 L212.7,647.5 L213.5,638.0 L214.7,638.0 L215.9,638.0 L216.7,650.7 L217.4,660.2 L218.6,669.7 L219.8,682.3 L221.1,688.6 L221.9,689.9 L222.7,691.8 L223.5,691.9 L224.3,692.6 L225.1,691.1 L225.8,688.6 L226.9,683.9 L228.1,676.0 L229.3,674.4 L230.1,677.6 L230.9,679.1 L231.7,677.9 L232.5,678.4 L233.3,679.9 L234.1,680.0 L234.9,680.0 L235.7,680.7 L236.4,681.0 L237.2,681.5 L238.4,682.9 L239.6,683.1 L240.8,684.5 L242.0,684.7 L243.2,685.2 L244.4,686.3 L245.5,687.2 L246.7,688.6 L247.9,689.6 L249.1,690.2 L250.3,691.1 L251.5,691.8 L252.7,693.0 L253.8,692.6 L255.0,693.9 L256.2,693.4 L257.3,693.4 L258.3,694.4 L259.4,694.2 L260.4,693.9 L261.5,694.4 L262.6,695.0 L263.6,693.9 L264.7,693.9 L265.7,694.2 L266.5,694.9 L267.3,695.8" fill="none" stroke="#0000ff" stroke-width="1.05" stroke-dasharray="4,2.2" stroke-linejoin="round" clip-path="url(#cL4)"/>
<path d="M91.0,701.3 L91.8,701.2 L92.6,702.2 L93.4,702.7 L94.2,703.0 L94.9,704.4 L95.7,704.5 L96.5,706.5 L97.3,707.7 L98.1,708.5 L98.9,710.1 L99.7,711.4 L100.5,712.5 L102.1,717.2 L102.9,718.4 L103.7,721.2 L104.5,718.8 L105.0,710.9 L106.2,710.8 L107.4,712.5 L108.6,710.7 L109.8,709.3 L110.5,708.0 L111.3,707.7 L112.5,707.3 L113.7,708.5 L114.9,708.8 L116.1,707.7 L116.9,708.2 L117.7,710.1 L118.5,708.9 L119.3,707.7 L120.1,709.9 L120.8,710.9 L122.0,711.4 L123.2,712.5 L124.8,717.2 L125.6,719.7 L126.4,722.0 L127.2,723.1 L128.0,725.1 L128.8,725.1 L129.6,726.7 L130.3,728.2 L131.1,728.3 L131.9,727.1 L132.7,726.7 L133.5,724.9 L134.3,724.3 L135.1,725.3 L135.9,726.7 L136.7,727.0 L137.5,728.3 L138.3,727.3 L139.1,726.7 L140.6,720.4 L142.2,712.5 L143.8,707.7 L144.6,707.4 L145.4,706.1 L146.2,707.0 L147.0,707.7 L148.6,714.0 L149.8,726.7 L150.9,739.4 L152.2,748.9 L153.3,755.2 L154.4,760.0 L155.4,752.1 L156.0,726.7 L157.0,714.0 L158.1,717.2 L158.9,729.9 L159.7,755.2 L160.4,736.2 L161.2,726.7 L162.8,720.4 L163.6,719.1 L164.4,717.2 L165.2,715.3 L166.0,714.0 L166.8,713.4 L167.6,712.5 L168.4,712.2 L169.2,712.8 L170.3,712.6 L171.5,712.5 L172.6,713.2 L173.6,712.7 L174.7,712.1 L175.8,711.2 L176.8,712.6 L177.9,711.7 L178.9,712.8 L180.0,712.7 L181.0,712.5 L182.4,712.3 L183.7,712.8 L185.0,712.4 L186.1,711.6 L187.1,712.2 L188.2,711.1 L189.2,711.2 L190.3,711.4 L191.3,712.1 L192.4,711.8 L193.4,711.6 L194.5,710.5 L195.6,711.3 L196.6,711.2 L197.7,710.8 L198.7,710.6 L199.8,709.7 L200.8,710.0 L201.9,709.0 L202.9,709.2 L204.0,709.5 L205.0,709.3 L206.1,709.6 L207.2,708.9 L208.2,708.9 L209.3,708.3 L210.3,708.4 L211.4,708.8 L212.4,708.6 L213.5,708.0 L214.5,708.6 L215.6,706.9 L216.7,707.3 L217.7,707.6 L218.8,707.3 L219.8,706.4 L220.9,706.3 L221.9,706.3 L223.0,705.8 L224.0,705.6 L225.1,706.2 L226.2,706.9 L227.2,707.4 L228.3,706.1 L229.3,706.4 L230.4,706.3 L231.4,705.2 L232.5,705.3 L233.5,705.3 L234.6,704.1 L235.7,704.5 L236.7,703.7 L237.8,703.8 L238.8,703.7 L239.9,703.4 L240.9,703.7 L242.0,704.2 L243.0,704.4 L244.1,703.6 L245.2,702.9 L246.2,702.1 L247.3,703.0 L248.3,702.1 L249.4,701.9 L250.4,701.4 L251.5,701.6 L254.7,701.3 L257.8,701.3 L261.0,701.3 L264.1,701.3 L265.2,702.2 L266.3,702.1 L267.3,702.1" fill="none" stroke="#ff0000" stroke-width="1.05" stroke-dasharray="4,2.2" stroke-linejoin="round" clip-path="url(#cL4)"/>
<path d="M107.4,699.5 L108.6,697.5 L109.8,696.6 L110.9,694.2 L112.1,690.3 L113.3,686.3 L114.5,683.9 L115.3,682.7 L116.1,680.0 L117.4,678.4 L118.5,680.0 L120.0,685.5 L121.6,691.1 L122.4,691.8 L123.2,693.5 L124.0,693.9 L124.8,694.2 L126.0,694.1 L127.2,695.0 L128.4,695.0 L129.6,695.4 L130.7,694.3 L131.9,693.5 L133.1,692.0 L134.3,691.9 L135.1,690.2 L135.9,690.3 L137.1,690.4 L138.3,691.1 L139.5,690.6 L140.6,690.3 L141.8,690.0 L143.0,691.1 L144.2,690.2 L145.4,689.5 L146.6,688.9 L147.8,688.7 L149.0,689.2 L150.2,687.9 L151.3,686.4 L152.5,686.3 L153.3,684.6 L154.1,683.9 L155.7,677.6 L157.0,669.7 L158.1,658.6 L158.9,653.8 L159.7,660.2 L160.8,661.8 L162.0,660.2 L162.8,668.1 L163.6,682.4 L164.4,693.5 L165.2,698.2 L166.0,698.1 L166.8,699.5 L171.5,699.6 L185.0,699.6 L199.2,699.4 L200.8,693.4 L202.4,685.5 L204.0,680.0 L204.8,679.1 L205.6,677.6 L206.4,677.1 L207.2,676.0 L207.9,674.9 L208.7,673.6 L209.5,672.3 L210.3,669.7 L211.6,661.7 L212.7,647.5 L213.5,638.0 L214.3,638.1 L215.1,638.0 L216.7,647.5 L217.4,661.7 L218.2,674.4 L219.8,685.5 L220.6,687.5 L221.4,690.2 L222.2,690.7 L223.0,692.6 L223.8,692.3 L224.6,693.4 L225.8,690.2 L226.9,682.3 L228.1,669.7 L229.0,665.7 L230.1,669.7 L230.9,670.1 L231.7,668.9 L232.5,669.4 L233.3,671.2 L234.1,671.3 L234.9,669.7 L236.4,674.4 L237.2,676.8 L238.0,677.6 L238.8,677.5 L239.6,679.1 L240.4,680.3 L241.2,680.7 L242.0,681.0 L242.8,683.1 L243.6,683.6 L244.4,685.5 L245.2,686.5 L245.9,686.3 L246.7,687.4 L247.5,687.9 L248.3,689.5 L249.1,690.2 L249.9,690.4 L250.7,691.8 L251.5,691.7 L252.3,692.6 L253.1,692.4 L253.8,691.8 L254.6,692.4 L255.4,694.2 L256.2,694.1 L257.0,695.0 L257.8,694.8 L258.6,695.8 L259.4,695.8 L260.2,696.6 L261.4,697.4 L262.6,697.4 L263.7,698.3 L264.9,698.1 L266.1,698.5 L267.3,698.9" fill="none" stroke="#0000ff" stroke-width="1.45" stroke-linejoin="round" clip-path="url(#cL4)"/>
<path d="M91.8,701.3 L100.5,701.3 L101.3,701.0 L102.1,702.2 L102.9,702.9 L103.7,704.5 L105.0,707.7 L105.8,709.3 L106.6,710.9 L108.2,718.8 L109.8,725.1 L110.5,728.1 L111.3,729.9 L112.1,728.5 L112.9,726.7 L114.5,720.4 L116.1,714.0 L117.7,709.3 L118.5,708.5 L119.3,706.9 L120.1,707.7 L120.8,707.7 L121.6,708.1 L122.4,706.9 L123.2,707.9 L124.0,709.3 L125.6,714.0 L126.4,716.8 L127.2,718.8 L128.8,723.5 L130.3,729.9 L131.9,737.8 L133.5,747.3 L134.8,764.7 L135.9,752.1 L136.7,741.0 L138.3,731.5 L139.8,725.1 L141.4,717.2 L143.0,709.3 L144.6,704.5 L145.4,703.6 L146.2,703.7 L147.0,704.8 L147.8,705.3 L149.0,712.5 L150.2,729.9 L150.9,748.9 L151.7,764.7 L152.5,763.9 L153.3,764.7 L154.4,748.9 L155.4,726.7 L156.5,710.9 L157.6,712.5 L158.9,720.4 L160.1,729.9 L161.2,725.1 L162.8,720.4 L163.6,718.5 L164.4,716.4 L165.2,715.5 L166.0,714.0 L166.8,713.3 L167.6,713.2 L168.4,712.3 L169.2,712.5 L169.9,712.3 L170.7,711.2 L171.5,712.7 L172.3,712.5 L173.5,711.7 L174.7,711.7 L175.9,710.8 L177.1,710.9 L178.3,711.7 L179.5,712.1 L180.6,711.6 L181.8,712.8 L182.9,713.4 L183.9,714.6 L185.0,715.6 L186.2,714.6 L187.4,714.0 L188.6,712.7 L189.8,712.4 L190.9,712.4 L192.1,713.7 L193.3,712.6 L194.5,711.6 L195.7,711.8 L196.9,712.4 L198.1,711.9 L199.2,711.1 L200.4,711.3 L201.6,711.6 L202.8,710.8 L204.0,710.5 L205.2,711.0 L206.4,710.0 L207.6,709.5 L208.7,709.2 L209.9,708.3 L211.1,708.9 L212.3,708.7 L213.5,708.4 L214.7,708.1 L215.9,707.6 L217.1,707.9 L218.2,706.9 L219.4,705.7 L220.6,705.3 L221.8,705.8 L223.0,704.8 L224.2,704.4 L225.4,704.2 L226.6,703.4 L227.7,703.7 L228.9,703.6 L230.1,703.2 L231.3,703.6 L232.5,702.9 L233.5,703.2 L234.6,702.4 L235.7,702.6 L236.7,702.7 L237.8,702.8 L238.8,702.1 L239.9,702.1 L240.9,701.4 L242.0,701.6 L245.2,701.3 L248.3,701.3 L251.5,701.3 L254.7,701.3 L257.8,701.3 L261.0,701.3 L264.1,701.6 L264.9,702.2 L265.7,702.9 L266.5,703.2 L267.3,704.5" fill="none" stroke="#ff0000" stroke-width="1.45" stroke-linejoin="round" clip-path="url(#cL4)"/>
<line x1="93.05" y1="672.90" x2="93.05" y2="685.30" stroke="#0000ff" stroke-width="1.35"/><path d="M90.75,684.30 L93.05,685.10 L95.35,684.30 L93.05,689.10Z" fill="#0000ff"/>
<line x1="93.05" y1="731.20" x2="93.05" y2="719.00" stroke="#ff0000" stroke-width="1.35"/><path d="M90.75,720.00 L93.05,719.20 L95.35,720.00 L93.05,715.20Z" fill="#ff0000"/>
<line x1="30.5" y1="700.55" x2="267.55" y2="700.55" stroke="#000" stroke-width="1.3"/>
<line x1="173.03" y1="640.8" x2="173.03" y2="761.65" stroke="#404040" stroke-width="1.6"/>
<path d="M77.91,761.65v-7.1M77.91,640.8v8.1M77.91,692.40v14.5M125.32,761.65v-7.1M125.32,640.8v8.1M125.32,692.40v14.5M220.14,761.65v-7.1M220.14,640.8v8.1M220.14,692.40v14.5M30.5,749.40h7.2M267.55,749.40h-7.2M30.5,737.20h3.4M267.55,737.20h-3.4M30.5,725.00h7.2M267.55,725.00h-7.2M30.5,712.80h3.4M267.55,712.80h-3.4M30.5,688.60h4M267.55,688.60h-4M30.5,676.70h8M267.55,676.70h-8M30.5,664.65h4M267.55,664.65h-4M30.5,652.60h8M267.55,652.60h-8" stroke="#000" stroke-width="1.2" fill="none"/>
<rect x="30.5" y="640.8" width="237.05" height="120.85" fill="none" stroke="#000" stroke-width="1.3"/>
<text transform="translate(24.00,656.70) scale(1.08,1.0)" text-anchor="middle" font-family="Liberation Serif" font-weight="bold" font-size="12.0" stroke="#000" stroke-width="0.35">4</text>
<text transform="translate(24.00,680.80) scale(1.08,1.0)" text-anchor="middle" font-family="Liberation Serif" font-weight="bold" font-size="12.0" stroke="#000" stroke-width="0.35">2</text>
<text transform="translate(24.00,704.60) scale(1.08,1.0)" text-anchor="middle" font-family="Liberation Serif" font-weight="bold" font-size="12.0" stroke="#000" stroke-width="0.35">0</text>
<text transform="translate(24.00,729.10) scale(1.08,1.0)" text-anchor="middle" font-family="Liberation Serif" font-weight="bold" font-size="12.0" stroke="#000" stroke-width="0.35">2</text>
<text transform="translate(24.00,753.50) scale(1.08,1.0)" text-anchor="middle" font-family="Liberation Serif" font-weight="bold" font-size="12.0" stroke="#000" stroke-width="0.35">4</text>
<text transform="translate(35.50,773.45) scale(1.08,1.0)" text-anchor="middle" font-family="Liberation Serif" font-weight="bold" font-size="12.0" stroke="#000" stroke-width="0.35">6</text>
<rect x="25.70" y="769.55" width="3.2" height="1.5" fill="#000"/>
<text transform="translate(82.91,773.45) scale(1.08,1.0)" text-anchor="middle" font-family="Liberation Serif" font-weight="bold" font-size="12.0" stroke="#000" stroke-width="0.35">4</text>
<rect x="73.11" y="769.55" width="3.2" height="1.5" fill="#000"/>
<text transform="translate(130.32,773.45) scale(1.08,1.0)" text-anchor="middle" font-family="Liberation Serif" font-weight="bold" font-size="12.0" stroke="#000" stroke-width="0.35">2</text>
<rect x="120.52" y="769.55" width="3.2" height="1.5" fill="#000"/>
<text transform="translate(172.73,773.45) scale(1.08,1.0)" text-anchor="middle" font-family="Liberation Serif" font-weight="bold" font-size="12.0" stroke="#000" stroke-width="0.35">0</text>
<text transform="translate(220.14,773.45) scale(1.08,1.0)" text-anchor="middle" font-family="Liberation Serif" font-weight="bold" font-size="12.0" stroke="#000" stroke-width="0.35">2</text>
<text transform="translate(267.55,773.45) scale(1.08,1.0)" text-anchor="middle" font-family="Liberation Serif" font-weight="bold" font-size="12.0" stroke="#000" stroke-width="0.35">4</text>
<text transform="translate(112.60,792.55) scale(1.13,1.0)" text-anchor="middle" font-family="Liberation Serif" font-weight="bold" font-size="14.0" stroke="#000" stroke-width="0.3">e</text>
<text transform="translate(121.00,792.55) scale(1.13,1.0)" text-anchor="middle" font-family="Liberation Serif" font-weight="bold" font-size="14.0" stroke="#000" stroke-width="0.3">n</text>
<text transform="translate(129.20,792.55) scale(1.13,1.0)" text-anchor="middle" font-family="Liberation Serif" font-weight="bold" font-size="14.0" stroke="#000" stroke-width="0.3">e</text>
<text transform="translate(136.80,792.55) scale(1.13,1.0)" text-anchor="middle" font-family="Liberation Serif" font-weight="bold" font-size="14.0" stroke="#000" stroke-width="0.3">r</text>
<text transform="translate(145.00,792.55) scale(1.13,1.0)" text-anchor="middle" font-family="Liberation Serif" font-weight="bold" font-size="14.0" stroke="#000" stroke-width="0.3">g</text>
<text transform="translate(153.40,792.55) scale(1.13,1.0)" text-anchor="middle" font-family="Liberation Serif" font-weight="bold" font-size="14.0" stroke="#000" stroke-width="0.3">y</text>
<text transform="translate(169.10,792.55) scale(1.13,1.0)" text-anchor="middle" font-family="Liberation Serif" font-weight="bold" font-size="14.0" stroke="#000" stroke-width="0.3">(</text>
<text transform="translate(177.90,792.55) scale(1.13,1.0)" text-anchor="middle" font-family="Liberation Serif" font-weight="bold" font-size="14.0" stroke="#000" stroke-width="0.3">e</text>
<text transform="translate(187.00,792.55) scale(1.13,1.0)" text-anchor="middle" font-family="Liberation Serif" font-weight="bold" font-size="14.0" stroke="#000" stroke-width="0.3">V</text>
<text transform="translate(196.20,792.55) scale(1.13,1.0)" text-anchor="middle" font-family="Liberation Serif" font-weight="bold" font-size="14.0" stroke="#000" stroke-width="0.3">)</text>
<text transform="translate(10.60,742.80) rotate(-90) scale(1.13,1.06)" text-anchor="middle" font-family="Liberation Serif" font-weight="bold" font-size="14.0" stroke="#000" stroke-width="0.3">n</text>
<text transform="translate(10.60,734.70) rotate(-90) scale(1.13,1.06)" text-anchor="middle" font-family="Liberation Serif" font-weight="bold" font-size="14.0" stroke="#000" stroke-width="0.3">(</text>
<text transform="translate(10.60,725.90) rotate(-90) scale(1.13,1.06)" text-anchor="middle" font-family="Liberation Serif" font-weight="bold" font-size="14.0" stroke="#000" stroke-width="0.3">E</text>
<text transform="translate(10.60,718.30) rotate(-90) scale(1.13,1.06)" text-anchor="middle" font-family="Liberation Serif" font-weight="bold" font-size="14.0" stroke="#000" stroke-width="0.3">)</text>
<text transform="translate(10.60,704.60) rotate(-90) scale(1.13,1.06)" text-anchor="middle" font-family="Liberation Serif" font-weight="bold" font-size="14.0" stroke="#000" stroke-width="0.3">(</text>
<text transform="translate(10.60,695.95) rotate(-90) scale(1.13,1.06)" text-anchor="middle" font-family="Liberation Serif" font-weight="bold" font-size="14.0" stroke="#000" stroke-width="0.3">s</text>
<text transform="translate(10.60,688.30) rotate(-90) scale(1.13,1.06)" text-anchor="middle" font-family="Liberation Serif" font-weight="bold" font-size="14.0" stroke="#000" stroke-width="0.3">t</text>
<text transform="translate(10.60,680.60) rotate(-90) scale(1.13,1.06)" text-anchor="middle" font-family="Liberation Serif" font-weight="bold" font-size="14.0" stroke="#000" stroke-width="0.3">s</text>
<text transform="translate(10.60,673.10) rotate(-90) scale(1.13,1.06)" text-anchor="middle" font-family="Liberation Serif" font-weight="bold" font-size="14.0" stroke="#000" stroke-width="0.3">.</text>
<text transform="translate(10.60,664.10) rotate(-90) scale(1.13,1.06)" text-anchor="middle" font-family="Liberation Serif" font-weight="bold" font-size="14.0" stroke="#000" stroke-width="0.3">/</text>
<text transform="translate(10.60,654.70) rotate(-90) scale(1.13,1.06)" text-anchor="middle" font-family="Liberation Serif" font-weight="bold" font-size="14.0" stroke="#000" stroke-width="0.3">e</text>
<text transform="translate(10.60,645.50) rotate(-90) scale(1.13,1.06)" text-anchor="middle" font-family="Liberation Serif" font-weight="bold" font-size="14.0" stroke="#000" stroke-width="0.3">V</text>
<text transform="translate(10.60,636.10) rotate(-90) scale(1.13,1.06)" text-anchor="middle" font-family="Liberation Serif" font-weight="bold" font-size="14.0" stroke="#000" stroke-width="0.3">)</text>
<text transform="translate(159.33,652.00)" text-anchor="middle" font-family="Liberation Serif" font-weight="bold" font-size="12" stroke="#000" stroke-width="0.3">E</text>
<text transform="translate(166.93,656.70)" text-anchor="middle" font-family="Liberation Serif" font-weight="bold" font-size="9" stroke="#000" stroke-width="0.25">F</text>
<text x="191.10" y="737.10" textLength="61.90" lengthAdjust="spacingAndGlyphs" font-family="Liberation Serif" font-size="11" stroke="#000" stroke-width="0.2">a = 12.25 a.u.</text>
<text transform="translate(56.60,664.50)" text-anchor="middle" font-family="Liberation Serif" font-weight="bold" font-size="12.5" stroke="#000" stroke-width="0.35">Z</text>
<text transform="translate(64.10,664.50)" text-anchor="middle" font-family="Liberation Serif" font-weight="bold" font-size="12.5" stroke="#000" stroke-width="0.35">B</text>
<clipPath id="cR4"><rect x="320.9" y="640.8" width="237.00" height="120.85"/></clipPath>
<path d="M392.0,699.5 L402.1,699.5 L402.9,698.9 L403.7,697.4 L404.5,696.0 L405.3,693.5 L406.1,691.5 L406.9,689.5 L407.7,687.5 L408.5,686.3 L409.3,684.4 L410.1,683.9 L410.8,684.2 L411.6,683.1 L412.4,682.2 L413.2,681.6 L414.3,680.5 L415.6,683.1 L417.2,688.7 L418.0,690.8 L418.8,691.9 L419.6,692.4 L420.4,694.2 L421.1,695.4 L421.9,695.8 L422.7,695.0 L423.5,694.7 L424.3,693.6 L425.1,693.5 L425.9,694.2 L426.7,693.8 L427.5,692.7 L428.3,692.6 L429.5,694.2 L430.6,691.9 L431.4,691.0 L432.2,690.3 L433.0,690.2 L433.8,689.5 L434.6,690.0 L435.4,691.9 L436.2,691.3 L437.0,689.5 L437.8,689.9 L438.6,688.7 L439.4,687.8 L440.1,687.1 L441.3,685.5 L442.2,688.7 L443.3,687.9 L444.1,686.9 L444.9,687.1 L445.7,686.4 L446.5,686.3 L447.3,685.7 L448.1,684.7 L448.9,683.6 L449.6,680.8 L450.4,678.5 L451.2,676.0 L452.4,672.9 L453.1,672.0 L453.9,672.1 L455.2,674.4 L456.5,668.1 L457.6,660.2 L458.7,656.2 L459.6,661.8 L460.7,677.6 L461.9,691.9 L462.8,699.0 L463.9,699.6 L472.0,699.6 L492.6,699.4 L493.4,698.7 L494.2,696.6 L495.7,690.2 L497.3,685.5 L498.1,684.3 L498.9,682.3 L499.7,679.8 L500.5,678.4 L501.8,669.6 L502.9,660.2 L503.7,658.4 L504.4,657.8 L505.6,655.4 L506.5,647.5 L507.6,638.0 L508.4,638.8 L509.2,638.0 L510.3,647.5 L511.2,661.7 L512.4,665.7 L513.5,672.8 L514.4,688.6 L515.5,690.2 L516.3,691.4 L517.1,691.0 L518.2,688.6 L519.2,677.6 L520.3,670.5 L521.4,672.0 L522.6,676.0 L523.9,673.6 L525.0,676.0 L525.8,676.5 L526.6,678.4 L527.7,674.4 L529.0,676.0 L530.2,673.6 L531.4,675.2 L532.1,674.2 L532.9,672.0 L534.0,677.6 L535.3,679.9 L536.1,680.4 L536.9,682.3 L537.7,683.3 L538.5,683.9 L539.3,685.9 L540.1,686.3 L540.8,686.6 L541.6,688.6 L542.4,689.5 L543.2,690.2 L544.0,690.6 L544.8,691.8 L545.6,692.4 L546.4,693.4 L547.6,693.9 L548.8,695.0 L550.0,695.0 L551.1,696.2 L552.3,696.5 L553.5,697.4 L554.7,697.1 L555.9,698.1 L556.7,698.6 L557.5,698.5" fill="none" stroke="#0000ff" stroke-width="1.45" stroke-linejoin="round" clip-path="url(#cR4)"/>
<path d="M388.5,701.4 L396.6,701.4 L397.4,701.9 L398.2,703.0 L399.0,703.4 L399.8,705.3 L400.5,707.6 L401.3,708.5 L402.1,711.2 L402.9,712.5 L404.5,717.2 L405.3,719.6 L406.1,720.4 L406.9,722.3 L407.7,723.5 L408.5,726.7 L410.1,722.0 L411.6,717.2 L412.4,715.0 L413.2,712.5 L414.0,710.6 L414.8,709.3 L415.6,708.3 L416.4,707.7 L417.2,707.6 L418.0,706.9 L418.8,706.9 L419.6,707.7 L420.3,709.0 L421.1,710.1 L421.9,711.9 L422.7,714.0 L424.3,722.0 L425.9,731.5 L427.0,739.4 L427.9,742.5 L428.6,741.0 L429.5,752.1 L430.2,764.7 L431.1,755.2 L432.2,747.3 L433.8,736.2 L435.4,723.5 L437.0,712.5 L438.6,706.1 L439.4,704.8 L440.1,704.5 L440.9,704.7 L441.7,705.3 L442.5,709.3 L443.3,723.5 L444.4,739.4 L445.4,755.2 L446.0,764.7 L447.2,765.2 L448.4,765.2 L449.6,764.7 L450.4,741.0 L451.2,717.2 L452.0,709.3 L453.3,712.5 L454.4,720.4 L456.0,726.7 L457.6,720.4 L458.4,719.1 L459.2,717.2 L459.9,723.5 L461.2,715.6 L462.3,717.2 L463.4,714.8 L464.5,713.0 L465.5,712.5 L466.3,710.8 L467.1,710.9 L467.9,710.2 L468.7,710.1 L469.5,712.9 L470.2,714.0 L471.0,713.8 L471.8,712.5 L472.0,715.5 L472.8,714.4 L473.6,712.4 L474.4,712.1 L475.2,711.1 L476.0,711.7 L476.8,713.2 L477.5,712.7 L478.3,712.1 L479.5,711.0 L480.7,710.8 L481.9,710.9 L483.1,712.4 L483.9,711.4 L484.7,709.2 L485.5,710.1 L486.2,712.4 L487.4,712.3 L488.6,712.1 L489.8,713.2 L491.0,713.2 L492.2,713.9 L493.4,714.0 L494.6,714.9 L495.7,714.8 L496.9,716.6 L498.1,717.1 L498.9,715.3 L499.7,714.8 L500.5,712.0 L501.3,710.8 L502.5,711.3 L503.6,710.0 L504.8,708.5 L506.0,708.4 L507.2,708.8 L508.4,707.6 L509.6,706.2 L510.8,706.4 L512.0,705.4 L513.1,705.7 L514.3,704.7 L515.5,704.5 L516.7,704.4 L517.9,704.2 L519.1,703.0 L520.3,702.9 L521.5,702.8 L522.6,702.6 L523.8,702.9 L525.0,702.1 L526.2,701.9 L527.4,701.6 L529.8,701.3 L532.1,701.3 L535.3,701.3 L538.5,701.3 L541.6,701.3 L544.8,701.3 L548.0,701.3 L551.1,701.3 L554.3,701.3 L557.5,701.3" fill="none" stroke="#ff0000" stroke-width="1.45" stroke-linejoin="round" clip-path="url(#cR4)"/>
<line x1="395.90" y1="668.10" x2="395.90" y2="680.50" stroke="#0000ff" stroke-width="1.35"/><path d="M393.60,679.50 L395.90,680.30 L398.20,679.50 L395.90,684.30Z" fill="#0000ff"/>
<line x1="395.10" y1="732.70" x2="395.10" y2="720.60" stroke="#ff0000" stroke-width="1.35"/><path d="M392.80,721.60 L395.10,720.80 L397.40,721.60 L395.10,716.80Z" fill="#ff0000"/>
<line x1="320.9" y1="700.55" x2="557.9" y2="700.55" stroke="#000" stroke-width="1.3"/>
<line x1="463.40" y1="640.8" x2="463.40" y2="761.65" stroke="#000" stroke-width="1.2"/>
<path d="M368.30,761.65v-7.1M368.30,640.8v8.1M368.30,692.40v14.5M415.70,761.65v-7.1M415.70,640.8v8.1M415.70,692.40v14.5M510.50,761.65v-7.1M510.50,640.8v8.1M510.50,692.40v14.5M320.9,749.40h7.2M557.9,749.40h-7.2M320.9,737.20h3.4M557.9,737.20h-3.4M320.9,725.00h7.2M557.9,725.00h-7.2M320.9,712.80h3.4M557.9,712.80h-3.4M320.9,688.60h4M557.9,688.60h-4M320.9,676.70h8M557.9,676.70h-8M320.9,664.65h4M557.9,664.65h-4M320.9,652.60h8M557.9,652.60h-8" stroke="#000" stroke-width="1.2" fill="none"/>
<rect x="320.9" y="640.8" width="237.00" height="120.85" fill="none" stroke="#000" stroke-width="1.3"/>
<text transform="translate(314.40,656.70) scale(1.08,1.0)" text-anchor="middle" font-family="Liberation Serif" font-weight="bold" font-size="12.0" stroke="#000" stroke-width="0.35">4</text>
<text transform="translate(314.40,680.80) scale(1.08,1.0)" text-anchor="middle" font-family="Liberation Serif" font-weight="bold" font-size="12.0" stroke="#000" stroke-width="0.35">2</text>
<text transform="translate(314.40,704.60) scale(1.08,1.0)" text-anchor="middle" font-family="Liberation Serif" font-weight="bold" font-size="12.0" stroke="#000" stroke-width="0.35">0</text>
<text transform="translate(314.40,729.10) scale(1.08,1.0)" text-anchor="middle" font-family="Liberation Serif" font-weight="bold" font-size="12.0" stroke="#000" stroke-width="0.35">2</text>
<text transform="translate(314.40,753.50) scale(1.08,1.0)" text-anchor="middle" font-family="Liberation Serif" font-weight="bold" font-size="12.0" stroke="#000" stroke-width="0.35">4</text>
<text transform="translate(325.90,773.45) scale(1.08,1.0)" text-anchor="middle" font-family="Liberation Serif" font-weight="bold" font-size="12.0" stroke="#000" stroke-width="0.35">6</text>
<rect x="316.10" y="769.55" width="3.2" height="1.5" fill="#000"/>
<text transform="translate(373.30,773.45) scale(1.08,1.0)" text-anchor="middle" font-family="Liberation Serif" font-weight="bold" font-size="12.0" stroke="#000" stroke-width="0.35">4</text>
<rect x="363.50" y="769.55" width="3.2" height="1.5" fill="#000"/>
<text transform="translate(420.70,773.45) scale(1.08,1.0)" text-anchor="middle" font-family="Liberation Serif" font-weight="bold" font-size="12.0" stroke="#000" stroke-width="0.35">2</text>
<rect x="410.90" y="769.55" width="3.2" height="1.5" fill="#000"/>
<text transform="translate(463.10,773.45) scale(1.08,1.0)" text-anchor="middle" font-family="Liberation Serif" font-weight="bold" font-size="12.0" stroke="#000" stroke-width="0.35">0</text>
<text transform="translate(510.50,773.45) scale(1.08,1.0)" text-anchor="middle" font-family="Liberation Serif" font-weight="bold" font-size="12.0" stroke="#000" stroke-width="0.35">2</text>
<text transform="translate(557.90,773.45) scale(1.08,1.0)" text-anchor="middle" font-family="Liberation Serif" font-weight="bold" font-size="12.0" stroke="#000" stroke-width="0.35">4</text>
<text transform="translate(402.20,792.55) scale(1.13,1.0)" text-anchor="middle" font-family="Liberation Serif" font-weight="bold" font-size="14.0" stroke="#000" stroke-width="0.3">e</text>
<text transform="translate(410.60,792.55) scale(1.13,1.0)" text-anchor="middle" font-family="Liberation Serif" font-weight="bold" font-size="14.0" stroke="#000" stroke-width="0.3">n</text>
<text transform="translate(418.80,792.55) scale(1.13,1.0)" text-anchor="middle" font-family="Liberation Serif" font-weight="bold" font-size="14.0" stroke="#000" stroke-width="0.3">e</text>
<text transform="translate(426.40,792.55) scale(1.13,1.0)" text-anchor="middle" font-family="Liberation Serif" font-weight="bold" font-size="14.0" stroke="#000" stroke-width="0.3">r</text>
<text transform="translate(434.60,792.55) scale(1.13,1.0)" text-anchor="middle" font-family="Liberation Serif" font-weight="bold" font-size="14.0" stroke="#000" stroke-width="0.3">g</text>
<text transform="translate(443.00,792.55) scale(1.13,1.0)" text-anchor="middle" font-family="Liberation Serif" font-weight="bold" font-size="14.0" stroke="#000" stroke-width="0.3">y</text>
<text transform="translate(459.30,792.55) scale(1.13,1.0)" text-anchor="middle" font-family="Liberation Serif" font-weight="bold" font-size="14.0" stroke="#000" stroke-width="0.3">(</text>
<text transform="translate(468.00,792.55) scale(1.13,1.0)" text-anchor="middle" font-family="Liberation Serif" font-weight="bold" font-size="14.0" stroke="#000" stroke-width="0.3">e</text>
<text transform="translate(477.40,792.55) scale(1.13,1.0)" text-anchor="middle" font-family="Liberation Serif" font-weight="bold" font-size="14.0" stroke="#000" stroke-width="0.3">V</text>
<text transform="translate(486.70,792.55) scale(1.13,1.0)" text-anchor="middle" font-family="Liberation Serif" font-weight="bold" font-size="14.0" stroke="#000" stroke-width="0.3">)</text>
<text transform="translate(301.70,744.80) rotate(-90) scale(1.13,1.06)" text-anchor="middle" font-family="Liberation Serif" font-weight="bold" font-size="14.0" stroke="#000" stroke-width="0.3">n</text>
<text transform="translate(301.70,736.20) rotate(-90) scale(1.13,1.06)" text-anchor="middle" font-family="Liberation Serif" font-weight="bold" font-size="14.0" stroke="#000" stroke-width="0.3">(</text>
<text transform="translate(301.70,727.60) rotate(-90) scale(1.13,1.06)" text-anchor="middle" font-family="Liberation Serif" font-weight="bold" font-size="14.0" stroke="#000" stroke-width="0.3">E</text>
<text transform="translate(301.70,718.90) rotate(-90) scale(1.13,1.06)" text-anchor="middle" font-family="Liberation Serif" font-weight="bold" font-size="14.0" stroke="#000" stroke-width="0.3">)</text>
<text transform="translate(301.70,703.20) rotate(-90) scale(1.13,1.06)" text-anchor="middle" font-family="Liberation Serif" font-weight="bold" font-size="14.0" stroke="#000" stroke-width="0.3">(</text>
<text transform="translate(301.70,696.50) rotate(-90) scale(1.13,1.06)" text-anchor="middle" font-family="Liberation Serif" font-weight="bold" font-size="14.0" stroke="#000" stroke-width="0.3">s</text>
<text transform="translate(301.70,688.80) rotate(-90) scale(1.13,1.06)" text-anchor="middle" font-family="Liberation Serif" font-weight="bold" font-size="14.0" stroke="#000" stroke-width="0.3">t</text>
<text transform="translate(301.70,680.50) rotate(-90) scale(1.13,1.06)" text-anchor="middle" font-family="Liberation Serif" font-weight="bold" font-size="14.0" stroke="#000" stroke-width="0.3">s</text>
<text transform="translate(301.70,673.20) rotate(-90) scale(1.13,1.06)" text-anchor="middle" font-family="Liberation Serif" font-weight="bold" font-size="14.0" stroke="#000" stroke-width="0.3">.</text>
<text transform="translate(301.70,665.10) rotate(-90) scale(1.13,1.06)" text-anchor="middle" font-family="Liberation Serif" font-weight="bold" font-size="14.0" stroke="#000" stroke-width="0.3">/</text>
<text transform="translate(301.70,654.60) rotate(-90) scale(1.13,1.06)" text-anchor="middle" font-family="Liberation Serif" font-weight="bold" font-size="14.0" stroke="#000" stroke-width="0.3">e</text>
<text transform="translate(301.70,645.10) rotate(-90) scale(1.13,1.06)" text-anchor="middle" font-family="Liberation Serif" font-weight="bold" font-size="14.0" stroke="#000" stroke-width="0.3">V</text>
<text transform="translate(301.70,635.80) rotate(-90) scale(1.13,1.06)" text-anchor="middle" font-family="Liberation Serif" font-weight="bold" font-size="14.0" stroke="#000" stroke-width="0.3">)</text>
<text transform="translate(449.70,652.00)" text-anchor="middle" font-family="Liberation Serif" font-weight="bold" font-size="12" stroke="#000" stroke-width="0.3">E</text>
<text transform="translate(457.30,656.70)" text-anchor="middle" font-family="Liberation Serif" font-weight="bold" font-size="9" stroke="#000" stroke-width="0.25">F</text>
<text x="481.80" y="739.80" textLength="62.70" lengthAdjust="spacingAndGlyphs" font-family="Liberation Serif" font-size="11" stroke="#000" stroke-width="0.2">a = 12.25 a.u.</text>
<text transform="translate(342.60,660.60)" text-anchor="middle" font-family="Liberation Serif" font-weight="bold" font-size="12.5" stroke="#000" stroke-width="0.35">w</text>
<text transform="translate(349.20,660.60)" text-anchor="middle" font-family="Liberation Serif" font-weight="bold" font-size="12.5" stroke="#000" stroke-width="0.35">u</text>
<text transform="translate(354.00,660.60)" text-anchor="middle" font-family="Liberation Serif" font-weight="bold" font-size="12.5" stroke="#000" stroke-width="0.35">r</text>
<text transform="translate(360.90,660.60) scale(1.1,1.0)" text-anchor="middle" font-family="Liberation Serif" font-weight="bold" font-size="12.5" stroke="#000" stroke-width="0.35">t</text>
<text transform="translate(368.70,660.60) scale(1.1,1.0)" text-anchor="middle" font-family="Liberation Serif" font-weight="bold" font-size="12.5" stroke="#000" stroke-width="0.35">z</text>
<text transform="translate(374.70,660.60)" text-anchor="middle" font-family="Liberation Serif" font-weight="bold" font-size="12.5" stroke="#000" stroke-width="0.35">i</text>
<text transform="translate(381.80,660.60) scale(1.1,1.0)" text-anchor="middle" font-family="Liberation Serif" font-weight="bold" font-size="12.5" stroke="#000" stroke-width="0.35">t</text>
<text transform="translate(389.40,660.60) scale(1.1,1.0)" text-anchor="middle" font-family="Liberation Serif" font-weight="bold" font-size="12.5" stroke="#000" stroke-width="0.35">e</text>
</svg></body></html>
